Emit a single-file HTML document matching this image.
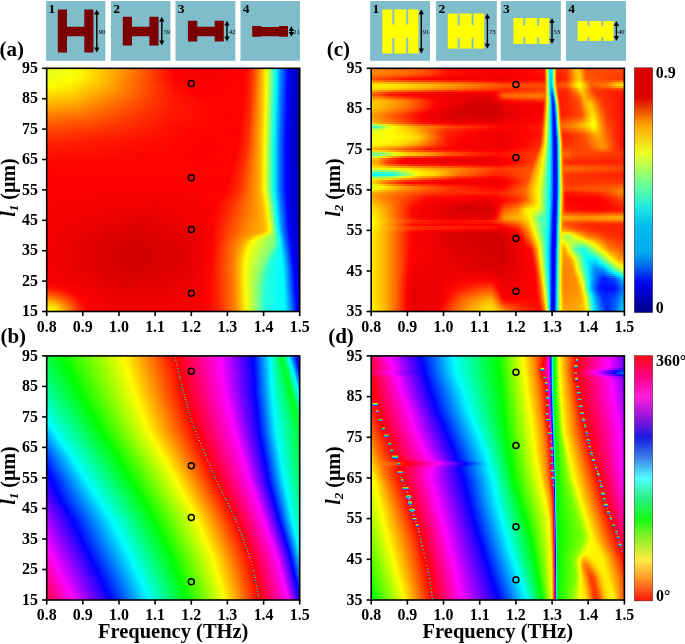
<!DOCTYPE html>
<html lang="en"><head><meta charset="utf-8"><title>Figure</title>
<style>
html,body{margin:0;padding:0;background:#fff}
body{width:685px;height:644px;position:relative;overflow:hidden;font-family:"Liberation Serif",serif}
.hm{position:absolute;overflow:hidden}
.hm i{display:block;width:100%;margin-bottom:-0.3px}
svg{position:absolute;left:0;top:0}
svg text{font-family:"Liberation Serif",serif;font-weight:bold;fill:#000}
.tk{font-size:15.9px}
.yl{font-size:20px}
.xl{font-size:20.5px}
.pl{font-size:21px}
.tn{font-size:13.5px}
.ts{font-size:6.6px;font-weight:normal}
.cb{font-size:15.9px}
</style></head><body>
<div class="hm" style="left:46.7px;top:68.3px;width:253.0px;height:243.2px">
<i style="height:2.30px;background:linear-gradient(90deg,#e5ff1a 0.2%,#f5ff0a 9.3%,#fff900 13.2%,#ffa000 28.3%,#ff0100 50.4%,#f70000 62.3%,#ff0300 78.5%,#ff2f00 81.2%,#ffab00 84.8%,#fff200 86.4%,#f7ff08 86.8%,#0ffff0 90.3%,#00f4ff 90.7%,#0078ff 92.7%,#000aff 95.1%,#0000fc 95.5%,#0000ac 99.4%,#0000a9 99.8%)"></i>
<i style="height:2.30px;background:linear-gradient(90deg,#e5ff1a 0.2%,#f5ff0a 9.3%,#fff900 13.2%,#ffa000 28.3%,#ff0100 50.4%,#f70000 61.9%,#ff0300 78.5%,#ff2f00 81.2%,#ffbc00 85.2%,#fff200 86.4%,#f7ff08 86.8%,#0ffff0 90.3%,#00f4ff 90.7%,#07f 92.7%,#0009ff 95.1%,#0000fb 95.5%,#0000ac 99.4%,#0000a9 99.8%)"></i>
<i style="height:2.30px;background:linear-gradient(90deg,#e6ff19 0.2%,#f6ff09 9.3%,#fff800 13.2%,#ffa000 28.3%,#f00 50.4%,#f60000 61.5%,#ff0400 78.5%,#ff3000 81.2%,#ffbc00 85.2%,#fff300 86.4%,#f6ff09 86.8%,#0dfff2 90.3%,#00f2ff 90.7%,#0076ff 92.7%,#0008ff 95.1%,#0000fb 95.5%,#0000ac 99.4%,#0000a9 99.8%)"></i>
<i style="height:2.30px;background:linear-gradient(90deg,#e8ff17 0.2%,#f8ff07 9.3%,#fff600 13.2%,#ff9e00 28.3%,#f00 50.4%,#f60000 61.9%,#f00 78.1%,#ff3100 81.2%,#ffbd00 85.2%,#fff300 86.4%,#f6ff09 86.8%,#0cfff3 90.3%,#00f1ff 90.7%,#0075ff 92.7%,#0007ff 95.1%,#0000f1 95.8%,#0000ac 99.4%,#0000a9 99.8%)"></i>
<i style="height:2.30px;background:linear-gradient(90deg,#ebff14 0.2%,#fbff04 9.3%,#ffea00 15.2%,#ff7f00 32.6%,#ff0100 50.4%,#f70000 62.3%,#ff0100 78.1%,#ff3200 81.2%,#ffbd00 85.2%,#fff400 86.4%,#f5ff0a 86.8%,#0afff5 90.3%,#00efff 90.7%,#0074ff 92.7%,#0006ff 95.1%,#0000f0 95.8%,#0000ac 99.4%,#0000a9 99.8%)"></i>
<i style="height:2.30px;background:linear-gradient(90deg,#efff10 0.2%,#fffc00 10.5%,#fb0 23.1%,#ff2800 44.5%,#fe0000 51.2%,#f80000 63.4%,#ff0100 78.1%,#ff2a00 80.8%,#ff6a00 82.8%,#ffcf00 85.6%,#fff400 86.4%,#f4ff0b 86.8%,#09fff6 90.3%,#0ef 90.7%,#0073ff 92.7%,#0006ff 95.1%,#0000e8 96.2%,#0000ac 99.4%,#0000a9 99.8%)"></i>
<i style="height:2.30px;background:linear-gradient(90deg,#f3ff0c 0.2%,#fffa00 9.7%,#ffbf00 21.9%,#ff2900 44.5%,#fe0000 51.6%,#f90000 64.2%,#ff0200 78.1%,#ff2b00 80.8%,#ff7900 83.2%,#ffcf00 85.6%,#fff400 86.4%,#f4ff0b 86.8%,#08fff7 90.3%,#00d2ff 91.1%,#0071ff 92.7%,#0005ff 95.1%,#0000d0 97.4%,#0000ac 99.4%,#0000a9 99.8%)"></i>
<i style="height:2.30px;background:linear-gradient(90deg,#f8ff07 0.2%,#fff900 8.5%,#ffc500 20.4%,#ff2c00 44.1%,#f00 52.0%,#fa0000 65.8%,#ff0200 78.1%,#ff2c00 80.8%,#ffaf00 84.8%,#fff500 86.4%,#f3ff0c 86.8%,#06fff9 90.3%,#00d1ff 91.1%,#0070ff 92.7%,#0004ff 95.1%,#0000ac 99.4%,#0000a9 99.8%)"></i>
<i style="height:2.30px;background:linear-gradient(90deg,#fdff02 0.2%,#fff400 8.5%,#ffc000 20.4%,#ff0500 51.2%,#fa0000 60.7%,#ff0300 78.1%,#ff2d00 80.8%,#ffbf00 85.2%,#fff500 86.4%,#f3ff0c 86.8%,#05fffa 90.3%,#006fff 92.7%,#0003ff 95.1%,#0000ac 99.4%,#0000a9 99.8%)"></i>
<i style="height:2.30px;background:linear-gradient(90deg,#fffa00 0.2%,#ffe900 10.1%,#ffad00 23.1%,#ff0900 50.8%,#fd0000 55.1%,#ff0300 78.1%,#ff2d00 80.8%,#ffbf00 85.2%,#fff600 86.4%,#f2ff0d 86.8%,#03fffc 90.3%,#006eff 92.7%,#0003ff 95.1%,#0000ac 99.4%,#0000a9 99.8%)"></i>
<i style="height:2.30px;background:linear-gradient(90deg,#fff400 0.2%,#ffe300 10.1%,#ffa600 23.5%,#ff0c00 50.8%,#fe0000 55.9%,#ff0400 78.1%,#ff2e00 80.8%,#ffc000 85.2%,#fff600 86.4%,#f1ff0e 86.8%,#02fffd 90.3%,#0082ff 92.3%,#01f 94.7%,#0002ff 95.1%,#0000ac 99.4%,#0000a9 99.8%)"></i>
<i style="height:2.30px;background:linear-gradient(90deg,#ffec00 0.2%,#ffdc00 10.1%,#ff9f00 23.9%,#ff0f00 50.4%,#fe0000 57.1%,#ff0100 77.7%,#ff2f00 80.8%,#ffc000 85.2%,#fff700 86.4%,#f1ff0e 86.8%,#0ff 90.3%,#0080ff 92.3%,#0010ff 94.7%,#0001ff 95.1%,#0000ac 99.4%,#0000a9 99.8%)"></i>
<i style="height:2.30px;background:linear-gradient(90deg,#ffe400 0.2%,#ffd400 10.5%,#ff9500 24.7%,#ff1300 50.0%,#fe0000 58.3%,#ff0100 77.7%,#ff3000 80.8%,#ffc100 85.2%,#fff700 86.4%,#f0ff0f 86.8%,#00feff 90.3%,#007fff 92.3%,#000fff 94.7%,#0001ff 95.1%,#0000ac 99.4%,#0000a9 99.8%)"></i>
<i style="height:2.30px;background:linear-gradient(90deg,#ffdc00 0.2%,#fc0 10.5%,#ff8c00 25.5%,#ff1500 50.0%,#f00 59.9%,#ff0200 77.7%,#ff3100 80.8%,#f90 84.0%,#ffd200 85.6%,#fff800 86.4%,#f0ff0f 86.8%,#00fcff 90.3%,#007eff 92.3%,#000eff 94.7%,#00f 95.1%,#0000ac 99.4%,#0000a9 99.8%)"></i>
<i style="height:2.30px;background:linear-gradient(90deg,#ffd400 0.2%,#ffc300 10.9%,#ff8100 26.7%,#ff1700 49.6%,#ff0100 60.7%,#ff0200 77.7%,#ff3200 80.8%,#ff9a00 84.0%,#ffd200 85.6%,#fff800 86.4%,#efff10 86.8%,#00fbff 90.3%,#007dff 92.3%,#000dff 94.7%,#00f 95.1%,#0000ac 99.4%,#0000a9 99.8%)"></i>
<i style="height:2.30px;background:linear-gradient(90deg,#ffcb00 0.2%,#ffba00 11.3%,#ff7200 28.7%,#ff1700 50.0%,#ff0200 61.9%,#ff0300 77.7%,#ff2a00 80.4%,#ff5c00 82.0%,#ffc200 85.2%,#fff900 86.4%,#ef1 86.8%,#16ffe9 89.9%,#00f9ff 90.3%,#007cff 92.3%,#000cff 94.7%,#0000fe 95.1%,#0000ac 99.4%,#0000a9 99.8%)"></i>
<i style="height:2.30px;background:linear-gradient(90deg,#ffc200 0.2%,#ffb200 11.3%,#ff6900 29.4%,#ff1700 50.0%,#ff0300 62.6%,#ff0300 77.7%,#ff2b00 80.4%,#ff5e00 82.0%,#ffc200 85.2%,#fff900 86.4%,#ef1 86.8%,#14ffeb 89.9%,#00f8ff 90.3%,#007aff 92.3%,#000bff 94.7%,#0000fd 95.1%,#0000ac 99.4%,#0000a9 99.8%)"></i>
<i style="height:2.30px;background:linear-gradient(90deg,#ffb900 0.2%,#ffa800 11.7%,#ff5900 32.2%,#ff1600 50.8%,#ff0200 65.0%,#ff0400 77.7%,#ff2b00 80.4%,#ff9200 83.6%,#ffc200 85.2%,#fffa00 86.4%,#d4ff2b 87.2%,#13ffec 89.9%,#00f6ff 90.3%,#0079ff 92.3%,#000bff 94.7%,#0000fd 95.1%,#0000ac 99.4%,#0000a9 99.8%)"></i>
<i style="height:2.30px;background:linear-gradient(90deg,#ffb000 0.2%,#ff9f00 12.1%,#ff1a00 49.2%,#ff0300 63.8%,#ff0100 77.3%,#ff2d00 80.4%,#ff9200 83.6%,#ffc300 85.2%,#fffb00 86.4%,#d3ff2c 87.2%,#1fe 89.9%,#00f5ff 90.3%,#0078ff 92.3%,#000aff 94.7%,#0000fc 95.1%,#0000ac 99.4%,#0000a9 99.8%)"></i>
<i style="height:2.30px;background:linear-gradient(90deg,#ffa700 0.2%,#ff9500 12.5%,#ff1a00 48.8%,#ff0300 64.6%,#ff0100 77.3%,#ff2e00 80.4%,#ff9300 83.6%,#ffc400 85.2%,#fffc00 86.4%,#b7ff48 87.5%,#10ffef 89.9%,#00f4ff 90.3%,#07f 92.3%,#0009ff 94.7%,#0000fc 95.1%,#0000ab 99.4%,#0000a9 99.8%)"></i>
<i style="height:2.30px;background:linear-gradient(90deg,#ff9d00 0.2%,#ff8c00 12.8%,#ff1a00 48.4%,#ff0300 65.4%,#ff0200 77.3%,#ff2f00 80.4%,#ff9400 83.6%,#ffc500 85.2%,#fffd00 86.4%,#9aff65 87.9%,#0efff1 89.9%,#00f2ff 90.3%,#0076ff 92.3%,#0008ff 94.7%,#0000fb 95.1%,#0000ab 99.4%,#0000a9 99.8%)"></i>
<i style="height:2.30px;background:linear-gradient(90deg,#ff9400 0.2%,#ff8300 13.2%,#ff1900 48.4%,#ff0200 66.6%,#ff0300 77.3%,#ff3100 80.4%,#ff8b00 83.2%,#ffb700 84.8%,#ff0 86.4%,#61ff9e 88.7%,#0dfff2 89.9%,#00f1ff 90.3%,#0075ff 92.3%,#0008ff 94.7%,#0000f2 95.5%,#0000ab 99.4%,#0000a9 99.8%)"></i>
<i style="height:2.30px;background:linear-gradient(90deg,#ff8b00 0.2%,#ff7a00 13.6%,#ff1800 48.4%,#ff0100 68.2%,#ff0400 77.3%,#f30 80.4%,#ff8c00 83.2%,#ffb800 84.8%,#feff01 86.4%,#4fb 89.1%,#0cfff3 89.9%,#00f0ff 90.3%,#0074ff 92.3%,#0007ff 94.7%,#0000f2 95.5%,#0000ab 99.4%,#0000a9 99.8%)"></i>
<i style="height:2.30px;background:linear-gradient(90deg,#ff8200 0.2%,#ff7100 14.0%,#ff1600 48.4%,#ff0100 69.4%,#ff0100 76.9%,#ff2b00 80.0%,#ff9600 83.6%,#ffc800 85.2%,#fdff02 86.4%,#42ffbd 89.1%,#0afff5 89.9%,#0ef 90.3%,#0073ff 92.3%,#0006ff 94.7%,#0000f1 95.5%,#0000ab 99.4%,#0000a9 99.8%)"></i>
<i style="height:2.30px;background:linear-gradient(90deg,#ff7a00 0.2%,#ff6800 14.8%,#ff1500 48.4%,#f00 70.6%,#ff0200 76.9%,#ff2c00 80.0%,#ff9700 83.6%,#ffc900 85.2%,#fcff03 86.4%,#41ffbe 89.1%,#09fff6 89.9%,#00edff 90.3%,#0072ff 92.3%,#0005ff 94.7%,#0000ea 95.8%,#0000ab 99.4%,#0000a9 99.8%)"></i>
<i style="height:2.30px;background:linear-gradient(90deg,#ff7100 0.2%,#ff6000 15.2%,#ff1300 48.8%,#f00 71.7%,#ff0200 76.9%,#ff2d00 80.0%,#ff8e00 83.2%,#ffba00 84.8%,#faff05 86.4%,#3fffc0 89.1%,#08fff7 89.9%,#00d1ff 90.7%,#0071ff 92.3%,#0005ff 94.7%,#0000d4 97.0%,#0000ab 99.4%,#0000a9 99.8%)"></i>
<i style="height:2.30px;background:linear-gradient(90deg,#ff6900 0.2%,#ff5700 16.0%,#f10 49.2%,#f00 72.5%,#ff0300 76.9%,#ff2f00 80.0%,#ff8f00 83.2%,#fb0 84.8%,#fff000 86.0%,#f9ff06 86.4%,#3effc1 89.1%,#06fff9 89.9%,#00d0ff 90.7%,#0070ff 92.3%,#0004ff 94.7%,#0000ab 99.4%,#0000a9 99.8%)"></i>
<i style="height:2.30px;background:linear-gradient(90deg,#ff6100 0.2%,#ff4f00 16.8%,#ff0f00 49.6%,#fe0000 73.3%,#ff0400 76.9%,#ff3000 80.0%,#ff9000 83.2%,#ffbc00 84.8%,#fff100 86.0%,#f8ff07 86.4%,#3cffc3 89.1%,#05fffa 89.9%,#0084ff 91.9%,#0012ff 94.3%,#0004ff 94.7%,#0000ab 99.4%,#0000a9 99.8%)"></i>
<i style="height:2.30px;background:linear-gradient(90deg,#ff5900 0.2%,#ff4800 17.6%,#ff0c00 50.4%,#fe0000 74.9%,#ff0500 76.9%,#ff3200 80.0%,#ff9100 83.2%,#ffbd00 84.8%,#fff200 86.0%,#f6ff09 86.4%,#3bffc4 89.1%,#03fffc 89.9%,#006eff 92.3%,#0003ff 94.7%,#0000ab 99.4%,#0000a9 99.8%)"></i>
<i style="height:2.30px;background:linear-gradient(90deg,#ff5200 0.2%,#ff4000 18.4%,#ff0a00 51.2%,#f00 76.1%,#ff2b00 79.6%,#ff9100 83.2%,#ffbe00 84.8%,#fff300 86.0%,#f5ff0a 86.4%,#3affc5 89.1%,#02fffd 89.9%,#0082ff 91.9%,#01f 94.3%,#0002ff 94.7%,#0000ab 99.4%,#0000a9 99.8%)"></i>
<i style="height:2.30px;background:linear-gradient(90deg,#ff4b00 0.2%,#ff3900 19.2%,#ff0800 52.0%,#f00 76.1%,#ff2c00 79.6%,#ff9200 83.2%,#ffbf00 84.8%,#fff500 86.0%,#f3ff0c 86.4%,#38ffc7 89.1%,#01fffe 89.9%,#0080ff 91.9%,#0010ff 94.3%,#0002ff 94.7%,#0000ab 99.4%,#0000a9 99.8%)"></i>
<i style="height:2.30px;background:linear-gradient(90deg,#f40 0.2%,#f30 20.4%,#ff0600 53.2%,#f00 76.1%,#ff2d00 79.6%,#ff9300 83.2%,#ffc000 84.8%,#fff600 86.0%,#f2ff0d 86.4%,#37ffc8 89.1%,#00feff 89.9%,#007fff 91.9%,#000fff 94.3%,#0001ff 94.7%,#0000ab 99.4%,#0000a9 99.8%)"></i>
<i style="height:2.30px;background:linear-gradient(90deg,#ff3e00 0.2%,#ff2c00 21.9%,#ff0400 54.7%,#f00 76.1%,#ff2e00 79.6%,#ff9400 83.2%,#ffc100 84.8%,#fff700 86.0%,#f1ff0e 86.4%,#35ffca 89.1%,#00fdff 89.9%,#007eff 91.9%,#000eff 94.3%,#0001ff 94.7%,#0000ab 99.4%,#0000a9 99.8%)"></i>
<i style="height:2.30px;background:linear-gradient(90deg,#ff3800 0.2%,#ff2600 23.1%,#ff0300 56.3%,#ff0100 76.1%,#ff3000 79.6%,#ff9400 83.2%,#ffc200 84.8%,#fff800 86.0%,#efff10 86.4%,#34ffcb 89.1%,#00fcff 89.9%,#007dff 91.9%,#000eff 94.3%,#00f 94.7%,#0000ab 99.4%,#0000a9 99.8%)"></i>
<i style="height:2.30px;background:linear-gradient(90deg,#f30 0.2%,#ff1f00 25.1%,#ff0100 58.7%,#ff0200 76.1%,#ff3100 79.6%,#ff8c00 82.8%,#ffb400 84.4%,#fffa00 86.0%,#d5ff2a 86.8%,#17ffe8 89.5%,#00faff 89.9%,#007cff 91.9%,#000dff 94.3%,#00f 94.7%,#0000ab 99.4%,#0000a9 99.8%)"></i>
<i style="height:2.30px;background:linear-gradient(90deg,#ff2e00 0.2%,#ff1a00 27.1%,#f00 60.7%,#ff0300 76.1%,#ff2a00 79.2%,#ff9600 83.2%,#ffc300 84.8%,#fffb00 86.0%,#d4ff2b 86.8%,#15ffea 89.5%,#00f9ff 89.9%,#007bff 91.9%,#000cff 94.3%,#0000fe 94.7%,#0000ab 99.4%,#0000a9 99.8%)"></i>
<i style="height:2.30px;background:linear-gradient(90deg,#ff2900 0.2%,#ff1400 30.2%,#f00 62.6%,#ff0400 76.1%,#ff2c00 79.2%,#ff9700 83.2%,#ffb500 84.4%,#fffc00 86.0%,#b9ff46 87.2%,#14ffeb 89.5%,#00f8ff 89.9%,#007aff 91.9%,#000cff 94.3%,#0000fe 94.7%,#0000ab 99.4%,#0000a9 99.8%)"></i>
<i style="height:2.30px;background:linear-gradient(90deg,#ff2400 0.2%,#ff0d00 34.6%,#fe0000 65.8%,#ff0100 75.7%,#ff2d00 79.2%,#ff9700 83.2%,#ffb600 84.4%,#fffd00 86.0%,#9dff62 87.5%,#13ffec 89.5%,#00f7ff 89.9%,#0079ff 91.9%,#000bff 94.3%,#0000fd 94.7%,#0000ab 99.4%,#0000a9 99.8%)"></i>
<i style="height:2.30px;background:linear-gradient(90deg,#ff2000 0.2%,#fe0000 61.1%,#ff0300 75.7%,#ff3000 79.2%,#ff8f00 82.8%,#ffb600 84.4%,#fffd00 86.0%,#82ff7d 87.9%,#13ffec 89.5%,#00f6ff 89.9%,#0079ff 91.9%,#000bff 94.3%,#0000fd 94.7%,#0000ab 99.4%,#0000a9 99.8%)"></i>
<i style="height:2.30px;background:linear-gradient(90deg,#ff1c00 0.2%,#fe0000 61.1%,#ff0100 75.3%,#ff2b00 78.9%,#ff9800 83.2%,#ffb700 84.4%,#fffe00 86.0%,#82ff7d 87.9%,#13ffec 89.5%,#00f6ff 89.9%,#0079ff 91.9%,#000bff 94.3%,#0000fd 94.7%,#0000ac 99.4%,#0000a9 99.8%)"></i>
<i style="height:2.30px;background:linear-gradient(90deg,#ff1900 0.2%,#fe0000 60.7%,#ff0300 75.3%,#ff2d00 78.9%,#f90 83.2%,#ffb700 84.4%,#fffe00 86.0%,#82ff7d 87.9%,#13ffec 89.5%,#00f6ff 89.9%,#0079ff 91.9%,#000bff 94.3%,#0000fe 94.7%,#0000ac 99.4%,#0000a9 99.8%)"></i>
<i style="height:2.30px;background:linear-gradient(90deg,#ff1600 0.2%,#fe0000 60.3%,#ff0200 74.9%,#ff3000 78.9%,#ff9a00 83.2%,#ffb700 84.4%,#fffe00 86.0%,#82ff7d 87.9%,#13ffec 89.5%,#00f6ff 89.9%,#0079ff 91.9%,#000bff 94.3%,#0000fe 94.7%,#0000ac 99.4%,#0000a9 99.8%)"></i>
<i style="height:2.30px;background:linear-gradient(90deg,#ff1300 0.2%,#fe0000 59.5%,#ff0400 74.9%,#f30 78.9%,#ff9a00 83.2%,#ffb800 84.4%,#fffe00 86.0%,#82ff7d 87.9%,#13ffec 89.5%,#00f6ff 89.9%,#0079ff 91.9%,#000bff 94.3%,#0000fe 94.7%,#0000ac 99.4%,#0000a9 99.8%)"></i>
<i style="height:2.30px;background:linear-gradient(90deg,#ff1000 0.2%,#fe0000 59.1%,#ff0200 74.5%,#ff2e00 78.5%,#ffb800 84.4%,#fffe00 86.0%,#67ff98 88.3%,#13ffec 89.5%,#00f6ff 89.9%,#0079ff 91.9%,#000bff 94.3%,#0000fe 94.7%,#0000ac 99.4%,#0000a9 99.8%)"></i>
<i style="height:2.30px;background:linear-gradient(90deg,#ff0e00 0.2%,#fe0000 58.3%,#ff0400 74.5%,#ff3000 78.5%,#ffb800 84.4%,#ff0 86.0%,#67ff98 88.3%,#13ffec 89.5%,#00f6ff 89.9%,#0079ff 91.9%,#000cff 94.3%,#0000fe 94.7%,#0000ac 99.4%,#0000a9 99.8%)"></i>
<i style="height:2.30px;background:linear-gradient(90deg,#ff0b00 0.2%,#fe0000 58.7%,#ff0200 74.1%,#f30 78.5%,#ffb800 84.4%,#ff0 86.0%,#67ff98 88.3%,#13ffec 89.5%,#00f6ff 89.9%,#0079ff 91.9%,#000cff 94.3%,#0000fe 94.7%,#0000ad 99.4%,#0000a9 99.8%)"></i>
<i style="height:2.30px;background:linear-gradient(90deg,#ff0900 0.2%,#fd0000 60.3%,#ff0100 73.7%,#ff2e00 78.1%,#ffb900 84.4%,#ff0 86.0%,#67ff98 88.3%,#13ffec 89.5%,#00f6ff 89.9%,#0079ff 91.9%,#000cff 94.3%,#0000fe 94.7%,#0000ad 99.4%,#0000a9 99.8%)"></i>
<i style="height:2.30px;background:linear-gradient(90deg,#ff0700 0.2%,#fd0000 65.4%,#ff0300 73.7%,#ff3100 78.1%,#ffb900 84.4%,#ff0 86.0%,#67ff98 88.3%,#13ffec 89.5%,#00f6ff 89.9%,#0079ff 91.9%,#000cff 94.3%,#0000fe 94.7%,#0000ad 99.4%,#00a 99.8%)"></i>
<i style="height:2.30px;background:linear-gradient(90deg,#ff0600 0.2%,#fe0000 72.9%,#ff2c00 77.7%,#ffb900 84.4%,#ff0 86.0%,#67ff98 88.3%,#13ffec 89.5%,#00f6ff 89.9%,#0079ff 91.9%,#000cff 94.3%,#0000fe 94.7%,#0000ad 99.4%,#00a 99.8%)"></i>
<i style="height:2.30px;background:linear-gradient(90deg,#ff0400 0.2%,#ff0300 73.3%,#ff2e00 77.7%,#ffae00 84.0%,#ffd900 85.2%,#ff0 86.0%,#67ff98 88.3%,#13ffec 89.5%,#00f6ff 89.9%,#0079ff 91.9%,#000cff 94.3%,#0000fe 94.7%,#0000ad 99.4%,#00a 99.8%)"></i>
<i style="height:2.30px;background:linear-gradient(90deg,#ff0300 0.2%,#ff0200 72.9%,#ff3100 77.7%,#ffae00 84.0%,#ffd900 85.2%,#feff01 86.0%,#67ff98 88.3%,#13ffec 89.5%,#00f6ff 89.9%,#0079ff 91.9%,#000cff 94.3%,#0000fe 94.7%,#0000ad 99.4%,#00a 99.8%)"></i>
<i style="height:2.30px;background:linear-gradient(90deg,#ff0200 0.2%,#ff0300 72.9%,#f30 77.7%,#ffae00 84.0%,#ffd900 85.2%,#feff01 86.0%,#67ff98 88.3%,#13ffec 89.5%,#00f6ff 89.9%,#0079ff 91.9%,#000cff 94.3%,#00f 94.7%,#00a 99.8%)"></i>
<i style="height:2.30px;background:linear-gradient(90deg,#f00 0.2%,#ff0200 72.5%,#ff2f00 77.3%,#ffae00 84.0%,#ffda00 85.2%,#feff01 86.0%,#67ff98 88.3%,#13ffec 89.5%,#00f6ff 89.9%,#0079ff 91.9%,#000cff 94.3%,#00f 94.7%,#00a 99.8%)"></i>
<i style="height:2.30px;background:linear-gradient(90deg,#f00 0.2%,#ff0300 72.5%,#ff3100 77.3%,#ffaf00 84.0%,#ffda00 85.2%,#feff01 86.0%,#67ff98 88.3%,#13ffec 89.5%,#00f6ff 89.9%,#0079ff 91.9%,#000dff 94.3%,#00f 94.7%,#00a 99.8%)"></i>
<i style="height:2.30px;background:linear-gradient(90deg,#fe0000 0.2%,#ff0200 72.1%,#f30 77.3%,#ffaf00 84.0%,#ffda00 85.2%,#feff01 86.0%,#67ff98 88.3%,#13ffec 89.5%,#00f6ff 89.9%,#0079ff 91.9%,#000dff 94.3%,#00f 94.7%,#00a 99.8%)"></i>
<i style="height:2.30px;background:linear-gradient(90deg,#fe0000 0.2%,#fe0000 71.3%,#ff2f00 76.9%,#ffaf00 84.0%,#ffda00 85.2%,#feff01 86.0%,#67ff98 88.3%,#13ffec 89.5%,#00f6ff 89.9%,#0079ff 91.9%,#000dff 94.3%,#00f 94.7%,#00a 99.8%)"></i>
<i style="height:2.30px;background:linear-gradient(90deg,#fe0000 0.2%,#fd0000 70.9%,#ff2300 75.7%,#ff4600 78.1%,#ffaf00 84.0%,#ffda00 85.2%,#fdff02 86.0%,#67ff98 88.3%,#13ffec 89.5%,#00f6ff 89.9%,#0079ff 91.9%,#000dff 94.3%,#00f 94.7%,#00a 99.8%)"></i>
<i style="height:2.30px;background:linear-gradient(90deg,#fd0000 0.2%,#fd0000 70.6%,#ff0a00 72.5%,#f30 76.9%,#ffb000 84.0%,#ffdb00 85.2%,#fdff02 86.0%,#67ff98 88.3%,#13ffec 89.5%,#00f6ff 89.9%,#0079ff 91.9%,#000dff 94.3%,#00f 94.7%,#00a 99.8%)"></i>
<i style="height:2.30px;background:linear-gradient(90deg,#fd0000 0.2%,#fc0000 69.0%,#ff0500 71.7%,#ff2e00 76.5%,#ffb000 84.0%,#ffdb00 85.2%,#fdff02 86.0%,#67ff98 88.3%,#13ffec 89.5%,#00f6ff 89.9%,#0079ff 91.9%,#000dff 94.3%,#00f 94.7%,#0000ab 99.8%)"></i>
<i style="height:2.30px;background:linear-gradient(90deg,#fd0000 0.2%,#fb0000 63.0%,#ff0300 71.3%,#ff3000 76.5%,#ffb000 84.0%,#ffdb00 85.2%,#fdff02 86.0%,#67ff98 88.3%,#13ffec 89.5%,#00f6ff 89.9%,#0079ff 91.9%,#000dff 94.3%,#00f 94.7%,#0000ab 99.8%)"></i>
<i style="height:2.30px;background:linear-gradient(90deg,#fc0000 0.2%,#fa0000 58.7%,#ff0100 70.9%,#ff2d00 76.1%,#ffb000 84.0%,#ffdb00 85.2%,#fdff02 86.0%,#67ff98 88.3%,#13ffec 89.5%,#00f7ff 89.9%,#007aff 91.9%,#000eff 94.3%,#0001ff 94.7%,#0000ab 99.8%)"></i>
<i style="height:2.30px;background:linear-gradient(90deg,#fc0000 0.2%,#f90000 55.5%,#ff0100 70.6%,#ff3100 76.1%,#ffaf00 84.0%,#ffd800 85.2%,#fffd00 86.0%,#a0ff5f 87.5%,#16ffe9 89.5%,#00faff 89.9%,#007cff 91.9%,#000fff 94.3%,#0001ff 94.7%,#0000ab 99.8%)"></i>
<i style="height:2.30px;background:linear-gradient(90deg,#fc0000 0.2%,#f80000 52.8%,#ff0200 70.2%,#ff3000 75.7%,#ffad00 84.0%,#ffd300 85.2%,#fff700 86.0%,#f1ff0e 86.4%,#5fa 88.7%,#00feff 89.9%,#0080ff 91.9%,#01f 94.3%,#0003ff 94.7%,#0000ab 99.8%)"></i>
<i style="height:2.30px;background:linear-gradient(90deg,#fb0000 0.2%,#f60000 50.8%,#ff0300 69.8%,#ff3000 75.3%,#ffb400 84.4%,#fff100 86.0%,#f8ff07 86.4%,#78ff87 88.3%,#05fffa 89.9%,#009bff 91.5%,#0049ff 93.1%,#0004ff 94.7%,#0000ab 99.8%)"></i>
<i style="height:2.30px;background:linear-gradient(90deg,#fb0000 0.2%,#f50000 48.8%,#ff0400 69.4%,#ff3000 74.9%,#ffb100 84.4%,#ffda00 85.6%,#fefe01 86.4%,#9aff65 87.9%,#0bfff4 89.9%,#0ef 90.3%,#0072ff 92.3%,#0006ff 94.7%,#0000f2 95.5%,#0000ab 99.8%)"></i>
<i style="height:2.30px;background:linear-gradient(90deg,#fb0000 0.2%,#f40000 47.2%,#ff0100 68.6%,#ff3000 74.5%,#ffaf00 84.4%,#ffd500 85.6%,#fff900 86.4%,#f0ff0f 86.8%,#69ff96 88.7%,#10ffef 89.9%,#00f4ff 90.3%,#0076ff 92.3%,#0008ff 94.7%,#0000fb 95.1%,#0000ab 99.8%)"></i>
<i style="height:2.30px;background:linear-gradient(90deg,#fa0000 0.2%,#f20000 45.7%,#fe0000 67.4%,#ff2b00 73.7%,#ffad00 84.4%,#ffd000 85.6%,#fff200 86.4%,#f7ff08 86.8%,#70ff8f 88.7%,#16ffe9 89.9%,#00f9ff 90.3%,#007aff 92.3%,#000aff 94.7%,#0000fd 95.1%,#0000ab 99.8%)"></i>
<i style="height:2.30px;background:linear-gradient(90deg,#fa0000 0.2%,#f10000 44.5%,#fe0000 67.0%,#ff2b00 73.3%,#ffb300 84.8%,#ffed00 86.4%,#feff01 86.8%,#95ff6a 88.3%,#00feff 90.3%,#007eff 92.3%,#000cff 94.7%,#0000fe 95.1%,#0000ab 99.8%)"></i>
<i style="height:2.30px;background:linear-gradient(90deg,#fa0000 0.2%,#ef0000 43.3%,#fd0000 66.2%,#ff1000 69.4%,#f30 73.7%,#ffb100 84.8%,#ffd700 86.0%,#fffa00 86.8%,#ef1 87.2%,#60ff9f 89.1%,#05fffa 90.3%,#0083ff 92.3%,#000fff 94.7%,#0001ff 95.1%,#0000ab 99.8%)"></i>
<i style="height:2.30px;background:linear-gradient(90deg,#f90000 0.2%,#e00 42.1%,#fc0000 65.4%,#ff0700 67.8%,#f30 73.3%,#ffaf00 84.8%,#ffd200 86.0%,#fff300 86.8%,#f6ff09 87.2%,#87ff78 88.7%,#0bfff4 90.3%,#0ef 90.7%,#0071ff 92.7%,#01f 94.7%,#0002ff 95.1%,#0000ab 99.8%)"></i>
<i style="height:2.30px;background:linear-gradient(90deg,#f90000 0.2%,#ec0000 41.3%,#fb0000 65.0%,#ff0700 67.4%,#ff3200 72.9%,#ffb500 85.2%,#fe0 86.8%,#fdff02 87.2%,#8eff71 88.7%,#1fe 90.3%,#00f3ff 90.7%,#0075ff 92.7%,#0013ff 94.7%,#0004ff 95.1%,#0000ac 99.8%)"></i>
<i style="height:2.30px;background:linear-gradient(90deg,#f90000 0.2%,#eb0000 40.5%,#fa0000 64.2%,#ff0600 67.0%,#ff3100 72.5%,#ffb300 85.2%,#ffe900 86.8%,#fffc00 87.2%,#d1ff2e 87.9%,#17ffe8 90.3%,#00f8ff 90.7%,#0079ff 92.7%,#0006ff 95.1%,#0000e9 96.2%,#0000ac 99.8%)"></i>
<i style="height:2.30px;background:linear-gradient(90deg,#f80000 0.2%,#e90000 39.7%,#f90000 63.8%,#ff0400 66.6%,#ff3000 72.1%,#ff9d00 83.2%,#ffb200 85.2%,#ffe600 86.8%,#fff700 87.2%,#f1ff0e 87.5%,#7dff82 89.1%,#00feff 90.7%,#007cff 92.7%,#0008ff 95.1%,#0000f2 95.8%,#0000ac 99.8%)"></i>
<i style="height:2.30px;background:linear-gradient(90deg,#f80000 0.2%,#e70000 38.9%,#f80000 63.4%,#ff0500 66.6%,#ff3200 72.1%,#ff9400 82.0%,#ffb100 85.2%,#ffd300 86.4%,#fff300 87.2%,#f7ff08 87.5%,#83ff7c 89.1%,#04fffb 90.7%,#007fff 92.7%,#000aff 95.1%,#0000fc 95.5%,#0000ac 99.8%)"></i>
<i style="height:2.30px;background:linear-gradient(90deg,#f70000 0.2%,#e60000 38.1%,#f70000 63.0%,#ff0300 66.2%,#ff3100 71.7%,#ff8b00 80.8%,#ffb000 85.2%,#ffd100 86.4%,#fcff03 87.5%,#a9ff56 88.7%,#0afff5 90.7%,#00ecff 91.1%,#0082ff 92.7%,#000cff 95.1%,#0000fe 95.5%,#0000ad 99.8%)"></i>
<i style="height:2.30px;background:linear-gradient(90deg,#f70000 0.2%,#e40000 37.7%,#f70000 63.0%,#ff0400 66.2%,#ff2f00 71.3%,#ff8600 80.0%,#ffaf00 85.2%,#ffce00 86.4%,#fffe00 87.5%,#ceff31 88.3%,#10ffef 90.7%,#00f2ff 91.1%,#0086ff 92.7%,#000eff 95.1%,#00f 95.5%,#0000ad 99.8%)"></i>
<i style="height:2.30px;background:linear-gradient(90deg,#f60000 0.2%,#e20000 37.0%,#f50000 62.3%,#ff0500 66.2%,#ff3200 71.3%,#ff8500 79.6%,#ffaf00 85.2%,#fc0 86.4%,#fff900 87.5%,#efff10 87.9%,#7f8 89.5%,#16ffe9 90.7%,#00f7ff 91.1%,#008aff 92.7%,#01f 95.1%,#0002ff 95.5%,#0000ad 99.8%)"></i>
<i style="height:2.30px;background:linear-gradient(90deg,#f60000 0.2%,#e00000 36.6%,#f40000 61.9%,#ff0300 65.8%,#ff3100 70.9%,#ff8100 78.9%,#ffb400 85.6%,#ffe500 87.2%,#fff500 87.5%,#f5ff0a 87.9%,#7eff81 89.5%,#00fdff 91.1%,#008dff 92.7%,#0025ff 94.7%,#0003ff 95.5%,#0000ae 99.8%)"></i>
<i style="height:2.30px;background:linear-gradient(90deg,#f60000 0.2%,#df0000 36.2%,#f20000 61.5%,#ff0300 65.8%,#f30 70.9%,#ff7f00 78.5%,#ffb300 85.6%,#ffe200 87.2%,#faff05 87.9%,#a5ff5a 89.1%,#04fffb 91.1%,#0079ff 93.1%,#0015ff 95.1%,#0005ff 95.5%,#0000e0 97.0%,#0000ae 99.8%)"></i>
<i style="height:2.30px;background:linear-gradient(90deg,#f50000 0.2%,#d00 35.8%,#f00000 60.7%,#ff0400 65.8%,#ff3a00 71.3%,#ff7e00 78.1%,#ffb200 85.6%,#ffe000 87.2%,#feff01 87.9%,#cbff34 88.7%,#0afff5 91.1%,#00ebff 91.5%,#007cff 93.1%,#0007ff 95.5%,#0000f1 96.2%,#0000ae 99.8%)"></i>
<i style="height:2.30px;background:linear-gradient(90deg,#f50000 0.2%,#dc0000 35.4%,#ef0000 60.3%,#ff0200 65.4%,#ff3900 70.9%,#ff7d00 77.7%,#ffb200 85.6%,#ffeb00 87.5%,#fffb00 87.9%,#edff12 88.3%,#71ff8e 89.9%,#10ffef 91.1%,#00f1ff 91.5%,#0080ff 93.1%,#000aff 95.5%,#0000fc 95.8%,#0000af 99.8%)"></i>
<i style="height:2.30px;background:linear-gradient(90deg,#f40000 0.2%,#da0000 35.0%,#ed0000 59.9%,#ff0200 65.4%,#ff3b00 70.9%,#ff7c00 77.3%,#ffb000 85.2%,#ffd400 86.8%,#fff900 87.9%,#f1ff0e 88.3%,#9f6 89.5%,#1affe5 91.1%,#00fbff 91.5%,#0086ff 93.1%,#001fff 95.1%,#0000fe 95.8%,#0000af 99.8%)"></i>
<i style="height:2.30px;background:linear-gradient(90deg,#f40000 0.2%,#d90000 34.6%,#ec0000 59.5%,#ff0200 65.4%,#ff3800 70.6%,#ff7c00 76.9%,#ffb100 84.0%,#ffd500 86.0%,#fff500 87.2%,#efff10 87.9%,#b2ff4d 89.1%,#25ffda 91.1%,#08fff7 91.5%,#00eaff 91.9%,#0076ff 93.5%,#0013ff 95.5%,#0004ff 95.8%,#0000b0 99.8%)"></i>
<i style="height:2.30px;background:linear-gradient(90deg,#f40000 0.2%,#d70000 34.6%,#ea0000 59.1%,#ff0200 65.4%,#ff3600 70.2%,#ff8400 77.3%,#ffaf00 82.0%,#ffe700 84.8%,#efff10 86.4%,#9dff62 89.1%,#7dff82 89.9%,#14ffeb 91.5%,#00f7ff 91.9%,#007eff 93.5%,#0019ff 95.5%,#0000fb 96.2%,#0000b1 99.8%)"></i>
<i style="height:2.30px;background:linear-gradient(90deg,#f30000 0.2%,#d60000 34.2%,#e80000 58.3%,#ff0200 65.4%,#f30 69.8%,#ff9a00 78.9%,#ffbd00 81.2%,#fef601 83.6%,#ecff13 84.8%,#8aff75 89.5%,#6bff94 90.3%,#03fffc 91.9%,#0086ff 93.5%,#0032ff 95.1%,#0000fe 96.2%,#0000b2 99.8%)"></i>
<i style="height:2.30px;background:linear-gradient(90deg,#f30000 0.2%,#d50000 34.2%,#e70000 57.9%,#ff0200 65.4%,#ff3900 70.2%,#ffae00 79.2%,#fcfb03 82.4%,#8f7 89.5%,#6bff94 90.3%,#09fff6 91.9%,#00edff 92.3%,#0076ff 93.9%,#0013ff 95.8%,#0003ff 96.2%,#0000b2 99.8%)"></i>
<i style="height:2.30px;background:linear-gradient(90deg,#f30000 0.2%,#d40000 33.8%,#e50000 56.3%,#ff0200 65.4%,#ff3b00 70.2%,#ffa600 78.1%,#ffd900 80.0%,#fffa00 81.2%,#e3ff1c 83.2%,#85ff7a 89.5%,#68ff97 90.3%,#0bfff4 91.9%,#00f3ff 92.3%,#007fff 93.9%,#0018ff 95.8%,#0007ff 96.2%,#0000ef 97.0%,#0000b3 99.8%)"></i>
<i style="height:2.30px;background:linear-gradient(90deg,#f20000 0.2%,#d30000 33.8%,#e30000 55.5%,#f60000 62.6%,#ff0300 65.4%,#ff4d00 71.3%,#ff9b00 76.9%,#ffbc00 78.5%,#fff600 80.4%,#f8ff07 81.2%,#82ff7d 89.5%,#63ff9c 90.3%,#0dfff2 91.9%,#00f7ff 92.3%,#0070ff 94.3%,#000cff 96.2%,#0000fc 96.6%,#0000b4 99.8%)"></i>
<i style="height:2.30px;background:linear-gradient(90deg,#f20000 0.2%,#d20000 33.4%,#e10000 54.3%,#f00000 61.1%,#ff0300 65.4%,#ff7a00 74.5%,#ffb400 77.7%,#fff900 80.0%,#f0ff0f 81.2%,#84ff7b 89.1%,#6cff93 89.9%,#0efff1 91.9%,#00faff 92.3%,#0062ff 94.7%,#0001ff 96.6%,#0000b5 99.8%)"></i>
<i style="height:2.30px;background:linear-gradient(90deg,#f20000 0.2%,#d10000 33.4%,#e00000 54.0%,#f00000 61.1%,#ff0300 65.4%,#ff8500 74.9%,#ffb200 77.3%,#fff900 79.6%,#f6ff09 80.4%,#86ff79 88.7%,#70ff8f 89.5%,#26ffd9 91.1%,#00fcff 92.3%,#00b5ff 93.5%,#0054ff 95.1%,#0004ff 96.6%,#0000b6 99.8%)"></i>
<i style="height:2.30px;background:linear-gradient(90deg,#f20000 0.2%,#d00000 33.4%,#e00000 54.0%,#ef0000 60.7%,#ff0400 65.4%,#ff8200 74.5%,#ffba00 77.3%,#fefe01 79.6%,#7fff80 88.7%,#60ff9f 89.5%,#28ffd7 90.7%,#00fdff 92.3%,#00d6ff 93.1%,#005bff 95.1%,#0009ff 96.6%,#0000f9 97.0%,#0000b7 99.8%)"></i>
<i style="height:2.30px;background:linear-gradient(90deg,#f20000 0.2%,#d00000 33.4%,#df0000 54.0%,#ef0000 60.7%,#ff0400 65.4%,#ff8400 74.5%,#ffb400 76.9%,#fffc00 79.2%,#87ff78 87.9%,#71ff8e 88.7%,#29ffd6 90.3%,#0ff 92.3%,#00dbff 93.1%,#0036ff 95.8%,#000dff 96.6%,#0000fc 97.0%,#0000b8 99.8%)"></i>
<i style="height:2.30px;background:linear-gradient(90deg,#f20000 0.2%,#d00000 33.4%,#df0000 53.6%,#ef0000 60.7%,#ff0500 65.4%,#ff7e00 74.1%,#ffb900 76.9%,#fff800 78.9%,#f7ff08 79.6%,#86ff79 87.5%,#5dffa2 88.7%,#2affd5 89.9%,#01fffe 92.3%,#00e0ff 93.1%,#0025ff 96.2%,#0000fe 97.0%,#0000b9 99.8%)"></i>
<i style="height:2.30px;background:linear-gradient(90deg,#f20000 0.2%,#d00000 33.4%,#de0000 53.6%,#e00 60.3%,#ff0100 65.0%,#ff8000 74.1%,#ffb200 76.5%,#fffc00 78.9%,#84ff7b 87.2%,#5bffa4 88.3%,#2affd5 89.5%,#02fffd 92.3%,#00f6ff 92.7%,#00b7ff 93.9%,#0015ff 96.6%,#0003ff 97.0%,#0000ba 99.8%)"></i>
<i style="height:2.30px;background:linear-gradient(90deg,#f20000 0.2%,#d00000 33.4%,#de0000 53.6%,#e00 60.3%,#ff0200 65.0%,#ff7900 73.7%,#ffb700 76.5%,#fff800 78.5%,#f6ff09 79.2%,#83ff7c 86.8%,#59ffa6 87.9%,#2affd5 89.1%,#10ffef 91.1%,#03fffc 92.3%,#00f9ff 92.7%,#00d4ff 93.5%,#001aff 96.6%,#0006ff 97.0%,#0000eb 97.8%,#00b 99.8%)"></i>
<i style="height:2.30px;background:linear-gradient(90deg,#f20000 0.2%,#d00000 33.4%,#df0000 53.6%,#e00 60.3%,#ff0300 65.0%,#ff7a00 73.7%,#ffaf00 76.1%,#fffc00 78.5%,#83ff7c 86.4%,#58ffa7 87.5%,#2affd5 88.7%,#12ffed 90.7%,#00fbff 92.7%,#00d9ff 93.5%,#000aff 97.0%,#0000f9 97.4%,#0000bd 99.8%)"></i>
<i style="height:2.30px;background:linear-gradient(90deg,#f20000 0.2%,#d00000 33.4%,#df0000 54.0%,#f00000 60.7%,#ff0300 65.0%,#ff7b00 73.7%,#ffb200 76.1%,#ff0 78.5%,#83ff7c 86.0%,#5bffa4 87.2%,#2cffd3 88.3%,#18ffe7 89.9%,#00fcff 92.7%,#00deff 93.5%,#000eff 97.0%,#0000fc 97.4%,#0000be 99.8%)"></i>
<i style="height:2.30px;background:linear-gradient(90deg,#f20000 0.2%,#d10000 33.4%,#e00000 54.0%,#f00000 60.7%,#ff0400 65.0%,#ff7c00 73.7%,#ffb400 76.1%,#fff600 78.1%,#feff01 78.5%,#85ff7a 85.6%,#5effa1 86.8%,#2fffd0 87.9%,#1cffe3 89.1%,#00feff 92.7%,#00e3ff 93.5%,#0013ff 97.0%,#00f 97.4%,#0000c7 99.4%,#0000bf 99.8%)"></i>
<i style="height:2.30px;background:linear-gradient(90deg,#f20000 0.2%,#d10000 33.4%,#e10000 54.3%,#f20000 61.1%,#ff0200 64.6%,#ff7d00 73.7%,#ffb600 76.1%,#fff800 78.1%,#f4ff0b 78.9%,#7dff82 85.6%,#28ffd7 87.9%,#01fffe 92.7%,#00e7ff 93.5%,#0060ff 95.8%,#0003ff 97.4%,#0000c1 99.8%)"></i>
<i style="height:2.30px;background:linear-gradient(90deg,#f30000 0.2%,#d20000 33.4%,#e20000 54.7%,#f40000 61.5%,#ff0300 64.6%,#ff7600 73.3%,#ffb800 76.1%,#fffa00 78.1%,#dcff23 80.0%,#7eff81 85.2%,#2bffd4 87.5%,#17ffe8 89.5%,#01fffe 92.7%,#00ebff 93.5%,#0067ff 95.8%,#0007ff 97.4%,#0000ea 98.2%,#0000c2 99.8%)"></i>
<i style="height:2.30px;background:linear-gradient(90deg,#f30000 0.2%,#d30000 33.4%,#e30000 55.1%,#f80000 62.3%,#ff0400 64.6%,#f70 73.3%,#ffb900 76.1%,#fffb00 78.1%,#81ff7e 84.8%,#2effd1 87.2%,#1effe1 88.3%,#02fffd 92.7%,#0ef 93.5%,#0084ff 95.5%,#000bff 97.4%,#0000f9 97.8%,#0000c4 99.8%)"></i>
<i style="height:2.30px;background:linear-gradient(90deg,#f30000 0.2%,#d40000 33.8%,#e50000 56.3%,#ff0400 64.6%,#f70 73.3%,#ffb900 76.1%,#fffc00 78.1%,#7bff84 84.8%,#2affd5 87.2%,#14ffeb 89.9%,#00fbff 93.1%,#00deff 93.9%,#0057ff 96.2%,#000eff 97.4%,#0000fb 97.8%,#00c 99.4%,#0000c5 99.8%)"></i>
<i style="height:2.30px;background:linear-gradient(90deg,#f40000 0.2%,#d50000 33.4%,#e50000 55.9%,#ff0400 64.6%,#ff7600 73.3%,#ffb900 76.1%,#fffb00 78.1%,#80ff7f 84.4%,#2fffd0 86.8%,#1effe1 87.9%,#00fcff 93.1%,#00e0ff 93.9%,#005aff 96.2%,#01f 97.4%,#0000fd 97.8%,#0000ce 99.4%,#0000c6 99.8%)"></i>
<i style="height:2.30px;background:linear-gradient(90deg,#f50000 0.2%,#d60000 33.4%,#e70000 56.7%,#ff0400 64.6%,#ff6f00 72.9%,#ffad00 75.7%,#fffb00 78.1%,#7bff84 84.4%,#2bffd4 86.8%,#19ffe6 88.7%,#00fdff 93.1%,#00e2ff 93.9%,#005dff 96.2%,#0001ff 97.8%,#0000cf 99.4%,#0000c8 99.8%)"></i>
<i style="height:2.30px;background:linear-gradient(90deg,#f60000 0.2%,#d80000 33.0%,#e70000 56.3%,#ff0100 64.2%,#ff3000 68.2%,#ff7d00 73.7%,#ffb800 76.1%,#fffb00 78.1%,#81ff7e 84.0%,#28ffd7 86.8%,#00feff 93.1%,#00e4ff 93.9%,#0060ff 96.2%,#0003ff 97.8%,#0000c9 99.8%)"></i>
<i style="height:2.30px;background:linear-gradient(90deg,#f80000 0.2%,#d90000 32.6%,#e80000 56.3%,#ff0100 64.2%,#ff2a00 67.8%,#ff7d00 73.7%,#ffb800 76.1%,#fffa00 78.1%,#c4ff3b 80.8%,#7dff82 84.0%,#2dffd2 86.4%,#1cffe3 87.9%,#00feff 93.1%,#00e6ff 93.9%,#004aff 96.6%,#0006ff 97.8%,#0000e8 98.6%,#0000cb 99.8%)"></i>
<i style="height:2.30px;background:linear-gradient(90deg,#fa0000 0.2%,#db0000 31.4%,#e70000 54.3%,#f50000 61.1%,#ff0200 64.2%,#ff2a00 67.8%,#ff7d00 73.7%,#ffb800 76.1%,#fffa00 78.1%,#d4ff2b 80.0%,#7aff85 84.0%,#2bffd4 86.4%,#1affe5 88.3%,#0ff 93.1%,#00e8ff 93.9%,#004dff 96.6%,#0009ff 97.8%,#0000f7 98.2%,#00c 99.8%)"></i>
<i style="height:2.30px;background:linear-gradient(90deg,#fd0000 0.2%,#d00 29.8%,#e60000 52.4%,#f40000 60.7%,#ff0200 64.2%,#ff2900 67.8%,#ff7d00 73.7%,#ffb700 76.1%,#fffa00 78.1%,#df2 79.6%,#7f8 84.0%,#29ffd6 86.4%,#10ffef 90.3%,#0ff 93.1%,#00e9ff 93.9%,#0050ff 96.6%,#000cff 97.8%,#0000fa 98.2%,#0000cd 99.8%)"></i>
<i style="height:2.30px;background:linear-gradient(90deg,#ff0400 0.2%,#df0000 28.7%,#e60000 51.2%,#f40000 60.7%,#ff0300 64.2%,#ff2900 67.8%,#ff7c00 73.7%,#ffb700 76.1%,#fff900 78.1%,#e6ff19 79.2%,#74ff8b 84.0%,#30ffcf 86.0%,#1fffe0 87.2%,#01fffe 93.1%,#00ebff 93.9%,#0053ff 96.6%,#000fff 97.8%,#0000fc 98.2%,#0000cf 99.8%)"></i>
<i style="height:2.30px;background:linear-gradient(90deg,#f10 0.2%,#fb0000 7.3%,#e20000 25.5%,#e50000 47.6%,#f30000 60.3%,#ff0400 64.2%,#ff2800 67.8%,#ff7c00 73.7%,#ffb700 76.1%,#fff900 78.1%,#f0ff0f 78.9%,#7eff81 83.6%,#2effd1 86.0%,#1dffe2 87.5%,#01fffe 93.1%,#00ecff 93.9%,#006dff 96.2%,#0000fe 98.2%,#0000d0 99.8%)"></i>
<i style="height:2.30px;background:linear-gradient(90deg,#ff1f00 0.2%,#fc0000 8.5%,#e50000 23.9%,#e50000 46.8%,#f50000 60.7%,#ff0400 64.2%,#ff2800 67.8%,#ff7c00 73.7%,#ffb600 76.1%,#fff800 78.1%,#f0ff0f 78.9%,#7dff82 83.6%,#2cffd3 86.0%,#1dffe2 87.5%,#01fffe 93.1%,#0ef 93.9%,#0070ff 96.2%,#0002ff 98.2%,#0000d2 99.8%)"></i>
<i style="height:2.30px;background:linear-gradient(90deg,#ff3100 0.2%,#ff1700 5.7%,#fe0000 9.3%,#e70000 22.7%,#e60000 46.0%,#f50000 60.7%,#ff0500 64.2%,#ff2800 67.8%,#ff7b00 73.7%,#ffb500 76.1%,#fff700 78.1%,#f0ff0f 78.9%,#7bff84 83.6%,#2bffd4 86.0%,#1bffe4 87.9%,#00fbff 93.5%,#00dfff 94.3%,#002eff 97.4%,#0004ff 98.2%,#0000d3 99.8%)"></i>
<i style="height:2.30px;background:linear-gradient(90deg,#ff4600 0.2%,#ff2e00 4.9%,#fe0000 10.5%,#e90000 22.7%,#e80000 46.4%,#f60000 60.7%,#ff0200 63.8%,#ff2700 67.8%,#ff8300 74.1%,#ffc100 76.5%,#fcff03 78.5%,#7aff85 83.6%,#2affd5 86.0%,#19ffe6 88.3%,#00fcff 93.5%,#00e1ff 94.3%,#0049ff 97.0%,#0006ff 98.2%,#0000e8 99.0%,#0000d5 99.8%)"></i>
<i style="height:2.30px;background:linear-gradient(90deg,#ff5e00 0.2%,#ff4900 4.2%,#fe0000 11.7%,#ea0000 22.7%,#ea0000 47.2%,#f70000 61.1%,#ff0300 63.8%,#ff2600 67.8%,#ff8300 74.1%,#ffbf00 76.5%,#fdff02 78.5%,#79ff86 83.6%,#2affd5 86.0%,#17ffe8 88.7%,#00fcff 93.5%,#00e3ff 94.3%,#0065ff 96.6%,#0009ff 98.2%,#0000f7 98.6%,#0000d6 99.8%)"></i>
<i style="height:2.30px;background:linear-gradient(90deg,#f70 0.2%,#ff6300 3.8%,#ff0100 12.5%,#eb0000 23.1%,#ec0000 48.8%,#f80000 61.1%,#ff0300 63.8%,#ff2600 67.8%,#ff8200 74.1%,#ffbe00 76.5%,#feff01 78.5%,#78ff87 83.6%,#29ffd6 86.0%,#15ffea 89.1%,#00fdff 93.5%,#00e5ff 94.3%,#0069ff 96.6%,#000cff 98.2%,#0000f9 98.6%,#0000d7 99.8%)"></i>
<i style="height:2.30px;background:linear-gradient(90deg,#ff9200 0.2%,#ff7f00 3.4%,#ff0500 12.8%,#f10000 18.8%,#ea0000 40.9%,#f80000 61.1%,#ff0400 63.8%,#ff2b00 68.2%,#ff8200 74.1%,#ffbd00 76.5%,#ff0 78.5%,#7f8 83.6%,#29ffd6 86.0%,#10ffef 90.3%,#00feff 93.5%,#00e7ff 94.3%,#006dff 96.6%,#000fff 98.2%,#0000fb 98.6%,#0000d9 99.8%)"></i>
<i style="height:2.30px;background:linear-gradient(90deg,#ffad00 0.2%,#ff9800 3.4%,#ff0d00 12.8%,#fe0000 14.4%,#ed0000 24.7%,#f10000 53.6%,#fb0000 61.9%,#ff0700 64.2%,#ff2a00 68.2%,#ff8100 74.1%,#ffbc00 76.5%,#fffe00 78.5%,#76ff89 83.6%,#31ffce 85.6%,#20ffdf 86.8%,#0ff 93.5%,#00e9ff 94.3%,#0071ff 96.6%,#01f 98.2%,#0000fd 98.6%,#0000da 99.8%)"></i>
<i style="height:2.30px;background:linear-gradient(90deg,#ffc700 0.2%,#ffb500 3.0%,#ff6f00 7.3%,#ff1a00 12.5%,#f00 14.8%,#e00 25.1%,#f30000 56.3%,#ff0200 63.4%,#ff2900 68.2%,#ff8100 74.1%,#fb0 76.5%,#fffd00 78.5%,#75ff8a 83.6%,#31ffce 85.6%,#20ffdf 86.8%,#0ff 93.5%,#00ebff 94.3%,#0074ff 96.6%,#00f 98.6%,#0000dc 99.8%)"></i>
<i style="height:2.30px;background:linear-gradient(90deg,#ffde00 0.2%,#ffca00 3.0%,#ff8700 6.9%,#ff2800 12.1%,#ff0100 15.2%,#ef0000 25.5%,#f50000 59.5%,#ff0500 63.8%,#ff2900 68.2%,#ff8000 74.1%,#ffba00 76.5%,#fffc00 78.5%,#74ff8b 83.6%,#30ffcf 85.6%,#20ffdf 86.8%,#0ff 93.5%,#00ecff 94.3%,#0078ff 96.6%,#0002ff 98.6%,#00d 99.8%)"></i>
<i style="height:2.30px;background:linear-gradient(90deg,#fff100 0.2%,#ffdc00 3.0%,#ff9c00 6.5%,#ff2f00 12.1%,#ff0200 15.6%,#f00000 26.3%,#f70000 60.3%,#ff0200 63.4%,#ff2800 68.2%,#ff8000 74.1%,#ffb800 76.5%,#fffb00 78.5%,#73ff8c 83.6%,#2fffd0 85.6%,#20ffdf 86.8%,#01fffe 93.5%,#0ef 94.3%,#007cff 96.6%,#0005ff 98.6%,#0000de 99.8%)"></i>
<i style="height:2.30px;background:linear-gradient(90deg,#fefe01 0.2%,#fe0 2.6%,#ffb800 5.7%,#ff3b00 11.7%,#ff0500 15.6%,#f80000 18.8%,#f00000 39.3%,#fc0000 61.9%,#ff0500 63.8%,#ff2c00 68.6%,#f80 74.5%,#ffc400 76.9%,#fffa00 78.5%,#c1ff3e 80.8%,#64ff9b 84.0%,#2effd1 85.6%,#20ffdf 86.8%,#01fffe 93.5%,#00efff 94.3%,#0080ff 96.6%,#0008ff 98.6%,#0000e9 99.4%,#0000e0 99.8%)"></i>
<i style="height:1.50px;background:linear-gradient(90deg,#f8ff07 0.2%,#fffa00 2.2%,#ffce00 4.9%,#ff3e00 11.7%,#ff0c00 15.2%,#fd0000 17.2%,#f20000 30.6%,#fc0000 61.9%,#ff0600 63.8%,#ff2c00 68.6%,#ff8700 74.5%,#ffc300 76.9%,#fff900 78.5%,#e1ff1e 79.6%,#70ff8f 83.6%,#2effd1 85.6%,#1effe1 87.2%,#01fffe 93.5%,#00f0ff 94.3%,#0083ff 96.6%,#000aff 98.6%,#0000f7 99.0%,#0000e1 99.8%)"></i>
</div>
<div class="hm" style="left:371.2px;top:68.3px;width:253.2px;height:243.2px">
<i style="height:2.30px;background:linear-gradient(90deg,#ff8900 0.2%,#ff6800 14.0%,#ff4600 22.7%,#ff0f00 30.2%,#fd0000 43.3%,#fd0000 55.5%,#ff1200 66.6%,#ff1b00 68.2%,#ff2f00 68.6%,#ff6900 69.0%,#ffca00 69.4%,#c3ff3c 69.8%,#57ffa8 70.2%,#03fffc 70.6%,#00d9ff 70.9%,#00e2ff 71.3%,#21ffde 71.7%,#89ff76 72.1%,#ff0 72.5%,#ff9500 72.9%,#ff4c00 73.3%,#ff2f00 73.7%,#ff2c00 74.9%,#ff3400 76.9%,#f50 78.1%,#ffb800 80.8%,#ffc100 82.0%,#ffb100 82.8%,#ff5300 84.8%,#ff4800 85.6%,#ff4700 99.8%)"></i>
<i style="height:2.30px;background:linear-gradient(90deg,#ff8900 0.2%,#ff6800 14.0%,#ff4600 22.7%,#ff0f00 30.2%,#fd0000 43.3%,#fb0000 55.1%,#ff0900 63.8%,#ff1800 68.2%,#ff2c00 68.6%,#f60 69.0%,#ffc800 69.4%,#c5ff3a 69.8%,#58ffa7 70.2%,#03fffc 70.6%,#00d7ff 70.9%,#00deff 71.3%,#1effe1 71.7%,#87ff78 72.1%,#feff01 72.5%,#ff9600 72.9%,#ff4b00 73.3%,#ff2c00 73.7%,#ff2900 74.9%,#ff3100 76.9%,#ff5200 78.1%,#ffb600 80.8%,#ffc200 82.0%,#ffb300 82.8%,#f50 84.8%,#ff4a00 85.6%,#ff4500 99.8%)"></i>
<i style="height:2.30px;background:linear-gradient(90deg,#ff8900 0.2%,#ff6800 14.0%,#ff4600 22.7%,#ff0f00 30.2%,#fd0000 43.3%,#f90000 55.1%,#ff0600 64.6%,#ff1400 68.2%,#ff2800 68.6%,#ff6200 69.0%,#ffc500 69.4%,#c8ff37 69.8%,#5bffa4 70.2%,#03fffc 70.6%,#00d3ff 70.9%,#00d9ff 71.3%,#1affe5 71.7%,#84ff7b 72.1%,#fbff04 72.5%,#ff9600 72.9%,#ff4900 73.3%,#ff2800 73.7%,#ff2400 74.5%,#ff2d00 76.9%,#ff4f00 78.1%,#ffb200 80.8%,#ffc300 82.0%,#ffc100 82.4%,#ffa600 83.2%,#ff5900 84.8%,#ff4e00 85.6%,#ff4000 99.8%)"></i>
<i style="height:2.30px;background:linear-gradient(90deg,#ff8200 0.2%,#ff5200 16.8%,#ff3900 23.1%,#ff0a00 30.2%,#fa0000 44.9%,#f70000 55.1%,#ff0500 65.8%,#ff1000 68.2%,#ff2400 68.6%,#ff5f00 69.0%,#ffc100 69.4%,#cbff34 69.8%,#5dffa2 70.2%,#03fffc 70.6%,#00cfff 70.9%,#00d4ff 71.3%,#16ffe9 71.7%,#81ff7e 72.1%,#f8ff07 72.5%,#ff9700 72.9%,#ff4700 73.3%,#ff2500 73.7%,#ff2000 74.5%,#ff2900 76.9%,#ff4b00 78.1%,#ffaf00 80.8%,#ffc400 82.0%,#ffc400 82.4%,#fa0 83.2%,#ff5d00 84.8%,#ff5200 85.6%,#ff3d00 99.4%,#ff3c00 99.8%)"></i>
<i style="height:2.30px;background:linear-gradient(90deg,#ff6a00 0.2%,#ff2a00 16.8%,#ff1000 25.1%,#fd0000 30.6%,#f40000 54.0%,#ff0400 67.0%,#ff0b00 68.2%,#ff2000 68.6%,#ff5b00 69.0%,#ffbe00 69.4%,#ceff31 69.8%,#5fffa0 70.2%,#02fffd 70.6%,#00cbff 70.9%,#00d0ff 71.3%,#12ffed 71.7%,#7dff82 72.1%,#f6ff09 72.5%,#ff9800 72.9%,#ff4500 73.3%,#ff2100 73.7%,#ff1b00 74.5%,#ff2500 76.9%,#ff4700 78.1%,#ffac00 80.8%,#ffc500 82.0%,#ffc700 82.4%,#ffbf00 82.8%,#ff6100 84.8%,#f50 85.6%,#ff3b00 97.0%,#ff3800 99.8%)"></i>
<i style="height:2.30px;background:linear-gradient(90deg,#ff5700 0.2%,#ff0d00 14.8%,#fc0000 27.5%,#f20000 53.2%,#ff0400 67.4%,#ff0900 68.2%,#ff1d00 68.6%,#ff5700 69.0%,#ffba00 69.4%,#d1ff2e 69.8%,#61ff9e 70.2%,#02fffd 70.6%,#00c8ff 70.9%,#00cbff 71.3%,#0efff1 71.7%,#7aff85 72.1%,#f3ff0c 72.5%,#ff9a00 72.9%,#f40 73.3%,#ff1f00 73.7%,#ff1900 74.5%,#ff2300 76.9%,#f40 78.1%,#fa0 80.8%,#ffc800 82.0%,#ffcb00 82.4%,#ffc400 82.8%,#ff6700 84.8%,#ff5a00 85.6%,#ff3e00 95.1%,#ff3a00 99.8%)"></i>
<i style="height:2.30px;background:linear-gradient(90deg,#ff7f00 0.2%,#ff4100 16.4%,#fd0b00 47.2%,#fd0600 55.5%,#ff1700 67.8%,#ff1a00 68.2%,#ff2900 68.6%,#ff5a00 69.0%,#ffb800 69.4%,#d4ff2b 69.8%,#64ff9b 70.2%,#02fffd 70.6%,#00c4ff 70.9%,#00c6ff 71.3%,#0bfff4 71.7%,#7f8 72.1%,#efff10 72.5%,#ffa100 72.9%,#ff5000 73.3%,#ff2e00 73.7%,#ff2900 74.5%,#ff3100 76.9%,#ff5200 78.1%,#ffd100 81.6%,#fd0 82.4%,#ffc600 83.2%,#ff7e00 84.8%,#ff6100 86.4%,#f50 87.9%,#ff5400 93.9%,#ff6d00 99.4%,#ff6e00 99.8%)"></i>
<i style="height:2.30px;background:linear-gradient(90deg,#ffbd00 0.2%,#ffb600 6.9%,#ff3a00 48.8%,#ff2b00 53.6%,#ff3200 67.8%,#ff3c00 68.6%,#ff6300 69.0%,#ffb900 69.4%,#d6ff29 69.8%,#67ff98 70.2%,#06fff9 70.6%,#00c7ff 70.9%,#00c5ff 71.3%,#07fff8 71.7%,#73ff8c 72.1%,#eaff15 72.5%,#fa0 72.9%,#ff6100 73.3%,#f40 73.7%,#ff4000 74.9%,#ff4600 76.9%,#ff6500 78.1%,#fff300 82.0%,#fff500 82.4%,#fd0 83.2%,#ff8e00 85.2%,#ff5d00 87.2%,#f60 92.3%,#ff7100 93.9%,#ff9f00 97.0%,#ffb500 99.8%)"></i>
<i style="height:2.30px;background:linear-gradient(90deg,#ffe600 0.2%,#ffea00 6.1%,#ffc600 18.4%,#ff6e00 44.1%,#ff5000 53.6%,#ff4800 67.8%,#ff5000 68.6%,#ff7100 69.0%,#ffbd00 69.4%,#d9ff26 69.8%,#6cff93 70.2%,#0bfff4 70.6%,#00c9ff 70.9%,#00bfff 71.3%,#00f9ff 71.7%,#63ff9c 72.1%,#d9ff26 72.5%,#ffba00 72.9%,#ff7300 73.3%,#ff5600 73.7%,#ff5100 74.9%,#ff5600 76.9%,#ff7300 78.1%,#ffc500 80.4%,#fff900 81.6%,#f8ff07 82.4%,#fefd01 82.8%,#ff6b00 86.8%,#ff5d00 87.5%,#ff7f00 93.5%,#ffc900 97.0%,#ffeb00 99.8%)"></i>
<i style="height:2.30px;background:linear-gradient(90deg,#ffec00 0.2%,#ffeb00 6.5%,#ffb600 21.9%,#ff7400 39.7%,#ff5000 49.6%,#ff4600 55.5%,#ff4600 68.2%,#ff4d00 68.6%,#ff6f00 69.0%,#ffba00 69.4%,#dfff20 69.8%,#73ff8c 70.2%,#10ffef 70.6%,#00c6ff 70.9%,#00adff 71.3%,#00dcff 71.7%,#3fffc0 72.1%,#b7ff48 72.5%,#ffd300 72.9%,#ff7b00 73.3%,#ff5100 73.7%,#ff4700 74.1%,#ff4800 76.9%,#ff6200 78.1%,#ffbd00 80.8%,#fff000 82.0%,#fff700 82.4%,#ffec00 83.2%,#ff5c00 87.2%,#ff5200 88.3%,#ff6700 93.5%,#ff9b00 97.0%,#ffb200 99.8%)"></i>
<i style="height:2.30px;background:linear-gradient(90deg,#ffdf00 0.2%,#ffd500 6.1%,#ff6100 38.1%,#ff4100 48.4%,#ff2f00 52.4%,#ff3b00 67.4%,#ff3b00 68.2%,#ff4600 68.6%,#ff6d00 69.0%,#ffb900 69.4%,#e4ff1b 69.8%,#17ffe8 70.6%,#00c1ff 70.9%,#0091ff 71.3%,#00acff 71.7%,#10feef 72.1%,#8eff71 72.5%,#fff400 72.9%,#ff8f00 73.3%,#ff4f00 73.7%,#ff3600 74.1%,#ff2e00 76.5%,#ff3c00 77.7%,#ff9800 80.8%,#ffdc00 82.4%,#ffe400 82.8%,#ffe000 83.2%,#ff5300 87.2%,#ff3f00 88.3%,#f40 94.3%,#ff5600 99.8%)"></i>
<i style="height:2.30px;background:linear-gradient(90deg,#ffa700 0.2%,#ff9600 4.5%,#ff7f00 8.1%,#ff4100 25.9%,#ff1700 47.6%,#ff2900 52.0%,#ff4300 66.6%,#ff4000 68.2%,#ff4b00 68.6%,#ff7200 69.0%,#ffba00 69.4%,#e9ff16 69.8%,#1dffe2 70.6%,#00bcff 70.9%,#0076ff 71.3%,#007fff 71.7%,#00e1ff 72.1%,#67ff98 72.5%,#e9ff16 72.9%,#ffa300 73.3%,#ff5100 73.7%,#ff2c00 74.1%,#ff2300 74.9%,#ff2500 77.3%,#ff7b00 80.8%,#ffce00 82.8%,#ffd000 83.2%,#ffaf00 84.4%,#ff3e00 87.9%,#ff3000 90.3%,#ff1f00 99.8%)"></i>
<i style="height:2.30px;background:linear-gradient(90deg,#ff6d00 0.2%,#ff5800 3.8%,#ff3200 6.9%,#fd0e00 17.6%,#f80000 31.0%,#f70000 48.0%,#fe0300 49.2%,#f40 52.4%,#ff4f00 55.5%,#ff5d00 67.4%,#ff5700 68.2%,#ff5b00 68.6%,#ff7b00 69.0%,#fb0 69.4%,#edff12 69.8%,#24ffdb 70.6%,#0bf 70.9%,#06f 71.3%,#0064ff 71.7%,#00bdff 72.1%,#3dffc2 72.5%,#c2ff3d 72.9%,#ffc200 73.3%,#ff6400 73.7%,#ff3200 74.1%,#ff2300 74.5%,#ff2000 76.9%,#ff4100 78.9%,#ff7400 81.2%,#ffb200 82.8%,#ffbd00 83.6%,#ffb200 84.4%,#ff4a00 87.9%,#ff3100 89.9%,#ff1500 99.8%)"></i>
<i style="height:2.30px;background:linear-gradient(90deg,#ff5f00 0.2%,#ff4900 3.8%,#ff1f00 6.9%,#fc0100 15.2%,#ec0000 27.5%,#ea0000 47.6%,#ff0200 49.6%,#ff5400 52.0%,#ff6700 53.2%,#ff7800 67.4%,#ff6b00 68.6%,#ff8400 69.0%,#ffbc00 69.4%,#f2ff0d 69.8%,#2dffd2 70.6%,#00c2ff 70.9%,#0063ff 71.3%,#0043ff 71.7%,#0082ff 72.1%,#0af9f5 72.5%,#95ff6a 72.9%,#ffe700 73.3%,#ff8000 73.7%,#ff3d00 74.1%,#ff2300 74.5%,#ff1f00 76.5%,#ff2d00 78.1%,#ff6a00 81.6%,#ffb100 83.6%,#ffb700 84.0%,#ffac00 84.8%,#f40 88.7%,#ff3200 89.9%,#ff0f00 99.8%)"></i>
<i style="height:2.30px;background:linear-gradient(90deg,#ff8100 0.2%,#ff7100 3.8%,#ff4c00 7.3%,#ff1300 17.2%,#fb0000 21.5%,#e30000 41.3%,#e50000 47.6%,#fc0000 49.6%,#ff0700 50.0%,#ff4d00 52.0%,#ff6000 53.2%,#ff7300 67.4%,#ff6900 68.2%,#ff6a00 68.6%,#ff8500 69.0%,#ffbd00 69.4%,#f6ff09 69.8%,#37ffc8 70.6%,#00d0ff 70.9%,#006cff 71.3%,#002eff 71.7%,#004fff 72.1%,#00cfff 72.5%,#6aff95 72.9%,#f5ff0a 73.3%,#ff9700 73.7%,#ff4600 74.1%,#ff2300 74.5%,#ff1c00 75.3%,#ff2500 77.7%,#ff5a00 81.6%,#ff8300 82.8%,#ffb100 84.0%,#ffb000 84.8%,#ff7100 87.5%,#ff3e00 89.5%,#ff2300 93.9%,#ff0c00 99.8%)"></i>
<i style="height:2.30px;background:linear-gradient(90deg,#ffa500 0.2%,#ff9c00 3.8%,#ff7400 8.9%,#ff4800 15.6%,#fe0400 23.5%,#e00000 39.7%,#e30000 48.0%,#fc0000 50.4%,#f30 52.8%,#ff4c00 67.8%,#ff4a00 68.2%,#ff5600 68.6%,#ff7f00 69.0%,#f9ff06 69.8%,#40ffbf 70.6%,#0df 70.9%,#0079ff 71.3%,#0030ff 71.7%,#003eff 72.1%,#00a9ff 72.5%,#3dffc2 72.9%,#cdff32 73.3%,#ffb600 73.7%,#ff5b00 74.1%,#ff2b00 74.5%,#ff1c00 74.9%,#ff2500 77.7%,#ff5200 81.6%,#ff7600 82.8%,#ffa800 84.0%,#ffb300 84.8%,#ff9b00 86.8%,#ff4c00 89.5%,#ff2c00 92.3%,#ff0b00 99.8%)"></i>
<i style="height:2.30px;background:linear-gradient(90deg,#ffc200 0.2%,#fb0 4.2%,#ff6e00 15.2%,#ff0200 25.5%,#dc0000 38.9%,#d00 48.0%,#fd0400 52.0%,#ff1300 57.5%,#ff2700 67.8%,#ff2c00 68.2%,#ff4500 68.6%,#ff7a00 69.0%,#fcff03 69.8%,#a7ff58 70.2%,#49ffb6 70.6%,#00e8ff 70.9%,#0084ff 71.3%,#002fff 71.7%,#0023ff 72.1%,#0072ff 72.5%,#08f9f7 72.9%,#9dff62 73.3%,#ffdb00 73.7%,#ff7500 74.1%,#ff3500 74.5%,#ff1c00 74.9%,#ff1e00 76.9%,#ff5100 82.0%,#ff6a00 82.8%,#ffad00 84.4%,#ffb800 85.2%,#ffb100 86.8%,#ff5b00 89.5%,#ff3100 91.9%,#ff0c00 99.8%)"></i>
<i style="height:2.30px;background:linear-gradient(90deg,#ffc700 0.2%,#ffbf00 4.2%,#ff7100 15.2%,#ff0200 25.5%,#d90000 38.9%,#da0000 48.4%,#f30000 53.6%,#fd0500 67.4%,#fe0600 67.8%,#ff1500 68.2%,#ff3e00 68.6%,#ff0 69.8%,#adff52 70.2%,#50ffaf 70.6%,#00f2ff 70.9%,#0031ff 71.7%,#000eff 72.1%,#0045ff 72.5%,#00cdff 72.9%,#70ff8f 73.3%,#fcfa03 73.7%,#ff8d00 74.1%,#ff3f00 74.5%,#ff1d00 74.9%,#ff1800 75.7%,#f40 81.6%,#ff5000 82.4%,#ff8300 83.6%,#ffb700 84.8%,#ffc600 86.0%,#ffc500 86.8%,#ff9e00 87.9%,#ff6a00 89.5%,#ff3400 91.9%,#ff0c00 99.8%)"></i>
<i style="height:2.30px;background:linear-gradient(90deg,#ffc700 0.2%,#ffb900 4.5%,#ff6e00 15.2%,#fe0000 25.5%,#d50000 38.9%,#d70000 48.8%,#eb0000 54.0%,#fb0000 67.8%,#ff0d00 68.2%,#ff4000 68.6%,#fdff02 69.8%,#acff53 70.2%,#52ffad 70.6%,#00f7ff 70.9%,#0038ff 71.7%,#000cff 72.1%,#0036ff 72.5%,#00b3ff 72.9%,#53ffac 73.3%,#e7ff18 73.7%,#ffa000 74.1%,#ff4c00 74.5%,#ff2300 74.9%,#ff1800 75.3%,#ff3700 80.4%,#ff4a00 82.4%,#ff6700 83.2%,#ffb300 84.8%,#ffcb00 86.0%,#ffcf00 86.8%,#ffac00 87.9%,#ff7500 89.5%,#ff3900 91.9%,#ff0f00 99.0%,#ff0c00 99.8%)"></i>
<i style="height:2.30px;background:linear-gradient(90deg,#ffc600 0.2%,#ffb300 4.9%,#ff6b00 15.2%,#fe0000 25.1%,#d20000 38.5%,#d20000 48.4%,#ea0000 54.0%,#fc0000 67.8%,#ff1200 68.2%,#ff4800 68.6%,#ffc600 69.4%,#f6ff09 69.8%,#4effb1 70.6%,#00f6ff 70.9%,#003cff 71.7%,#000bff 72.1%,#002dff 72.5%,#00a0ff 72.9%,#3cffc3 73.3%,#d2ff2d 73.7%,#ffb100 74.1%,#ff5900 74.5%,#ff2800 74.9%,#ff1900 75.3%,#ff2e00 79.2%,#ff4800 82.4%,#ff6200 83.2%,#ffac00 84.8%,#ffc900 86.0%,#ffcf00 86.8%,#ffb600 87.9%,#ff6700 90.3%,#ff3f00 91.9%,#ff2600 94.7%,#ff0c00 99.8%)"></i>
<i style="height:2.30px;background:linear-gradient(90deg,#ffc000 0.2%,#ffa300 5.7%,#ff5e00 15.2%,#fe0100 23.9%,#d10000 38.5%,#d20000 48.8%,#e80000 54.0%,#f90000 67.4%,#fd0000 67.8%,#ff1b00 68.2%,#ffcd00 69.4%,#f0ff0f 69.8%,#4bffb4 70.6%,#00f6ff 70.9%,#003eff 71.7%,#000aff 72.1%,#0023ff 72.5%,#008cff 72.9%,#24ffdb 73.3%,#bcff43 73.7%,#ffc300 74.1%,#ff6500 74.5%,#ff2d00 74.9%,#ff1a00 75.3%,#ff2800 78.5%,#ff4700 82.4%,#ff6d00 83.6%,#ffb100 85.2%,#ffcd00 86.4%,#ffce00 87.2%,#ffc000 87.9%,#ff6300 90.7%,#ff3900 92.7%,#ff1f00 96.2%,#ff0c00 99.8%)"></i>
<i style="height:2.30px;background:linear-gradient(90deg,#ffb500 0.2%,#ff8600 7.7%,#ff4300 16.0%,#fd0000 22.7%,#d90000 34.2%,#cf0000 44.1%,#d30000 49.2%,#e70000 54.3%,#f90000 67.4%,#f00 67.8%,#ff2400 68.2%,#ffd400 69.4%,#e8ff17 69.8%,#48ffb7 70.6%,#00f6ff 70.9%,#0042ff 71.7%,#0009ff 72.1%,#001aff 72.5%,#0079ff 72.9%,#0cfff3 73.3%,#a6ff59 73.7%,#ffd500 74.1%,#ff7200 74.5%,#f30 74.9%,#ff1b00 75.3%,#ff2000 77.3%,#ff4500 82.4%,#f60 83.6%,#ffab00 85.2%,#ffcb00 86.4%,#ffd000 87.5%,#ffbe00 88.3%,#ff6a00 90.7%,#ff3d00 92.7%,#ff2900 94.7%,#ff0c00 99.8%)"></i>
<i style="height:2.30px;background:linear-gradient(90deg,#ffab00 0.2%,#ff4d00 12.8%,#fd0000 21.1%,#da0000 31.8%,#ce0000 47.2%,#e70000 55.5%,#fa0000 67.4%,#ff0400 67.8%,#ff2d00 68.2%,#ffdc00 69.4%,#e1ff1e 69.8%,#4fb 70.6%,#00f5ff 70.9%,#0045ff 71.7%,#000aff 72.1%,#0012ff 72.5%,#0068ff 72.9%,#00f6ff 73.3%,#92ff6d 73.7%,#ffe600 74.1%,#ff7d00 74.5%,#ff3800 74.9%,#ff1c00 75.3%,#ff1b00 76.5%,#ff4900 82.8%,#ff5f00 83.6%,#ffb300 85.6%,#ffd100 86.8%,#ffd700 87.5%,#ffca00 88.3%,#ff7100 90.7%,#ff3900 93.1%,#ff1e00 96.6%,#ff0c00 99.8%)"></i>
<i style="height:2.30px;background:linear-gradient(90deg,#ffa100 0.2%,#ff2a00 14.8%,#fe0000 19.6%,#d60000 31.0%,#d10000 48.8%,#e60000 55.5%,#fa0000 67.4%,#ff0800 67.8%,#ff3500 68.2%,#ffe300 69.4%,#dbff24 69.8%,#42ffbd 70.6%,#00f5ff 70.9%,#00a3ff 71.3%,#0048ff 71.7%,#000aff 72.1%,#000bff 72.5%,#0058ff 72.9%,#00e2ff 73.3%,#7eff81 73.7%,#fff700 74.1%,#ff8900 74.5%,#ff3e00 74.9%,#ff1e00 75.3%,#ff1a00 76.1%,#ff4700 82.8%,#ff5900 83.6%,#ffbd00 86.0%,#ffde00 87.5%,#ffde00 87.9%,#ffc500 88.7%,#ff7800 90.7%,#ff3400 93.5%,#ff0c00 99.8%)"></i>
<i style="height:2.30px;background:linear-gradient(90deg,#ffa200 0.2%,#ff2800 14.8%,#fe0000 19.6%,#da0000 31.0%,#d60000 48.8%,#e90000 55.5%,#fd0000 67.4%,#ff1000 67.8%,#ff3e00 68.2%,#ffe900 69.4%,#d4ff2b 69.8%,#3fffc0 70.6%,#00f4ff 70.9%,#00a5ff 71.3%,#004bff 71.7%,#000aff 72.1%,#0004ff 72.5%,#0048ff 72.9%,#00cfff 73.3%,#6cff93 73.7%,#f7ff08 74.1%,#ff9800 74.5%,#ff4b00 74.9%,#ff2a00 75.3%,#ff2600 76.1%,#f50 82.8%,#ff6500 83.6%,#ffc200 86.0%,#ffe600 87.5%,#ffe800 87.9%,#ffd100 88.7%,#ff8c00 90.3%,#ff3800 93.5%,#ff0c00 99.8%)"></i>
<i style="height:2.30px;background:linear-gradient(90deg,#ffa800 0.2%,#ff2e00 14.8%,#fe0000 20.4%,#e10000 31.4%,#d00 49.2%,#e00 55.5%,#ff0400 67.4%,#ff1a00 67.8%,#ff4800 68.2%,#fff000 69.4%,#ceff31 69.8%,#3cffc3 70.6%,#00f4ff 70.9%,#00a7ff 71.3%,#004eff 71.7%,#000bff 72.1%,#0000fc 72.5%,#0039ff 72.9%,#00bdff 73.3%,#59ffa6 73.7%,#e6ff19 74.1%,#ffa800 74.5%,#ff5c00 74.9%,#ff3a00 75.3%,#ff3600 76.1%,#ff6a00 82.8%,#ff8600 84.0%,#ffd400 86.4%,#fff100 87.9%,#ffeb00 88.3%,#ff8700 90.7%,#ff3c00 93.5%,#ff0c00 99.8%)"></i>
<i style="height:2.30px;background:linear-gradient(90deg,#ffaf00 0.2%,#ff3500 14.8%,#ff0300 21.1%,#e80000 32.6%,#e40000 49.2%,#f40000 55.5%,#ff0400 66.6%,#ff0e00 67.4%,#ff2400 67.8%,#ff5100 68.2%,#fff600 69.4%,#c8ff37 69.8%,#3affc5 70.6%,#00f4ff 70.9%,#00a9ff 71.3%,#0051ff 71.7%,#000cff 72.1%,#0000f9 72.5%,#002fff 72.9%,#00adff 73.3%,#45ffba 73.7%,#d2ff2d 74.1%,#ffb900 74.5%,#ff6c00 74.9%,#ff4b00 75.3%,#ff4700 76.1%,#ff7c00 82.4%,#ff8f00 83.6%,#ffed00 87.2%,#fffb00 87.9%,#fff700 88.3%,#ffc100 89.5%,#ff8e00 90.7%,#ff4000 93.5%,#ff0c00 99.8%)"></i>
<i style="height:2.30px;background:linear-gradient(90deg,#ffc300 0.2%,#ff1b00 20.0%,#fc0000 25.5%,#ef0000 35.0%,#eb0000 49.2%,#f90000 55.9%,#ff0500 65.4%,#ff1800 67.4%,#ff2e00 67.8%,#ff5b00 68.2%,#fffc00 69.4%,#c3ff3c 69.8%,#37ffc8 70.6%,#00f4ff 70.9%,#0af 71.3%,#0054ff 71.7%,#000dff 72.1%,#0000f9 72.5%,#0029ff 72.9%,#009fff 73.3%,#31ffce 73.7%,#bdff42 74.1%,#ffcb00 74.5%,#ff7d00 74.9%,#ff5b00 75.3%,#ff5700 76.1%,#ff8c00 82.0%,#ffac00 84.0%,#fffd00 87.5%,#fcff03 88.3%,#fff500 88.7%,#ffa400 90.3%,#ff4c00 93.1%,#ff3700 94.7%,#ff0d00 99.8%)"></i>
<i style="height:2.30px;background:linear-gradient(90deg,#a2ff5d 0.2%,#c0ff3f 3.4%,#f3e60c 6.1%,#ffd800 7.7%,#ffad00 11.3%,#ff6100 19.2%,#ff1e00 30.6%,#fb0000 52.0%,#ff0b00 65.0%,#ff1900 67.0%,#ff2100 67.4%,#ff3800 67.8%,#ff6400 68.2%,#fcff03 69.4%,#35ffca 70.6%,#00f3ff 70.9%,#00acff 71.3%,#0057ff 71.7%,#000fff 72.1%,#0000f8 72.5%,#0021ff 72.9%,#008dff 73.3%,#1bffe4 73.7%,#a9ff56 74.1%,#fd0 74.5%,#ff8d00 74.9%,#ff6a00 75.3%,#ff6400 75.7%,#ff9a00 81.6%,#ffe800 86.4%,#faff05 87.5%,#f2ff0d 87.9%,#f2ff0d 88.3%,#fefe01 88.7%,#ffac00 90.3%,#ff5100 93.1%,#ff3a00 94.7%,#ff0d00 99.8%)"></i>
<i style="height:2.30px;background:linear-gradient(90deg,#43ffbc 0.2%,#5dffa2 3.0%,#72ff8d 3.8%,#c4ff3b 5.7%,#fffe00 8.5%,#ff9200 19.2%,#ff4700 30.6%,#ff0e00 48.4%,#fe0000 51.2%,#ff0900 61.9%,#ff1500 66.2%,#ff1c00 67.0%,#ff2600 67.4%,#ff4000 67.8%,#ff9f00 68.6%,#ffd100 69.0%,#f7ff08 69.4%,#3fc 70.6%,#00f3ff 70.9%,#00aeff 71.3%,#0059ff 71.7%,#0010ff 72.1%,#0000f6 72.5%,#001aff 72.9%,#007dff 73.3%,#06fff9 73.7%,#95ff6a 74.1%,#ffed00 74.5%,#ff9700 74.9%,#ff6d00 75.3%,#ff6200 75.7%,#ff9400 81.6%,#ffdb00 86.4%,#fbfc04 87.9%,#fff700 88.7%,#ffa000 90.7%,#ff4c00 93.5%,#ff0d00 99.8%)"></i>
<i style="height:2.30px;background:linear-gradient(90deg,#97ff68 0.2%,#acff53 3.4%,#e6ff19 6.1%,#fffb00 8.5%,#ffc100 15.6%,#ff3600 30.2%,#fb0000 49.6%,#ff0500 61.1%,#ff1600 66.6%,#ff1a00 67.0%,#ff2700 67.4%,#ff4500 67.8%,#ffd700 69.0%,#f1ff0e 69.4%,#31ffce 70.6%,#00f3ff 70.9%,#00afff 71.3%,#005cff 71.7%,#01f 72.1%,#0000f5 72.5%,#0013ff 72.9%,#006dff 73.3%,#00f3ff 73.7%,#83ff7c 74.1%,#fffb00 74.5%,#ff9d00 74.9%,#f60 75.3%,#ff5300 75.7%,#ff6900 79.2%,#ff9500 83.6%,#fc0 86.8%,#ffe600 87.9%,#ffe900 88.3%,#ffd500 89.1%,#ff5900 93.1%,#ff3100 95.8%,#ff0d00 99.8%)"></i>
<i style="height:2.30px;background:linear-gradient(90deg,#e3ff1c 0.2%,#fffb00 7.7%,#ffd600 14.8%,#ff2400 29.8%,#fd0000 42.9%,#f60000 52.4%,#ff0500 61.9%,#ff1900 67.0%,#ff2800 67.4%,#ff4b00 67.8%,#ffde00 69.0%,#ebff14 69.4%,#2fffd0 70.6%,#00f3ff 70.9%,#00b1ff 71.3%,#0013ff 72.1%,#0000f4 72.5%,#000cff 72.9%,#005eff 73.3%,#00e1ff 73.7%,#72ff8d 74.1%,#f4ff0b 74.5%,#ffa200 74.9%,#ff5f00 75.3%,#ff4500 75.7%,#f40 76.9%,#f70 83.2%,#ffa200 86.0%,#fc0 87.9%,#fc0 88.7%,#ff9500 91.1%,#f50 93.5%,#ff2a00 96.6%,#ff0d00 99.8%)"></i>
<i style="height:2.30px;background:linear-gradient(90deg,#e9ff16 0.2%,#fffb00 8.1%,#ffda00 15.2%,#ffb100 19.2%,#ff2000 29.8%,#fe0000 40.9%,#f30000 52.0%,#ff0400 62.3%,#ff1800 67.0%,#ff2900 67.4%,#ff5000 67.8%,#ffe300 69.0%,#e5ff1a 69.4%,#2effd1 70.6%,#00f3ff 70.9%,#00b3ff 71.3%,#0016ff 72.1%,#0000f4 72.5%,#0005ff 72.9%,#0050ff 73.3%,#00d0ff 73.7%,#60ff9f 74.1%,#e4ff1b 74.5%,#ffad00 74.9%,#ff6000 75.3%,#ff3b00 75.7%,#ff3100 76.1%,#ff4e00 81.2%,#ff6b00 84.4%,#ffb700 88.3%,#fa0 90.3%,#ff5a00 93.5%,#ff2e00 96.2%,#ff0d00 99.8%)"></i>
<i style="height:2.30px;background:linear-gradient(90deg,#ecff13 0.2%,#fffb00 8.5%,#ffdc00 16.0%,#ffc400 18.8%,#f20 29.4%,#fe0000 39.7%,#f10000 52.0%,#ff0300 62.3%,#ff1200 66.6%,#ff1900 67.0%,#ff2e00 67.4%,#ff5700 67.8%,#ffe900 69.0%,#dfff20 69.4%,#2cffd3 70.6%,#00f3ff 70.9%,#00b5ff 71.3%,#001aff 72.1%,#0000f5 72.5%,#0000fe 72.9%,#0042ff 73.3%,#00beff 73.7%,#4dffb2 74.1%,#d1ff2e 74.5%,#ffbc00 74.9%,#ff6700 75.3%,#ff3600 75.7%,#ff2400 76.1%,#ff2b00 78.5%,#ff4e00 84.0%,#ffa000 88.3%,#ffa700 90.3%,#ff4700 94.7%,#ff2a00 96.6%,#ff0d00 99.8%)"></i>
<i style="height:2.30px;background:linear-gradient(90deg,#efff10 0.2%,#fffa00 9.7%,#ffdc00 18.0%,#ff2500 29.1%,#ff1600 31.0%,#fd0000 38.9%,#ef0000 51.6%,#ff0300 61.9%,#ff1500 66.6%,#ff1d00 67.0%,#ff3500 67.4%,#ff8f00 68.2%,#ffef00 69.0%,#daff25 69.4%,#2affd5 70.6%,#00f2ff 70.9%,#00b6ff 71.3%,#001eff 72.1%,#0000f5 72.5%,#0000f8 72.9%,#0034ff 73.3%,#00adff 73.7%,#3affc5 74.1%,#beff41 74.5%,#fc0 74.9%,#ff7200 75.3%,#ff3a00 75.7%,#ff2500 76.1%,#ff2700 78.1%,#ff4d00 84.4%,#ff9500 88.3%,#ffa300 90.3%,#ff3500 95.8%,#ff0d00 99.8%)"></i>
<i style="height:2.30px;background:linear-gradient(90deg,#f1ff0e 0.2%,#fffa00 9.3%,#ffd900 18.0%,#ff3b00 27.5%,#ff1700 30.2%,#fe0000 37.4%,#ef0000 51.6%,#ff0400 61.5%,#ff1900 66.6%,#f20 67.0%,#ff3c00 67.4%,#fff400 69.0%,#d5ff2a 69.4%,#29ffd6 70.6%,#00f2ff 70.9%,#00b8ff 71.3%,#0021ff 72.1%,#0000f7 72.5%,#0000f5 72.9%,#002aff 73.3%,#009eff 73.7%,#28ffd7 74.1%,#acff53 74.5%,#ffdc00 74.9%,#ff7e00 75.3%,#ff4100 75.7%,#ff2900 76.1%,#ff2800 77.7%,#ff4b00 84.4%,#ff9300 88.7%,#ff9e00 90.3%,#ff7900 92.7%,#ff3800 95.8%,#ff0d00 99.8%)"></i>
<i style="height:2.30px;background:linear-gradient(90deg,#f4ff0b 0.2%,#fff900 7.7%,#ffdb00 14.4%,#ffc100 18.4%,#ff4000 26.7%,#ff1700 30.2%,#f00 35.4%,#ef0000 51.6%,#ff0300 60.7%,#ff1d00 66.6%,#ff2800 67.0%,#ff4300 67.4%,#fff900 69.0%,#d0ff2f 69.4%,#27ffd8 70.6%,#00f2ff 70.9%,#00baff 71.3%,#0025ff 72.1%,#0000f8 72.5%,#0000f4 72.9%,#0023ff 73.3%,#008fff 73.7%,#14ffeb 74.1%,#9f6 74.5%,#ffec00 74.9%,#ff8a00 75.3%,#ff4800 75.7%,#ff2d00 76.1%,#ff2a00 77.3%,#ff4900 84.4%,#ff7400 87.2%,#ff9800 89.9%,#ff9000 91.5%,#ff7400 93.1%,#ff3500 96.2%,#ff0d00 99.8%)"></i>
<i style="height:2.30px;background:linear-gradient(90deg,#f7ff08 0.2%,#fff500 6.9%,#ffe100 11.7%,#ffad00 18.4%,#ff3800 26.7%,#ff0b00 31.8%,#fe0000 34.6%,#ef0000 51.6%,#ff0400 60.3%,#ff2100 66.6%,#ff2e00 67.0%,#ff4d00 67.4%,#fdfe02 69.0%,#25ffda 70.6%,#00f2ff 70.9%,#0bf 71.3%,#0028ff 72.1%,#0000f9 72.5%,#0000f3 72.9%,#001dff 73.3%,#0082ff 73.7%,#04fffb 74.1%,#8aff75 74.5%,#fff900 74.9%,#ff9400 75.3%,#ff4e00 75.7%,#ff3100 76.1%,#ff2d00 77.3%,#ff4b00 84.8%,#ff6d00 87.2%,#ff9300 89.9%,#ff8f00 91.9%,#f60 93.9%,#ff2b00 97.0%,#ff0d00 99.8%)"></i>
<i style="height:2.30px;background:linear-gradient(90deg,#fdfa02 0.2%,#ffd600 10.9%,#ff8900 19.2%,#ff2e00 26.7%,#fe0000 33.4%,#f00000 51.6%,#ff0400 59.9%,#ff2300 66.2%,#ff2a00 66.6%,#ff4000 67.0%,#ffe100 68.6%,#f1ff0e 69.0%,#2fd 70.6%,#00f0ff 70.9%,#0bf 71.3%,#0029ff 72.1%,#0000fa 72.5%,#0000f3 72.9%,#001cff 73.3%,#007eff 73.7%,#00feff 74.1%,#84ff7b 74.5%,#fffe00 74.9%,#ff9a00 75.3%,#ff5400 75.7%,#ff3600 76.1%,#ff3000 76.9%,#ff4e00 85.6%,#ff8d00 89.9%,#ff9200 91.9%,#ff7e00 93.1%,#ff4000 95.8%,#ff1500 99.0%,#ff0d00 99.8%)"></i>
<i style="height:2.30px;background:linear-gradient(90deg,#ffd800 0.2%,#ffa000 11.3%,#ff4800 21.1%,#ff1800 27.5%,#fe0000 33.0%,#f20000 52.0%,#ff0400 59.1%,#ff2900 66.2%,#ff3800 66.6%,#ff8100 67.4%,#ffef00 68.6%,#e5ff1a 69.0%,#1fffe0 70.6%,#00efff 70.9%,#00baff 71.3%,#002aff 72.1%,#0000fa 72.5%,#0000f3 72.9%,#001bff 73.3%,#007cff 73.7%,#00fcff 74.1%,#fbff04 74.9%,#ff9f00 75.3%,#ff5a00 75.7%,#ff3c00 76.1%,#ff3500 76.9%,#ff4900 85.6%,#ff8400 89.9%,#ff9000 91.9%,#ff7e00 93.1%,#ff4200 95.8%,#ff1b00 98.6%,#ff1000 99.8%)"></i>
<i style="height:2.30px;background:linear-gradient(90deg,#ffb300 0.2%,#ff6e00 10.9%,#ff1700 22.7%,#fe0000 32.6%,#f70000 51.6%,#ff0700 57.5%,#ff2c00 65.8%,#ff3600 66.2%,#ff4f00 66.6%,#ffb900 67.8%,#fffb00 68.6%,#daff25 69.0%,#1bffe4 70.6%,#00edff 70.9%,#00b9ff 71.3%,#002aff 72.1%,#0000fa 72.5%,#0000f3 72.9%,#001aff 73.3%,#007aff 73.7%,#00faff 74.1%,#f7ff08 74.9%,#ffa500 75.3%,#ff6400 75.7%,#ff4900 76.1%,#ff4200 78.5%,#ff4700 85.6%,#ff7400 90.3%,#ff7a00 92.3%,#ff3500 96.6%,#ff1800 99.8%)"></i>
<i style="height:2.30px;background:linear-gradient(90deg,#f6e909 0.2%,#ffd600 4.9%,#ff7300 14.0%,#ff3700 24.3%,#f10 35.8%,#fd0000 50.8%,#ff2f00 65.4%,#ff3500 65.8%,#ff4700 66.2%,#ffab00 67.4%,#ffe400 68.2%,#f8ff07 68.6%,#45ffba 70.2%,#18ffe7 70.6%,#00ebff 70.9%,#00b9ff 71.3%,#002bff 72.1%,#0000fb 72.5%,#0000f3 72.9%,#0019ff 73.3%,#0079ff 73.7%,#00f7ff 74.1%,#f3ff0c 74.9%,#ffad00 75.3%,#ff7000 75.7%,#ff5800 76.1%,#ff4300 82.0%,#ff4900 86.4%,#ff6300 91.5%,#ff5a00 93.1%,#ff2d00 97.8%,#ff2300 99.8%)"></i>
<i style="height:2.30px;background:linear-gradient(90deg,#89ff76 0.2%,#a2ff5d 4.9%,#e6fe19 8.5%,#ffe000 12.5%,#ffc400 14.8%,#ff8e00 23.5%,#ff5200 31.0%,#ff2700 40.9%,#ff0c00 50.4%,#ff3700 65.4%,#ff4300 65.8%,#ffb900 67.4%,#ffef00 68.2%,#ef1 68.6%,#16ffe9 70.6%,#00eaff 70.9%,#00b8ff 71.3%,#002bff 72.1%,#0000fb 72.5%,#0000f3 72.9%,#0019ff 73.3%,#07f 73.7%,#00f5ff 74.1%,#78ff87 74.5%,#efff10 74.9%,#ffb400 75.3%,#ff7d00 75.7%,#ff6800 76.1%,#ff4500 81.6%,#ff4900 88.7%,#ff4700 93.1%,#ff2d00 99.8%)"></i>
<i style="height:2.30px;background:linear-gradient(90deg,#63ff9c 0.2%,#7fff80 4.5%,#abff54 6.5%,#df2 8.9%,#ffe300 12.8%,#ffcb00 14.8%,#ffa100 22.7%,#ff5700 30.6%,#ff2b00 40.1%,#ff0f00 50.0%,#ff3900 65.0%,#ff4100 65.4%,#f50 65.8%,#ffad00 67.0%,#fff800 68.2%,#e4ff1b 68.6%,#13ffec 70.6%,#00e9ff 70.9%,#00b7ff 71.3%,#002bff 72.1%,#0000fb 72.5%,#0000f3 72.9%,#0018ff 73.3%,#0075ff 73.7%,#00f3ff 74.1%,#76ff89 74.5%,#ecff13 74.9%,#ffb800 75.3%,#ff8000 75.7%,#ff6b00 76.1%,#ff4300 81.6%,#ff3100 99.8%)"></i>
<i style="height:2.30px;background:linear-gradient(90deg,#d5ff2a 0.2%,#e3fb1c 2.6%,#ffd900 5.7%,#ffa900 8.1%,#ff5100 14.4%,#ff2a00 24.3%,#fd1000 30.2%,#f90000 47.2%,#ff0600 52.0%,#ff3b00 64.6%,#ff4000 65.0%,#ff4f00 65.4%,#ffa300 66.6%,#fdff02 68.2%,#b4ff4b 69.0%,#1fe 70.6%,#00e8ff 70.9%,#00b7ff 71.3%,#002cff 72.1%,#0000fb 72.5%,#0000f3 72.9%,#0017ff 73.3%,#0074ff 73.7%,#00f0ff 74.1%,#73ff8c 74.5%,#e9ff16 74.9%,#ffb700 75.3%,#ff7800 75.7%,#ff5c00 76.1%,#ff4700 78.9%,#ff3900 82.4%,#ff2c00 99.8%)"></i>
<i style="height:2.30px;background:linear-gradient(90deg,#fc0 0.2%,#ffb700 2.6%,#ff4f00 6.9%,#fe0500 12.8%,#f50000 18.8%,#ec0000 36.6%,#f20000 49.6%,#ff0500 54.3%,#ff3b00 64.2%,#ff4a00 65.0%,#ffaf00 66.6%,#fe0 67.8%,#f5ff0a 68.2%,#5dffa2 69.8%,#0ffff0 70.6%,#00e6ff 70.9%,#00b6ff 71.3%,#002cff 72.1%,#0000fc 72.5%,#0000f2 72.9%,#0016ff 73.3%,#0072ff 73.7%,#0ef 74.1%,#6fff90 74.5%,#e5ff1a 74.9%,#ffb900 75.3%,#ff7500 75.7%,#ff5000 76.1%,#f40 76.5%,#ff2f00 82.4%,#ff2700 99.8%)"></i>
<i style="height:2.30px;background:linear-gradient(90deg,#ffbc00 0.2%,#ffa600 2.6%,#f40 6.5%,#f00 12.1%,#f30000 16.8%,#ea0000 35.8%,#f20000 50.8%,#ff0500 56.3%,#ff3600 63.4%,#ff4600 64.6%,#ff5900 65.0%,#ff9100 65.8%,#fff600 67.8%,#ecff13 68.2%,#0dfff2 70.6%,#00e5ff 70.9%,#00b6ff 71.3%,#002cff 72.1%,#0000fc 72.5%,#0000f2 72.9%,#0016ff 73.3%,#0070ff 73.7%,#00ecff 74.1%,#6cff93 74.5%,#e1ff1e 74.9%,#ffbc00 75.3%,#ff7300 75.7%,#ff4500 76.1%,#f30 76.5%,#ff2700 80.8%,#f20 99.8%)"></i>
<i style="height:2.30px;background:linear-gradient(90deg,#ffb500 0.2%,#ffa000 2.6%,#ff3f00 6.5%,#fe0100 12.5%,#f20000 20.0%,#ec0000 37.4%,#f30000 51.2%,#ff0500 56.3%,#ff3900 63.4%,#ff4300 64.2%,#ff5300 64.6%,#ff9e00 65.8%,#fffd00 67.8%,#c2ff3d 68.6%,#0bfff4 70.6%,#00e4ff 70.9%,#00b5ff 71.3%,#002dff 72.1%,#0000fc 72.5%,#0000f2 72.9%,#0015ff 73.3%,#006fff 73.7%,#00e9ff 74.1%,#69ff96 74.5%,#deff21 74.9%,#ffc000 75.3%,#ff7400 75.7%,#ff4200 76.1%,#ff2e00 76.5%,#ff2700 79.2%,#ff2300 99.8%)"></i>
<i style="height:2.30px;background:linear-gradient(90deg,#ffc800 0.2%,#ffb200 3.0%,#ff6d00 6.9%,#ff2e00 14.8%,#fd0f00 29.1%,#fc0100 50.4%,#ff4200 63.4%,#ff5000 64.2%,#ffa900 65.8%,#faff05 67.8%,#97ff68 69.0%,#09fff6 70.6%,#00e3ff 70.9%,#00b5ff 71.3%,#002dff 72.1%,#0000fc 72.5%,#0000f2 72.9%,#0014ff 73.3%,#006dff 73.7%,#00e7ff 74.1%,#6f9 74.5%,#daff25 74.9%,#ffc500 75.3%,#ff7f00 75.7%,#f50 76.1%,#ff4500 76.5%,#ff3000 99.8%)"></i>
<i style="height:2.30px;background:linear-gradient(90deg,#ffe600 0.2%,#ffd400 3.8%,#ffa700 10.1%,#ff8500 17.2%,#ff1e00 50.0%,#ff4b00 63.4%,#ff5000 63.8%,#ff6000 64.2%,#ffa100 65.4%,#fff400 67.4%,#f3ff0c 67.8%,#07fff8 70.6%,#00e2ff 70.9%,#00b4ff 71.3%,#002dff 72.1%,#0000fc 72.5%,#0000f2 72.9%,#0013ff 73.3%,#006cff 73.7%,#00e5ff 74.1%,#63ff9c 74.5%,#d6ff29 74.9%,#ffcb00 75.3%,#ff8a00 75.7%,#ff6800 76.1%,#ff5e00 76.5%,#ff3e00 99.8%)"></i>
<i style="height:2.30px;background:linear-gradient(90deg,#e3ff1c 0.2%,#f8f207 10.5%,#ffdf00 14.4%,#ffb800 21.5%,#ff3500 50.4%,#ff5400 63.4%,#ff5e00 63.8%,#ff9b00 65.0%,#fffa00 67.4%,#ebff14 67.8%,#06fff9 70.6%,#00e1ff 70.9%,#00b4ff 71.3%,#002eff 72.1%,#0000fd 72.5%,#0000f2 72.9%,#0013ff 73.3%,#006aff 73.7%,#00e3ff 74.1%,#60ff9f 74.5%,#d2ff2d 74.9%,#ffcf00 75.3%,#ff9000 75.7%,#ff7100 76.1%,#ff6700 76.9%,#ff4200 99.8%)"></i>
<i style="height:2.30px;background:linear-gradient(90deg,#84ff7b 0.2%,#9eff61 8.9%,#f8fb07 16.0%,#ffe200 18.4%,#ffb800 26.3%,#f70 35.8%,#ff3000 50.4%,#ff5200 62.6%,#ff5d00 63.4%,#ffa400 65.0%,#feff01 67.4%,#c6ff39 68.2%,#04fffb 70.6%,#00e0ff 70.9%,#00b3ff 71.3%,#002eff 72.1%,#0000fd 72.5%,#0000f2 72.9%,#0012ff 73.3%,#0068ff 73.7%,#00e0ff 74.1%,#5dffa2 74.5%,#cfff30 74.9%,#ffd200 75.3%,#ff8e00 75.7%,#ff6700 76.1%,#ff5800 76.5%,#ff3600 99.8%)"></i>
<i style="height:2.30px;background:linear-gradient(90deg,#23ffdc 0.2%,#42ffbd 8.9%,#f9fe06 18.0%,#ffec00 20.4%,#ffd500 25.1%,#ff7b00 34.6%,#ff2e00 48.8%,#ff2c00 51.6%,#ff5200 62.3%,#ff5b00 63.0%,#ff7c00 63.8%,#ffc800 65.8%,#fff300 67.0%,#f8ff07 67.4%,#62ff9d 69.4%,#03fffc 70.6%,#00e0ff 70.9%,#00b3ff 71.3%,#002eff 72.1%,#0000fd 72.5%,#0000f2 72.9%,#01f 73.3%,#0067ff 73.7%,#00deff 74.1%,#5bffa4 74.5%,#cf3 74.9%,#ffd400 75.3%,#ff8b00 75.7%,#ff5b00 76.1%,#ff4700 76.5%,#ff3e00 79.2%,#ff2800 99.8%)"></i>
<i style="height:2.30px;background:linear-gradient(90deg,#06f4f9 0.2%,#1effe1 8.5%,#47ffb8 10.5%,#f6fb09 18.0%,#ffef00 19.2%,#ffd500 24.7%,#ff6e00 34.2%,#ff3400 44.9%,#ff1e00 50.4%,#ff5300 62.3%,#ff6400 63.0%,#ffa600 64.6%,#fff800 67.0%,#f1ff0e 67.4%,#02fffd 70.6%,#00dfff 70.9%,#00b3ff 71.3%,#002fff 72.1%,#0000fd 72.5%,#0000f2 72.9%,#01f 73.3%,#0065ff 73.7%,#00dcff 74.1%,#58ffa7 74.5%,#c8ff37 74.9%,#ffd700 75.3%,#ff8b00 75.7%,#f50 76.1%,#ff3c00 76.5%,#f30 77.7%,#ff2100 99.8%)"></i>
<i style="height:2.30px;background:linear-gradient(90deg,#6bff94 0.2%,#a2ff5d 8.9%,#e4fd1b 12.8%,#ffe100 16.0%,#ffae00 19.2%,#ff8a00 25.5%,#ff3f00 34.2%,#ff0800 49.6%,#ff1c00 53.6%,#f50 62.3%,#ff6e00 63.0%,#ffa000 64.2%,#fffd00 67.0%,#d0ff2f 67.8%,#0ff 70.6%,#00deff 70.9%,#00b2ff 71.3%,#002fff 72.1%,#0000fd 72.5%,#0000f2 72.9%,#0010ff 73.3%,#0064ff 73.7%,#00daff 74.1%,#5fa 74.5%,#c5ff3a 74.9%,#ffda00 75.3%,#ff8e00 75.7%,#ff5700 76.1%,#ff3d00 76.5%,#ff3400 77.3%,#ff2600 99.8%)"></i>
<i style="height:2.30px;background:linear-gradient(90deg,#e5fd1a 0.2%,#ffd500 8.1%,#ff6100 20.0%,#ff0d00 34.6%,#f90000 49.6%,#ff0700 52.8%,#ff5000 61.9%,#ff6700 62.6%,#ff9b00 63.8%,#fcff03 67.0%,#adff52 68.2%,#00feff 70.6%,#0df 70.9%,#00b2ff 71.3%,#002fff 72.1%,#0000fd 72.5%,#0000f2 72.9%,#000fff 73.3%,#0062ff 73.7%,#00d8ff 74.1%,#52ffad 74.5%,#c2ff3d 74.9%,#ffde00 75.3%,#ff9200 75.7%,#ff5b00 76.1%,#ff3f00 76.5%,#ff3400 77.3%,#ff2b00 99.8%)"></i>
<i style="height:2.30px;background:linear-gradient(90deg,#ffe100 0.2%,#ff7600 7.7%,#ff3100 14.8%,#fe0a00 25.5%,#f80000 33.8%,#f50000 51.2%,#ff0300 54.0%,#ff5200 61.9%,#ff7400 62.6%,#ff9600 63.4%,#fff600 66.6%,#f6ff09 67.0%,#38ffc7 69.8%,#00fdff 70.6%,#00dcff 70.9%,#00b1ff 71.3%,#0030ff 72.1%,#0000fe 72.5%,#0000f2 72.9%,#000fff 73.3%,#0061ff 73.7%,#00d6ff 74.1%,#50ffaf 74.5%,#bfff40 74.9%,#ffe100 75.3%,#ff9600 75.7%,#ff5e00 76.1%,#ff4000 76.5%,#ff3400 77.3%,#ff3100 99.8%)"></i>
<i style="height:2.30px;background:linear-gradient(90deg,#ffe700 0.2%,#ff6000 6.9%,#ff0900 14.0%,#f90000 26.7%,#f30000 51.2%,#ff0500 54.3%,#ff5100 61.5%,#ff6e00 62.3%,#ff9100 63.0%,#fffb00 66.6%,#f0ff0f 67.0%,#00fcff 70.6%,#00dcff 70.9%,#00b1ff 71.3%,#0030ff 72.1%,#0000fe 72.5%,#0000f1 72.9%,#000eff 73.3%,#005fff 73.7%,#00d4ff 74.1%,#4dffb2 74.5%,#bcff43 74.9%,#ffe500 75.3%,#f90 75.7%,#ff6200 76.1%,#f40 76.5%,#ff3600 77.3%,#ff3d00 99.8%)"></i>
<i style="height:2.30px;background:linear-gradient(90deg,#e8ff17 0.2%,#faf605 1.8%,#ffc200 4.9%,#ff8500 9.3%,#ff4a00 14.8%,#ff1400 28.3%,#fc0000 41.3%,#f70000 51.2%,#ff0200 53.2%,#ff5c00 61.5%,#f90 63.0%,#feff01 66.6%,#b8ff47 67.8%,#00fbff 70.6%,#00dbff 70.9%,#00b1ff 71.3%,#0030ff 72.1%,#0000fe 72.5%,#0000f1 72.9%,#000dff 73.3%,#005eff 73.7%,#00d2ff 74.1%,#4affb5 74.5%,#b9ff46 74.9%,#ffe800 75.3%,#ff9d00 75.7%,#f60 76.1%,#ff4900 76.5%,#ff3c00 77.3%,#ff4800 95.5%,#ff5100 99.8%)"></i>
<i style="height:2.30px;background:linear-gradient(90deg,#c6ff39 0.2%,#fffd00 4.2%,#ffa100 12.5%,#ff6700 20.0%,#ff2d00 31.0%,#fb0000 49.6%,#ff0400 52.4%,#ff6100 61.1%,#ffb500 63.8%,#fff500 66.2%,#faff05 66.6%,#7fff80 68.6%,#16ffe9 70.2%,#00faff 70.6%,#00daff 70.9%,#00b0ff 71.3%,#0030ff 72.1%,#0000fe 72.5%,#0000f1 72.9%,#000dff 73.3%,#005dff 73.7%,#00d0ff 74.1%,#48ffb7 74.5%,#b6ff49 74.9%,#ffeb00 75.3%,#ffa100 75.7%,#ff6b00 76.1%,#ff4e00 76.5%,#ff4100 77.3%,#ff5300 94.3%,#ff6500 99.8%)"></i>
<i style="height:2.30px;background:linear-gradient(90deg,#ecff13 0.2%,#ffec00 3.4%,#ff8f00 13.6%,#ff5c00 21.9%,#ff3100 31.4%,#ff0a00 48.4%,#ff0300 50.8%,#ff6100 60.3%,#ff7600 61.5%,#ffc400 64.2%,#fff900 66.2%,#f5ff0a 66.6%,#15ffea 70.2%,#00f9ff 70.6%,#00daff 70.9%,#00b0ff 71.3%,#0030ff 72.1%,#0000fe 72.5%,#0000f1 72.9%,#000cff 73.3%,#005bff 73.7%,#00ceff 74.1%,#46ffb9 74.5%,#b3ff4c 74.9%,#fe0 75.3%,#ffa400 75.7%,#ff6f00 76.1%,#ff5200 76.5%,#ff4500 77.3%,#ff5b00 93.5%,#ff7900 99.8%)"></i>
<i style="height:2.30px;background:linear-gradient(90deg,#ffdc00 0.2%,#ff8600 11.3%,#ff5000 21.9%,#ff2f00 31.4%,#ff1500 49.2%,#ff1900 51.6%,#ff6500 60.7%,#ff8600 61.9%,#fffb00 66.2%,#f3ff0c 66.6%,#13ffec 70.2%,#00f7ff 70.6%,#00d8ff 70.9%,#00aeff 71.3%,#002fff 72.1%,#0000fe 72.5%,#0000f1 72.9%,#000dff 73.3%,#005dff 73.7%,#00d0ff 74.1%,#47ffb8 74.5%,#b4ff4b 74.9%,#fe0 75.3%,#ffa300 75.7%,#ff6900 76.1%,#ff4500 76.5%,#ff3500 76.9%,#ff3200 78.9%,#ff5100 93.1%,#ff7a00 97.8%,#ff8500 99.8%)"></i>
<i style="height:2.30px;background:linear-gradient(90deg,#ffb200 0.2%,#ff6000 14.0%,#ff2b00 29.1%,#ff2000 50.4%,#ff6200 61.1%,#ff9a00 62.6%,#fffa00 66.2%,#f3ff0c 66.6%,#1fe 70.2%,#00f5ff 70.6%,#00d6ff 70.9%,#00abff 71.3%,#002bff 72.1%,#0000fc 72.5%,#0000f1 72.9%,#000fff 73.3%,#0062ff 73.7%,#00d5ff 74.1%,#4cffb3 74.5%,#b8ff47 74.9%,#ffea00 75.3%,#ff9f00 75.7%,#ff5f00 76.1%,#ff2f00 76.5%,#ff1900 76.9%,#ff1200 77.7%,#ff3900 92.7%,#ff7300 97.0%,#ff8300 99.8%)"></i>
<i style="height:2.30px;background:linear-gradient(90deg,#ffa500 0.2%,#ff2300 22.7%,#ff1200 38.5%,#ff0f00 49.6%,#ff5200 59.9%,#ff5e00 61.1%,#ff9700 62.6%,#fffa00 66.2%,#f3ff0c 66.6%,#10ffef 70.2%,#00f3ff 70.6%,#00d3ff 70.9%,#00a7ff 71.3%,#0027ff 72.1%,#0000fb 72.5%,#0000f2 72.9%,#0012ff 73.3%,#0067ff 73.7%,#00dbff 74.1%,#51ffae 74.5%,#bcff43 74.9%,#ffe700 75.3%,#ff9c00 75.7%,#ff5b00 76.1%,#ff2a00 76.5%,#ff1200 76.9%,#ff0a00 77.7%,#ff1d00 89.9%,#ff2f00 93.1%,#ff6300 97.4%,#ff7400 99.8%)"></i>
<i style="height:2.30px;background:linear-gradient(90deg,#ffa100 0.2%,#ff3600 16.8%,#ff0e00 22.3%,#fd0000 44.1%,#ff0500 50.4%,#ff2700 55.1%,#ff3f00 58.7%,#ff5c00 61.1%,#ffa000 63.0%,#fff900 66.2%,#f4ff0b 66.6%,#0efff1 70.2%,#00f1ff 70.6%,#00d1ff 70.9%,#00a4ff 71.3%,#0024ff 72.1%,#0000f9 72.5%,#0000f2 72.9%,#0014ff 73.3%,#006cff 73.7%,#00e0ff 74.1%,#56ffa9 74.5%,#c0ff3f 74.9%,#ffe400 75.3%,#f90 75.7%,#ff5800 76.1%,#ff2600 76.5%,#ff0e00 76.9%,#ff0400 77.7%,#ff0a00 89.5%,#ff2500 93.5%,#ff6400 99.8%)"></i>
<i style="height:2.30px;background:linear-gradient(90deg,#ffad00 0.2%,#ff0400 22.3%,#f60000 47.6%,#ff0400 51.6%,#ff3200 58.3%,#ff6200 61.5%,#ff9d00 63.0%,#fff900 66.2%,#f4ff0b 66.6%,#0cfff3 70.2%,#0ef 70.6%,#00ceff 70.9%,#00a1ff 71.3%,#0020ff 72.1%,#0000f8 72.5%,#0000f2 72.9%,#0016ff 73.3%,#0070ff 73.7%,#00e5ff 74.1%,#5bffa4 74.5%,#c5ff3a 74.9%,#ffe100 75.3%,#ff9700 75.7%,#f50 76.1%,#f20 76.5%,#ff0900 76.9%,#fe0000 77.7%,#fe0100 90.3%,#ff2500 95.1%,#ff5400 99.8%)"></i>
<i style="height:2.30px;background:linear-gradient(90deg,#ffb900 0.2%,#ff3200 15.2%,#fe0000 21.9%,#ed0000 42.9%,#f50000 49.6%,#ff0600 52.0%,#ff3400 58.3%,#ff7400 61.9%,#fff800 66.2%,#f5ff0a 66.6%,#0afff5 70.2%,#00ecff 70.6%,#00cbff 70.9%,#009dff 71.3%,#001cff 72.1%,#0000f6 72.5%,#0000f2 72.9%,#0018ff 73.3%,#0075ff 73.7%,#00ebff 74.1%,#60ff9f 74.5%,#c9ff36 74.9%,#fd0 75.3%,#ff9400 75.7%,#ff5300 76.1%,#ff2100 76.5%,#ff0800 76.9%,#fd0000 77.7%,#f90000 89.9%,#ff0300 92.3%,#ff3600 98.2%,#ff4600 99.8%)"></i>
<i style="height:2.30px;background:linear-gradient(90deg,#ffc500 0.2%,#f70 8.1%,#ff1400 17.6%,#fe0000 20.8%,#e40000 39.7%,#ed0000 48.4%,#ff0400 51.2%,#ff2300 53.2%,#ff4300 57.9%,#ffc000 64.2%,#fff800 66.2%,#f5ff0a 66.6%,#08fff7 70.2%,#00eaff 70.6%,#00c8ff 70.9%,#09f 71.3%,#0019ff 72.1%,#0000f5 72.5%,#0000f2 72.9%,#001bff 73.3%,#0079ff 73.7%,#00f0ff 74.1%,#64ff9b 74.5%,#cdff32 74.9%,#ffda00 75.3%,#ff9200 75.7%,#ff5300 76.1%,#ff2400 76.5%,#ff0c00 76.9%,#f00 77.7%,#fa0000 89.9%,#ff0500 92.7%,#ff3400 99.0%,#ff3900 99.8%)"></i>
<i style="height:2.30px;background:linear-gradient(90deg,#ffd100 0.2%,#ff8a00 6.9%,#ff1000 16.8%,#fc0000 20.0%,#dc0000 38.5%,#e50000 48.0%,#ff0100 50.8%,#ff3000 52.8%,#ff5800 57.9%,#ffa500 61.5%,#fff100 65.8%,#fffc00 66.2%,#f2ff0d 66.6%,#8eff71 68.2%,#06fff9 70.2%,#00e7ff 70.6%,#00c5ff 70.9%,#0094ff 71.3%,#0015ff 72.1%,#0000f4 72.5%,#0000f2 72.9%,#001dff 73.3%,#007eff 73.7%,#00f5ff 74.1%,#69ff96 74.5%,#d1ff2e 74.9%,#ffd700 75.3%,#ff9000 75.7%,#ff5300 76.1%,#ff2800 76.5%,#f10 76.9%,#ff0400 77.7%,#fd0000 90.7%,#ff0c00 94.3%,#ff2e00 99.8%)"></i>
<i style="height:2.30px;background:linear-gradient(90deg,#fd0 0.2%,#ff9b00 6.1%,#ff0700 16.8%,#f90000 20.0%,#d40000 38.1%,#d00 47.6%,#fc0000 50.4%,#ff1600 51.2%,#ff4100 52.8%,#ff6e00 57.9%,#ffbe00 61.1%,#fbff04 65.8%,#d7ff28 67.0%,#8dff72 68.2%,#04fffb 70.2%,#00e5ff 70.6%,#00c2ff 70.9%,#008fff 71.3%,#01f 72.1%,#0000f2 72.5%,#0000f3 72.9%,#001fff 73.3%,#0083ff 73.7%,#00faff 74.1%,#d5ff2a 74.9%,#ffd400 75.3%,#ff8d00 75.7%,#ff5300 76.1%,#ff2b00 76.5%,#ff1600 76.9%,#ff0800 77.7%,#fc0000 87.2%,#ff0500 93.1%,#f20 99.8%)"></i>
<i style="height:2.30px;background:linear-gradient(90deg,#ffe600 0.2%,#ffa600 5.7%,#ff0500 16.4%,#f50000 20.8%,#d20000 37.0%,#d70000 46.8%,#e70000 48.8%,#fe0100 50.4%,#ff4a00 52.4%,#ff6000 54.0%,#ff8300 57.9%,#ffdc00 61.1%,#faff05 64.6%,#dfff20 66.2%,#bf4 67.4%,#71ff8e 68.6%,#02fffd 70.2%,#00beff 70.9%,#008bff 71.3%,#000eff 72.1%,#0000f1 72.5%,#0000f4 72.9%,#0024ff 73.3%,#0089ff 73.7%,#01fffe 74.1%,#73ff8c 74.5%,#d9ff26 74.9%,#ffd100 75.3%,#ff8b00 75.7%,#ff5300 76.1%,#ff2f00 76.5%,#ff1b00 76.9%,#ff0d00 77.7%,#fd0000 88.3%,#ff0900 95.1%,#ff1700 99.8%)"></i>
<i style="height:2.30px;background:linear-gradient(90deg,#ffea00 0.2%,#ffb300 4.9%,#ff0500 16.4%,#f30000 21.9%,#d70000 35.8%,#d80000 45.3%,#e00000 48.0%,#fd0000 50.0%,#ff5b00 52.4%,#ff6f00 53.6%,#ff9300 57.9%,#ffeb00 61.1%,#fcff03 63.0%,#d4ff2b 65.8%,#9aff65 67.8%,#6fff90 68.6%,#00feff 70.2%,#0bf 70.9%,#0086ff 71.3%,#0043ff 71.7%,#000aff 72.1%,#0000f0 72.5%,#0000f6 72.9%,#0029ff 73.3%,#008fff 73.7%,#07fff8 74.1%,#78ff87 74.5%,#df2 74.9%,#ffce00 75.3%,#ff8c00 75.7%,#ff5a00 76.1%,#ff3d00 76.5%,#ff2500 77.3%,#ff1000 89.1%,#ff2400 99.8%)"></i>
<i style="height:2.30px;background:linear-gradient(90deg,#fe0 0.2%,#ffc000 4.2%,#ff0500 16.4%,#f50000 21.1%,#d00 34.2%,#db0000 46.4%,#e80000 48.4%,#fa0000 49.6%,#ff0600 50.0%,#ff5f00 52.0%,#ff7b00 53.2%,#ff9d00 57.9%,#ffe600 61.1%,#fbff04 63.0%,#bdff42 65.8%,#68ff97 68.6%,#00fcff 70.2%,#00b8ff 70.9%,#0082ff 71.3%,#003fff 71.7%,#0007ff 72.1%,#0000ef 72.5%,#0000f8 72.9%,#002fff 73.3%,#0096ff 73.7%,#0dfff2 74.1%,#7dff82 74.5%,#e1ff1e 74.9%,#ffcd00 75.3%,#ff9300 75.7%,#ff6f00 76.1%,#ff5200 76.9%,#ff4700 78.5%,#ff3a00 88.3%,#ff5100 99.8%)"></i>
<i style="height:2.30px;background:linear-gradient(90deg,#fff200 0.2%,#ffc900 3.8%,#ff0500 16.4%,#f80000 20.4%,#e00000 33.0%,#df0000 47.2%,#f70000 49.2%,#fe0100 49.6%,#ff7000 52.0%,#ff8c00 53.2%,#ffa600 57.9%,#fffa00 62.6%,#efff10 63.4%,#8aff75 66.6%,#65ff9a 67.8%,#5cffa3 68.6%,#4dffb2 69.0%,#00faff 70.2%,#00dbff 70.6%,#00b5ff 70.9%,#007dff 71.3%,#003aff 71.7%,#0004ff 72.1%,#0000ef 72.5%,#0000fa 72.9%,#0034ff 73.3%,#009dff 73.7%,#12ffed 74.1%,#82ff7d 74.5%,#e5ff1a 74.9%,#ffce00 75.3%,#ff9e00 75.7%,#ff8700 76.1%,#ff7300 77.3%,#ff6400 86.4%,#ff8000 99.8%)"></i>
<i style="height:2.30px;background:linear-gradient(90deg,#fff700 0.2%,#ffd200 3.4%,#ff0600 16.4%,#f80000 20.4%,#e40000 32.6%,#e50000 47.6%,#fb0000 49.2%,#ff0a00 49.6%,#ff7000 51.6%,#ff9600 52.8%,#ffa500 55.5%,#ffb300 58.3%,#ffe400 61.9%,#faff05 63.0%,#53ffac 67.4%,#4affb5 67.8%,#4cffb3 68.6%,#46ffb9 69.0%,#16ffe9 69.8%,#00f8ff 70.2%,#00d9ff 70.6%,#00b1ff 70.9%,#0079ff 71.3%,#0037ff 71.7%,#0002ff 72.1%,#0000ef 72.5%,#0000fc 72.9%,#003aff 73.3%,#00a3ff 73.7%,#18ffe7 74.1%,#86ff79 74.5%,#e7ff18 74.9%,#ffd300 75.3%,#ffb000 75.7%,#ffa300 76.1%,#ff9500 79.2%,#ff8b00 86.0%,#ffad00 99.8%)"></i>
<i style="height:2.30px;background:linear-gradient(90deg,#fffc00 0.2%,#ffd700 3.4%,#ff1500 16.4%,#fc0100 22.3%,#f00000 33.4%,#f30000 47.6%,#fd0600 48.8%,#ff1f00 49.6%,#ff7b00 52.0%,#ff9100 53.2%,#fa0 58.3%,#ffdb00 61.9%,#fefe01 63.0%,#4affb5 67.4%,#41ffbe 67.8%,#48ffb7 68.6%,#43ffbc 69.0%,#14ffeb 69.8%,#00f6ff 70.2%,#00d7ff 70.6%,#00aeff 70.9%,#0075ff 71.3%,#03f 71.7%,#0001ff 72.1%,#0000ef 72.5%,#0000fe 72.9%,#003fff 73.3%,#00a9ff 73.7%,#1dffe2 74.1%,#8bff74 74.5%,#ebff14 74.9%,#ffcf00 75.3%,#ffac00 75.7%,#ffa000 76.1%,#ff8900 85.6%,#ffa800 99.8%)"></i>
<i style="height:2.30px;background:linear-gradient(90deg,#fdff02 0.2%,#ffe200 3.0%,#ff6d00 10.9%,#ff2e00 16.4%,#ff0a00 30.6%,#ff1f00 47.6%,#ff4500 50.4%,#ff6c00 52.8%,#ff9100 58.3%,#ffce00 61.9%,#faff05 63.4%,#53ffac 67.4%,#4bffb4 67.8%,#50ffaf 68.6%,#46ffb9 69.0%,#12ffed 69.8%,#00f4ff 70.2%,#00d4ff 70.6%,#00abff 70.9%,#0030ff 71.7%,#0000fe 72.1%,#0000ef 72.5%,#0001ff 72.9%,#0043ff 73.3%,#00aeff 73.7%,#2fd 74.1%,#8fff70 74.5%,#f0ff0f 74.9%,#ffc400 75.3%,#ff9500 75.7%,#ff8100 76.1%,#ff6900 82.0%,#ff6100 86.4%,#ff7300 99.8%)"></i>
<i style="height:2.30px;background:linear-gradient(90deg,#fbff04 0.2%,#ffeb00 2.2%,#ff3400 14.4%,#ff1c00 16.8%,#fe0600 31.4%,#ff1000 48.4%,#ff3100 51.2%,#ff5100 54.0%,#ff7000 57.9%,#ffc000 61.9%,#fff900 63.4%,#e4ff1b 64.2%,#5effa1 67.4%,#5fa 67.8%,#57ffa8 68.6%,#48ffb7 69.0%,#10ffef 69.8%,#00f1ff 70.2%,#00d2ff 70.6%,#00a8ff 70.9%,#002cff 71.7%,#0000fd 72.1%,#0000f0 72.5%,#0004ff 72.9%,#0048ff 73.3%,#00b3ff 73.7%,#27ffd8 74.1%,#94ff6b 74.5%,#f4ff0b 74.9%,#ffbe00 75.3%,#ff8600 75.7%,#ff6700 76.1%,#ff5b00 76.5%,#ff3700 85.6%,#ff3d00 99.8%)"></i>
<i style="height:2.30px;background:linear-gradient(90deg,#fdff02 0.2%,#ffc400 4.5%,#ff0e00 16.0%,#fe0200 25.9%,#fa0000 48.8%,#ff0200 50.4%,#ff2d00 53.6%,#f50 57.9%,#ffb100 61.9%,#fefd01 63.8%,#62ff9d 67.4%,#58ffa7 67.8%,#54ffab 68.6%,#45ffba 69.0%,#0efff1 69.8%,#00efff 70.2%,#00d0ff 70.6%,#00a5ff 70.9%,#0029ff 71.7%,#0000fc 72.1%,#0000f0 72.5%,#0006ff 72.9%,#004cff 73.3%,#00b9ff 73.7%,#2cffd3 74.1%,#98ff67 74.5%,#f7ff08 74.9%,#fb0 75.3%,#ff8400 75.7%,#ff6500 76.1%,#f50 76.9%,#ff2900 84.8%,#ff2500 99.8%)"></i>
<i style="height:2.30px;background:linear-gradient(90deg,#fffb00 0.2%,#fa0 6.5%,#ff5000 12.8%,#ff2d00 16.8%,#ff1600 48.0%,#ff0100 50.8%,#f10 54.0%,#ff3900 57.9%,#ffa000 61.9%,#fbff04 64.2%,#62ff9d 67.4%,#4dffb2 68.2%,#3cffc3 69.0%,#0bfff4 69.8%,#00edff 70.2%,#00cdff 70.6%,#00a2ff 70.9%,#0025ff 71.7%,#0000fa 72.1%,#0000f0 72.5%,#0008ff 72.9%,#0051ff 73.3%,#00beff 73.7%,#31ffce 74.1%,#9cff63 74.5%,#faff05 74.9%,#ffbc00 75.3%,#ff8d00 75.7%,#f70 76.1%,#ff3f00 81.6%,#ff2400 89.1%,#ff2400 99.8%)"></i>
<i style="height:2.30px;background:linear-gradient(90deg,#fff600 0.2%,#ffb700 5.7%,#ff5100 12.8%,#ff2e00 16.8%,#ff1200 33.4%,#fd0a00 48.0%,#f50000 50.4%,#fa0000 54.0%,#ff0f00 56.7%,#ff2800 58.3%,#ff8f00 61.9%,#fff800 64.2%,#f2ff0d 64.6%,#73ff8c 67.0%,#37ffc8 68.6%,#1effe1 69.4%,#08fff7 69.8%,#00ebff 70.2%,#00caff 70.6%,#009eff 70.9%,#02f 71.7%,#0000f9 72.1%,#0000f0 72.5%,#000aff 72.9%,#0056ff 73.3%,#00c3ff 73.7%,#36ffc9 74.1%,#a0ff5f 74.5%,#fbff04 74.9%,#ffc200 75.3%,#ff9f00 75.7%,#ff9000 76.1%,#ff4b00 81.2%,#ff2400 89.5%,#ff2400 99.8%)"></i>
<i style="height:2.30px;background:linear-gradient(90deg,#fff200 0.2%,#ffb300 5.7%,#ff2100 15.2%,#ff0d00 17.6%,#f60000 25.1%,#ea0000 38.5%,#e70000 51.6%,#fe0200 57.1%,#ff1500 58.3%,#ff7200 61.5%,#ffd900 63.8%,#fdfe02 64.6%,#69ff96 67.4%,#26ffd9 69.0%,#1affe5 69.4%,#05fffa 69.8%,#00e8ff 70.2%,#00c7ff 70.6%,#009aff 70.9%,#001eff 71.7%,#0000f8 72.1%,#0000f0 72.5%,#000cff 72.9%,#005aff 73.3%,#00c8ff 73.7%,#3affc5 74.1%,#a3ff5c 74.5%,#f9ff06 74.9%,#ffd100 75.3%,#ffbc00 75.7%,#ffac00 77.7%,#ff6900 81.6%,#ff3e00 86.4%,#ff2b00 90.7%,#ff2400 99.8%)"></i>
<i style="height:2.30px;background:linear-gradient(90deg,#ffef00 0.2%,#ffb000 5.7%,#ff0200 16.0%,#da0000 31.8%,#d40000 49.6%,#fe0100 57.9%,#ff2300 59.5%,#ff8300 62.3%,#fff400 64.6%,#f4ff0b 65.0%,#61ff9e 67.8%,#1affe5 69.4%,#03fffc 69.8%,#00e6ff 70.2%,#00c4ff 70.6%,#0095ff 70.9%,#001bff 71.7%,#0000f6 72.1%,#0000f0 72.5%,#000eff 72.9%,#005eff 73.3%,#00cdff 73.7%,#3fffc0 74.1%,#a5ff5a 74.5%,#f2ff0d 74.9%,#ffe700 75.3%,#ffe100 75.7%,#fcf203 76.9%,#ffe800 78.1%,#ff9200 82.0%,#ff5d00 85.2%,#ff3500 91.1%,#ff2600 98.2%,#ff2400 99.8%)"></i>
<i style="height:2.30px;background:linear-gradient(90deg,#fe0 0.2%,#ffaf00 5.7%,#ff4300 12.1%,#f00 16.0%,#d90000 31.8%,#d10000 50.4%,#fe0100 58.7%,#f10 59.5%,#ff8500 62.6%,#fefc01 65.0%,#01fffe 69.8%,#00c1ff 70.6%,#0091ff 70.9%,#0017ff 71.7%,#0000f5 72.1%,#0000f0 72.5%,#0010ff 72.9%,#0063ff 73.3%,#00d2ff 73.7%,#42ffbd 74.1%,#a3ff5c 74.5%,#e4ff1b 74.9%,#fafd05 75.3%,#f6fe09 75.7%,#c9ff36 76.9%,#c4ff3b 77.3%,#df2 78.5%,#f7f808 79.6%,#ffd500 81.2%,#ff7b00 84.8%,#ff3600 92.3%,#ff2400 99.8%)"></i>
<i style="height:2.30px;background:linear-gradient(90deg,#fe0 0.2%,#ffaf00 5.7%,#ff4300 12.1%,#f00 16.0%,#d90000 32.2%,#d00000 50.8%,#ff0200 59.5%,#ff8700 63.0%,#ffef00 65.0%,#faff05 65.4%,#00feff 69.8%,#00beff 70.6%,#008dff 70.9%,#0014ff 71.7%,#0000f4 72.1%,#0000f0 72.5%,#0012ff 72.9%,#0067ff 73.3%,#00d7ff 73.7%,#46ffb9 74.1%,#a1ff5e 74.5%,#d9ff26 74.9%,#eaff15 75.3%,#e0ff1f 75.7%,#a2ff5d 76.9%,#9f6 77.3%,#a5ff5a 78.1%,#f9fc06 81.2%,#ffd500 82.8%,#ff9400 85.2%,#ff3b00 93.1%,#ff2600 99.8%)"></i>
<i style="height:2.30px;background:linear-gradient(90deg,#fe0 0.2%,#ffaf00 5.7%,#ff4300 12.1%,#f00 16.0%,#da0000 32.2%,#d00000 50.8%,#fd0000 59.5%,#ff1300 60.3%,#ff7200 63.0%,#fff200 65.4%,#f4ff0b 65.8%,#00fcff 69.8%,#0bf 70.6%,#0089ff 70.9%,#01f 71.7%,#0000f3 72.1%,#0000f1 72.5%,#0015ff 72.9%,#006cff 73.3%,#00dcff 73.7%,#4bffb4 74.1%,#a6ff59 74.5%,#deff21 74.9%,#f2ff0d 75.3%,#edff12 75.7%,#adff52 77.3%,#afff50 78.1%,#e4ff1b 81.6%,#f9fa06 82.8%,#ffe500 84.0%,#ffbf00 85.6%,#ff4f00 92.7%,#ff3800 96.6%,#ff2d00 99.8%)"></i>
<i style="height:2.30px;background:linear-gradient(90deg,#fe0 0.2%,#ffaf00 5.7%,#ff4300 12.1%,#f00 16.0%,#db0000 32.6%,#cf0000 50.8%,#fe0000 59.9%,#ff5c00 63.0%,#ffc800 65.0%,#fff900 65.8%,#d3ff2c 66.6%,#00fbff 69.8%,#00b8ff 70.6%,#0084ff 70.9%,#0045ff 71.3%,#000dff 71.7%,#0000f1 72.1%,#0000f1 72.5%,#0017ff 72.9%,#0070ff 73.3%,#00e1ff 73.7%,#50ffaf 74.1%,#af5 74.5%,#e4ff1b 74.9%,#fcff03 75.3%,#f6ff09 76.1%,#c7ff38 77.3%,#bdff42 78.5%,#beff41 81.2%,#e5ff1a 84.0%,#fbf604 85.2%,#ff6800 92.3%,#ff4c00 94.7%,#f30 99.8%)"></i>
<i style="height:2.30px;background:linear-gradient(90deg,#fe0 0.2%,#ffaf00 5.7%,#ff4300 12.1%,#f00 16.0%,#dc0000 32.6%,#cf0000 50.8%,#ff0100 60.3%,#ff4700 63.0%,#ff9d00 64.6%,#fbff04 66.2%,#19ffe6 69.4%,#00f9ff 69.8%,#00b5ff 70.6%,#0080ff 70.9%,#0040ff 71.3%,#000aff 71.7%,#0000f0 72.1%,#0000f1 72.5%,#0019ff 72.9%,#0074ff 73.3%,#00e6ff 73.7%,#54ffab 74.1%,#afff50 74.5%,#eaff15 74.9%,#fff800 75.3%,#fff000 75.7%,#fef901 76.5%,#e1ff1e 77.3%,#c0ff3f 78.9%,#a2ff5d 80.8%,#a9ff56 83.2%,#baff45 84.4%,#f7fc08 86.8%,#ffe500 87.9%,#ff8c00 91.5%,#ff5b00 94.3%,#ff3a00 99.8%)"></i>
<i style="height:2.30px;background:linear-gradient(90deg,#fe0 0.2%,#ffaf00 5.7%,#ff4300 12.1%,#f00 16.0%,#dc0000 33.0%,#cf0000 50.8%,#fe0100 60.7%,#ff3100 63.0%,#ff7000 64.2%,#fff400 66.2%,#ef1 66.6%,#17ffe8 69.4%,#00f7ff 69.8%,#00b2ff 70.6%,#007cff 70.9%,#003cff 71.3%,#0007ff 71.7%,#0000ef 72.1%,#0000f1 72.5%,#001bff 72.9%,#0078ff 73.3%,#00ebff 73.7%,#59ffa6 74.1%,#b4ff4b 74.5%,#f0ff0f 74.9%,#fe0 75.3%,#ffdf00 75.7%,#ffd900 76.1%,#ffde00 76.5%,#fafe05 77.3%,#9eff61 80.0%,#82ff7d 81.2%,#7dff82 84.0%,#f2ff0d 87.9%,#fff200 88.7%,#ffa300 91.5%,#ff6700 94.3%,#ff4100 99.8%)"></i>
<i style="height:2.30px;background:linear-gradient(90deg,#fe0 0.2%,#ffaf00 5.7%,#ff4300 12.1%,#f00 16.0%,#dc0000 33.4%,#cf0000 50.8%,#fe0200 61.5%,#ff1c00 63.0%,#ff4200 63.8%,#ffc700 65.8%,#fbff04 66.6%,#15ffea 69.4%,#00f5ff 69.8%,#00afff 70.6%,#0078ff 70.9%,#0038ff 71.3%,#0004ff 71.7%,#00e 72.1%,#0000f2 72.5%,#001fff 72.9%,#007eff 73.3%,#00f1ff 73.7%,#5effa1 74.1%,#b9ff46 74.5%,#f6ff09 74.9%,#ffe500 75.3%,#ffcf00 75.7%,#ffc100 76.1%,#ffc200 76.5%,#fcfd03 77.7%,#6eff91 80.8%,#59ffa6 82.0%,#49ffb6 84.0%,#6bff94 85.2%,#f7ff08 89.1%,#ffe900 89.9%,#ff7a00 93.9%,#ff6200 96.2%,#ff4700 99.8%)"></i>
<i style="height:2.30px;background:linear-gradient(90deg,#fe0 0.2%,#ffaf00 5.7%,#ff4300 12.1%,#f00 16.0%,#d00 33.8%,#cf0000 50.8%,#fe0200 62.6%,#ff0800 63.0%,#ff2e00 63.8%,#f90 65.4%,#fff800 66.6%,#c2ff3d 67.4%,#14ffeb 69.4%,#00f3ff 69.8%,#00d3ff 70.2%,#00acff 70.6%,#0074ff 70.9%,#0034ff 71.3%,#0001ff 71.7%,#00e 72.1%,#0000f4 72.5%,#0024ff 72.9%,#0084ff 73.3%,#00f6ff 73.7%,#62ff9d 74.1%,#bdff42 74.5%,#fcff03 74.9%,#ffc000 75.7%,#ffac00 76.1%,#ffa800 76.5%,#ffb800 76.9%,#faff05 78.1%,#5bffa4 80.8%,#41ffbe 81.6%,#1dffe2 83.6%,#21ffde 84.4%,#b6ff49 88.3%,#f7ff08 89.9%,#ffea00 90.7%,#ff8100 94.3%,#ff4f00 99.8%)"></i>
<i style="height:2.30px;background:linear-gradient(90deg,#fe0 0.2%,#ffaf00 5.7%,#ff4300 12.1%,#fe0000 16.0%,#de0000 34.2%,#d10000 51.2%,#ff0100 63.0%,#ff2300 63.8%,#ff7000 65.0%,#fff100 66.6%,#eaff15 67.0%,#15ffea 69.4%,#00f4ff 69.8%,#00d4ff 70.2%,#00acff 70.6%,#0073ff 70.9%,#03f 71.3%,#0001ff 71.7%,#00e 72.1%,#0000f6 72.5%,#0027ff 72.9%,#08f 73.3%,#00f9ff 73.7%,#64ff9b 74.1%,#beff41 74.5%,#fdff02 74.9%,#ffd900 75.3%,#ffa500 76.1%,#ff9e00 76.5%,#fa0 76.9%,#ffef00 78.1%,#f9ff06 78.5%,#6eff91 80.8%,#43ffbc 82.0%,#14ffeb 84.0%,#1dffe2 84.8%,#81ff7e 87.9%,#efff10 90.7%,#fff400 91.5%,#ff9b00 94.3%,#ff6000 99.0%,#ff5a00 99.8%)"></i>
<i style="height:2.30px;background:linear-gradient(90deg,#fe0 0.2%,#ffaf00 5.7%,#ff4300 12.1%,#ff0200 15.6%,#df0000 34.2%,#d10000 51.2%,#f00 63.0%,#ff1b00 63.8%,#f60 65.0%,#ffe900 66.6%,#f2ff0d 67.0%,#19ffe6 69.4%,#00f6ff 69.8%,#00acff 70.6%,#0074ff 70.9%,#0032ff 71.3%,#00f 71.7%,#00e 72.1%,#0000f7 72.5%,#002aff 72.9%,#008bff 73.3%,#00fbff 73.7%,#65ff9a 74.1%,#beff41 74.5%,#feff01 74.9%,#ffd800 75.3%,#ffa200 76.1%,#f90 76.5%,#ffa100 76.9%,#fdfa02 78.9%,#d6ff29 79.6%,#7bff84 81.2%,#25ffda 83.6%,#18ffe7 84.4%,#23ffdc 85.6%,#75ff8a 88.7%,#f2ff0d 91.9%,#ffef00 92.7%,#ffb000 94.7%,#ff7000 98.6%,#f60 99.8%)"></i>
<i style="height:2.30px;background:linear-gradient(90deg,#fe0 0.2%,#ffaf00 5.7%,#ff4b00 11.7%,#f00 15.6%,#e00000 34.2%,#d10000 51.2%,#fe0000 63.0%,#ff0500 63.4%,#ff2700 64.2%,#ff7b00 65.4%,#faff05 67.0%,#1cffe3 69.4%,#00f9ff 69.8%,#00adff 70.6%,#0032ff 71.3%,#00f 71.7%,#00e 72.1%,#0000f8 72.5%,#002dff 72.9%,#008eff 73.3%,#00fdff 73.7%,#6f9 74.1%,#bfff40 74.5%,#feff01 74.9%,#ffd700 75.3%,#ffa000 76.1%,#ff9400 76.5%,#f90 76.9%,#ffde00 78.9%,#f7fe08 79.6%,#87ff78 81.6%,#31ffce 83.6%,#14ffeb 84.8%,#13ffec 85.6%,#4bffb4 88.7%,#ecff13 92.7%,#fff400 93.5%,#ffc200 95.1%,#ff8200 98.2%,#ff7300 99.8%)"></i>
<i style="height:2.30px;background:linear-gradient(90deg,#fe0 0.2%,#ffaf00 5.7%,#ff4b00 11.7%,#fe0000 15.6%,#e10000 34.2%,#d20000 51.6%,#ff0100 63.4%,#ff1e00 64.2%,#ff7000 65.4%,#fffb00 67.0%,#20ffdf 69.4%,#00fbff 69.8%,#00aeff 70.6%,#0032ff 71.3%,#00f 71.7%,#00e 72.1%,#0000f9 72.5%,#0030ff 72.9%,#0091ff 73.3%,#0ff 73.7%,#6f9 74.1%,#bfff40 74.5%,#feff01 74.9%,#ffd700 75.3%,#ff9d00 76.1%,#ff9000 76.5%,#ff9800 77.3%,#ffbf00 78.9%,#fdf902 80.0%,#d2ff2d 80.8%,#61ff9e 82.8%,#1cffe3 84.4%,#06fff9 85.2%,#0bfff4 86.8%,#2fd 88.7%,#f8fe07 93.9%,#ffe900 94.7%,#ff9700 97.8%,#ff8000 99.8%)"></i>
<i style="height:2.30px;background:linear-gradient(90deg,#fe0 0.2%,#ffaf00 5.7%,#ff4b00 11.7%,#fe0000 15.6%,#e20000 34.6%,#d30000 51.6%,#fe0000 63.4%,#ff0500 63.8%,#ff2b00 64.6%,#ff6500 65.4%,#fff300 67.0%,#e6ff19 67.4%,#00feff 69.8%,#00afff 70.6%,#0032ff 71.3%,#00f 71.7%,#00e 72.1%,#0000fa 72.5%,#03f 72.9%,#0094ff 73.3%,#02fffd 73.7%,#67ff98 74.1%,#bfff40 74.5%,#feff01 74.9%,#ffd600 75.3%,#ff9b00 76.1%,#ff8b00 76.5%,#ff8c00 77.3%,#ffa400 78.9%,#ffc600 79.6%,#fff400 80.4%,#f0ff0f 80.8%,#71ff8e 82.8%,#0cfff3 84.8%,#00fdff 85.2%,#00f3ff 86.0%,#02f9fd 88.7%,#08fff7 89.1%,#f6ff09 94.7%,#ffec00 95.5%,#ffa000 98.2%,#ff8e00 99.8%)"></i>
<i style="height:2.30px;background:linear-gradient(90deg,#fe0 0.2%,#ffaf00 5.7%,#ff4b00 11.7%,#ff0300 15.2%,#f10000 21.5%,#d40000 51.6%,#ff0200 63.8%,#ff2300 64.6%,#ff5a00 65.4%,#ffea00 67.0%,#ef1 67.4%,#01fffe 69.8%,#00dcff 70.2%,#00b0ff 70.6%,#0031ff 71.3%,#00f 71.7%,#0000ef 72.1%,#0000fc 72.5%,#0035ff 72.9%,#04fffb 73.7%,#68ff97 74.1%,#bfff40 74.5%,#ff0 74.9%,#ffd400 75.3%,#ff9800 76.1%,#ff8900 76.5%,#ff8900 77.3%,#ff9b00 78.9%,#ffb700 79.6%,#fefd01 80.8%,#6f9 83.2%,#10ffef 84.8%,#00feff 85.2%,#0ef 86.0%,#0df 88.3%,#00eaff 89.1%,#00f8ff 89.5%,#18ffe7 90.3%,#ecff13 95.5%,#fef601 96.2%,#ffbe00 98.2%,#ffa600 99.8%)"></i>
<i style="height:2.30px;background:linear-gradient(90deg,#fe0 0.2%,#ffaf00 5.7%,#ff4b00 11.7%,#ff0100 15.2%,#f40000 19.2%,#d50000 51.6%,#f00 63.8%,#ff1b00 64.6%,#ff4f00 65.4%,#ffe100 67.0%,#f7ff08 67.4%,#05fffa 69.8%,#00deff 70.2%,#00b1ff 70.6%,#0031ff 71.3%,#0000fe 71.7%,#0000ef 72.1%,#0000fd 72.5%,#0038ff 72.9%,#06fff9 73.7%,#69ff96 74.1%,#bfff40 74.5%,#fffe00 74.9%,#ffd100 75.3%,#ffaf00 75.7%,#ff9500 76.1%,#ff8700 76.5%,#ff8d00 78.1%,#ff9f00 79.2%,#ffc000 80.0%,#fff300 80.8%,#f0ff0f 81.2%,#6fff90 83.2%,#03fffc 85.2%,#00dfff 86.8%,#00c9ff 88.3%,#00d0ff 89.1%,#00f4ff 90.3%,#1bffe4 91.5%,#e1ff1e 96.2%,#f9fc06 97.0%,#ffdf00 98.2%,#ffc100 99.8%)"></i>
<i style="height:2.30px;background:linear-gradient(90deg,#fe0 0.2%,#ffaf00 5.7%,#ff4b00 11.7%,#f00 15.2%,#f40000 18.4%,#d70000 48.8%,#dc0000 53.2%,#fe0000 63.8%,#ff1400 64.6%,#f40 65.4%,#fefe01 67.4%,#08fff7 69.8%,#00e0ff 70.2%,#00b2ff 70.6%,#0030ff 71.3%,#0000fe 71.7%,#0000ef 72.1%,#0000fe 72.5%,#003bff 72.9%,#08fff7 73.7%,#69ff96 74.1%,#bfff40 74.5%,#fffd00 74.9%,#ffcf00 75.3%,#ffab00 75.7%,#ff9200 76.1%,#ff8600 76.5%,#ff9100 78.9%,#ffa300 79.6%,#fc0 80.4%,#fbff04 81.2%,#60ff9f 83.6%,#07fff8 85.2%,#00e9ff 86.0%,#00b5ff 88.3%,#00b6ff 89.1%,#04f8fb 91.9%,#0cfff3 92.3%,#caff35 96.6%,#fafc05 98.2%,#ffdb00 99.8%)"></i>
<i style="height:2.30px;background:linear-gradient(90deg,#fe0 0.2%,#ffaf00 5.7%,#ff4b00 11.7%,#fe0000 15.2%,#f40000 18.0%,#d90000 48.4%,#da0000 52.4%,#ff0100 64.2%,#ff1e00 65.0%,#ff5c00 65.8%,#fff500 67.4%,#e0ff1f 67.8%,#0bfff4 69.8%,#00e2ff 70.2%,#00b3ff 70.6%,#0030ff 71.3%,#0000fe 71.7%,#0000ef 72.1%,#00f 72.5%,#003dff 72.9%,#00a0ff 73.3%,#09fff6 73.7%,#6aff95 74.1%,#c0ff3f 74.5%,#fffc00 74.9%,#fc0 75.3%,#ffa700 75.7%,#ff8f00 76.1%,#ff8400 76.5%,#ff9000 79.2%,#ffa900 80.0%,#fff800 81.2%,#cfff30 82.0%,#21ffde 84.8%,#0afff5 85.2%,#00f6ff 85.6%,#00a1ff 88.3%,#009cff 89.1%,#00cfff 91.9%,#06f9f9 93.1%,#23ffdc 93.9%,#a6ff59 96.6%,#f4ff0b 99.0%,#fff600 99.8%)"></i>
<i style="height:2.30px;background:linear-gradient(90deg,#fe0 0.2%,#ffaf00 5.7%,#ff4a00 11.7%,#fe0000 15.2%,#f30000 18.0%,#d00 47.6%,#db0000 52.0%,#fe0000 64.2%,#ff0600 64.6%,#ff1600 65.0%,#ff2f00 65.4%,#ff9f00 66.6%,#ffec00 67.4%,#e9ff16 67.8%,#0ffff0 69.8%,#00e5ff 70.2%,#00b5ff 70.6%,#0030ff 71.3%,#0000fd 71.7%,#0000ef 72.1%,#0001ff 72.5%,#0040ff 72.9%,#00a3ff 73.3%,#0bfff4 73.7%,#6bff94 74.1%,#c0ff3f 74.5%,#fffb00 74.9%,#ffca00 75.3%,#ffa500 75.7%,#ff8c00 76.1%,#ff8300 76.5%,#ff8a00 79.2%,#ff9000 79.6%,#ff9e00 80.0%,#ffeb00 81.2%,#f7ff08 81.6%,#28ffd7 84.8%,#0ffff0 85.2%,#00f8ff 85.6%,#009eff 87.9%,#08f 88.7%,#0094ff 90.7%,#00a5ff 91.9%,#01f5fe 93.9%,#0afef5 94.3%,#7cff83 96.6%,#df2 99.4%,#e7ff18 99.8%)"></i>
<i style="height:2.30px;background:linear-gradient(90deg,#fe0 0.2%,#ffaf00 5.7%,#ff5100 11.3%,#ff0300 14.8%,#f30000 17.6%,#e30000 47.2%,#d00 52.0%,#ff0300 64.6%,#f10 65.0%,#ff2800 65.4%,#ff6c00 66.2%,#ffe300 67.4%,#f3ff0c 67.8%,#13ffec 69.8%,#00e7ff 70.2%,#00b6ff 70.6%,#002fff 71.3%,#0000fd 71.7%,#0000ef 72.1%,#0002ff 72.5%,#0043ff 72.9%,#00a6ff 73.3%,#0dfff2 73.7%,#6bff94 74.1%,#c0ff3f 74.5%,#fffb00 74.9%,#ffca00 75.3%,#ffa400 75.7%,#ff8c00 76.1%,#ff8300 76.5%,#ff8d00 79.6%,#ffac00 80.4%,#fff500 81.6%,#ef1 82.0%,#01fefe 85.6%,#0af 87.5%,#0082ff 88.7%,#007eff 91.1%,#0086ff 91.9%,#00dbff 94.3%,#05f8fa 95.1%,#21ffde 95.8%,#a6ff59 99.4%,#b0ff4f 99.8%)"></i>
<i style="height:2.30px;background:linear-gradient(90deg,#fe0 0.2%,#ffaf00 5.7%,#ff5800 10.9%,#ff0100 14.8%,#f20000 17.2%,#e00 34.2%,#e90000 47.6%,#df0000 52.4%,#ff0200 64.6%,#ff0e00 65.0%,#ff3f00 65.8%,#fcff03 67.8%,#17ffe8 69.8%,#00eaff 70.2%,#00b7ff 70.6%,#002fff 71.3%,#0000fd 71.7%,#0000ef 72.1%,#0003ff 72.5%,#0045ff 72.9%,#00a8ff 73.3%,#0ffff0 73.7%,#6cff93 74.1%,#c0ff3f 74.5%,#fffc00 74.9%,#ffca00 75.3%,#ffa400 75.7%,#ff8c00 76.1%,#ff8300 76.5%,#ff8c00 79.6%,#ffa300 80.4%,#ffe300 81.6%,#fefb01 82.0%,#b3ff4c 83.2%,#07fff8 85.6%,#00dbff 86.4%,#008aff 88.3%,#0078ff 89.1%,#06f 91.5%,#0071ff 92.3%,#02f2fd 96.2%,#13ffec 97.0%,#76ff89 99.8%)"></i>
<i style="height:2.30px;background:linear-gradient(90deg,#fe0 0.2%,#ffaf00 5.7%,#ff5f00 10.5%,#fe0000 14.8%,#f10000 17.2%,#ef0000 30.6%,#f10000 46.4%,#e10000 52.8%,#ff0100 64.6%,#ff1e00 65.4%,#ff5800 66.2%,#fff800 67.8%,#d9ff26 68.2%,#1cffe3 69.8%,#00edff 70.2%,#00b9ff 70.6%,#002eff 71.3%,#0000fd 71.7%,#0000f0 72.1%,#0005ff 72.5%,#0047ff 72.9%,#00abff 73.3%,#10ffef 73.7%,#6dff92 74.1%,#c0ff3f 74.5%,#fffc00 74.9%,#ffca00 75.3%,#ffa400 75.7%,#ff8c00 76.1%,#ff8300 76.5%,#ff8a00 79.6%,#ffa700 80.8%,#fbfd04 82.4%,#8bff74 84.0%,#0ffff0 85.6%,#00f3ff 86.0%,#0097ff 87.9%,#0072ff 89.1%,#004cff 91.5%,#0050ff 92.3%,#00b9ff 96.2%,#01f1fe 97.8%,#12ffed 98.6%,#3bffc4 99.8%)"></i>
<i style="height:2.30px;background:linear-gradient(90deg,#fe0 0.2%,#ffaf00 5.7%,#ff5e00 10.5%,#fd0000 14.8%,#ef0000 17.2%,#ef0000 29.4%,#f70000 45.7%,#eb0000 49.6%,#e30000 53.2%,#f00 64.6%,#ff0800 65.0%,#ff3100 65.8%,#ff7400 66.6%,#fe0 67.8%,#e3ff1c 68.2%,#20ffdf 69.8%,#00f0ff 70.2%,#00baff 70.6%,#002eff 71.3%,#0000fc 71.7%,#0000f0 72.1%,#0006ff 72.5%,#004aff 72.9%,#00adff 73.3%,#12ffed 73.7%,#6dff92 74.1%,#c0ff3f 74.5%,#fffc00 74.9%,#ffca00 75.3%,#ffa400 75.7%,#ff8c00 76.1%,#ff8300 76.5%,#ff8b00 80.0%,#ff9a00 80.8%,#ffbd00 81.6%,#ffec00 82.4%,#f8ff07 82.8%,#59ffa6 84.8%,#16ffe9 85.6%,#00f7ff 86.0%,#00a7ff 87.5%,#07f 88.7%,#0031ff 91.5%,#0030ff 92.3%,#007cff 96.2%,#00d5ff 98.6%,#02f2fd 99.4%,#07f8f8 99.8%)"></i>
<i style="height:2.30px;background:linear-gradient(90deg,#fe0 0.2%,#ffaf00 5.7%,#f60 10.1%,#ff1700 13.6%,#ff0300 14.4%,#e00 17.2%,#ef0000 28.3%,#fd0000 44.9%,#f60000 48.8%,#e40000 52.4%,#fe0000 64.6%,#ff0500 65.0%,#ff2c00 65.8%,#ff6900 66.6%,#ffe400 67.8%,#edff12 68.2%,#25ffda 69.8%,#00f3ff 70.2%,#00bcff 70.6%,#002dff 71.3%,#0000fc 71.7%,#0000f0 72.1%,#0007ff 72.5%,#004cff 72.9%,#00afff 73.3%,#13ffec 73.7%,#6eff91 74.1%,#c0ff3f 74.5%,#fffb00 74.9%,#ffca00 75.3%,#ffa400 75.7%,#ff8c00 76.1%,#ff8300 76.5%,#ff8a00 80.4%,#ff9c00 81.2%,#fff300 82.8%,#ef1 83.2%,#65ff9a 84.8%,#1cffe3 85.6%,#00fbff 86.0%,#00b8ff 87.2%,#0072ff 88.7%,#001dff 91.5%,#0018ff 92.3%,#004dff 96.2%,#0085ff 97.8%,#00cfff 99.8%)"></i>
<i style="height:2.30px;background:linear-gradient(90deg,#fe0 0.2%,#ffaf00 5.7%,#ff6500 10.1%,#ff1500 13.6%,#ff0100 14.4%,#ed0000 16.8%,#ef0000 27.9%,#ff0500 39.7%,#ff0900 47.2%,#f80000 49.2%,#e50000 52.8%,#ff0400 65.0%,#ff2700 65.8%,#ff6000 66.6%,#ffd900 67.8%,#f8ff07 68.2%,#2affd5 69.8%,#00f6ff 70.2%,#00beff 70.6%,#002dff 71.3%,#0000fb 71.7%,#0000f0 72.1%,#0008ff 72.5%,#004eff 72.9%,#00b1ff 73.3%,#14ffeb 73.7%,#c1ff3e 74.5%,#fffa00 74.9%,#ffc800 75.3%,#ffa300 75.7%,#ff8b00 76.1%,#ff8200 76.9%,#ff8f00 80.8%,#ffa800 81.6%,#ffe600 82.8%,#fcfe03 83.2%,#beff41 84.0%,#21ffde 85.6%,#0ff 86.0%,#00b5ff 87.2%,#006cff 88.7%,#002bff 90.7%,#0014ff 91.9%,#003bff 96.2%,#0061ff 97.4%,#00baff 99.8%)"></i>
<i style="height:2.30px;background:linear-gradient(90deg,#fe0 0.2%,#ffaf00 5.7%,#ff6500 10.1%,#ff1300 13.6%,#f00 14.4%,#ec0000 16.8%,#e00 27.5%,#ff0500 36.6%,#ff1800 43.3%,#ff1600 47.6%,#fd0000 49.2%,#e70000 52.4%,#ff0300 65.0%,#f20 65.8%,#ff5900 66.6%,#ffcf00 67.8%,#fffc00 68.2%,#9cff63 69.0%,#00faff 70.2%,#00c0ff 70.6%,#002cff 71.3%,#0000fb 71.7%,#0000f0 72.1%,#0009ff 72.5%,#0050ff 72.9%,#00b3ff 73.3%,#16ffe9 73.7%,#c1ff3e 74.5%,#fff900 74.9%,#ffc700 75.3%,#ffa200 75.7%,#ff8b00 76.1%,#ff8200 76.9%,#ff8f00 80.8%,#ffb100 82.0%,#fff200 83.2%,#f0ff0f 83.6%,#a8ff57 84.4%,#26ffd9 85.6%,#04fffb 86.0%,#009cff 87.5%,#0048ff 89.5%,#0023ff 90.7%,#0012ff 91.9%,#002eff 96.2%,#0052ff 97.4%,#00a7ff 99.8%)"></i>
<i style="height:2.30px;background:linear-gradient(90deg,#fe0 0.2%,#ffaf00 5.7%,#ff6d00 9.7%,#ff1c00 13.2%,#fe0000 14.4%,#eb0000 16.8%,#ed0000 27.1%,#ff0400 34.2%,#ff2500 42.9%,#ff2600 47.6%,#fe0100 49.6%,#e80000 52.8%,#ff0100 65.0%,#ff0b00 65.4%,#ff3500 66.2%,#ff7200 67.0%,#fff100 68.2%,#dbff24 68.6%,#00feff 70.2%,#00c2ff 70.6%,#002cff 71.3%,#0000fb 71.7%,#0000f0 72.1%,#000aff 72.5%,#0052ff 72.9%,#00b6ff 73.3%,#17ffe8 73.7%,#c2ff3d 74.5%,#fff800 74.9%,#ffc600 75.3%,#ffa100 75.7%,#ff8b00 76.1%,#ff8200 76.9%,#ff8f00 80.8%,#ffa800 82.0%,#fc0 82.8%,#fefc01 83.6%,#e0ff1f 84.0%,#86ff79 84.8%,#2bffd4 85.6%,#07fff8 86.0%,#00c8ff 86.8%,#0084ff 87.9%,#0024ff 90.3%,#0010ff 91.9%,#0020ff 96.2%,#0042ff 97.4%,#0095ff 99.8%)"></i>
<i style="height:2.30px;background:linear-gradient(90deg,#fe0 0.2%,#ffaf00 5.7%,#ff6c00 9.7%,#ff1a00 13.2%,#fd0000 14.4%,#ea0000 16.8%,#e00 27.1%,#ff0400 32.6%,#ff3200 42.5%,#ff3900 47.2%,#ff2a00 48.4%,#fe0100 50.0%,#ea0000 52.8%,#f00 65.0%,#ff0800 65.4%,#ff3000 66.2%,#ff6900 67.0%,#ffb900 67.8%,#ffe600 68.2%,#e6ff19 68.6%,#03fffc 70.2%,#00c4ff 70.6%,#002bff 71.3%,#0000fa 71.7%,#0000f0 72.1%,#000bff 72.5%,#0054ff 72.9%,#00b8ff 73.3%,#18ffe7 73.7%,#c2ff3d 74.5%,#fff800 74.9%,#ffc500 75.3%,#ffa100 75.7%,#ff8b00 76.1%,#ff8200 76.9%,#ff9200 81.2%,#ff9f00 82.0%,#ffbf00 82.8%,#ffed00 83.6%,#f2ff0d 84.0%,#c6ff39 84.4%,#5cffa3 85.2%,#0bfff4 86.0%,#00e7ff 86.4%,#0af 87.2%,#005bff 88.7%,#001bff 90.3%,#000eff 91.9%,#0012ff 96.2%,#0032ff 97.4%,#0082ff 99.8%)"></i>
<i style="height:2.30px;background:linear-gradient(90deg,#fe0 0.2%,#ffaf00 5.7%,#ff6c00 9.7%,#ff1900 13.2%,#ff0300 14.0%,#e90000 16.8%,#ed0000 26.7%,#ff0200 31.4%,#ff4000 42.5%,#ff4a00 47.2%,#ff3a00 48.4%,#fe0100 50.4%,#ec0000 52.8%,#f00 65.0%,#ff0600 65.4%,#ff2b00 66.2%,#ff6200 67.0%,#ffae00 67.8%,#ffda00 68.2%,#f2ff0d 68.6%,#08fff7 70.2%,#00c7ff 70.6%,#002aff 71.3%,#0000fa 71.7%,#0000f0 72.1%,#000cff 72.5%,#0057ff 72.9%,#00baff 73.3%,#1affe5 73.7%,#c1ff3e 74.5%,#fff800 74.9%,#ffc500 75.3%,#ffa200 75.7%,#ff8c00 76.1%,#ff8300 76.9%,#ff9400 81.6%,#ffa400 82.4%,#ffe000 83.6%,#fefd01 84.0%,#d5ff2a 84.4%,#69ff96 85.2%,#15ffea 86.0%,#00f0ff 86.4%,#00afff 87.2%,#005cff 88.7%,#001bff 90.3%,#000eff 92.3%,#000eff 96.2%,#002cff 97.4%,#007aff 99.8%)"></i>
<i style="height:2.30px;background:linear-gradient(90deg,#fe0 0.2%,#ffaf00 5.7%,#ff6c00 9.7%,#ff2400 12.8%,#ff0200 14.0%,#e80000 16.8%,#ed0000 26.7%,#ff0400 31.0%,#ff4a00 40.9%,#ff5d00 47.2%,#ff4c00 48.4%,#fe0100 50.8%,#e00 53.2%,#f00 65.0%,#ff0500 65.4%,#ff2700 66.2%,#ff7b00 67.4%,#ffcf00 68.2%,#fdfe02 68.6%,#89ff76 69.4%,#0dfff2 70.2%,#00c9ff 70.6%,#002aff 71.3%,#0000f9 71.7%,#0000f0 72.1%,#000dff 72.5%,#0059ff 72.9%,#00bcff 73.3%,#1bffe4 73.7%,#c1ff3e 74.5%,#fffa00 74.9%,#ffc800 75.3%,#ffa500 75.7%,#ff8f00 76.1%,#ff8500 76.9%,#f90 82.0%,#ffb100 82.8%,#ffd800 83.6%,#fff400 84.0%,#e4ff1b 84.4%,#54ffab 85.6%,#07fff8 86.4%,#00c4ff 87.2%,#006bff 88.7%,#0029ff 90.3%,#0014ff 91.9%,#001aff 96.2%,#0038ff 97.4%,#0083ff 99.8%)"></i>
<i style="height:2.30px;background:linear-gradient(90deg,#fe0 0.2%,#ffaf00 5.7%,#ff6c00 9.7%,#ff2300 12.8%,#ff0200 14.0%,#e80000 16.8%,#ed0000 26.7%,#ff0100 30.2%,#ff4200 37.4%,#ff6e00 45.3%,#ff7100 47.2%,#ff5f00 48.4%,#fe0100 51.2%,#f10000 53.2%,#ff0300 65.4%,#f20 66.2%,#ff7300 67.4%,#ffc300 68.2%,#fff400 68.6%,#d1ff2e 69.0%,#13ffec 70.2%,#0cf 70.6%,#0029ff 71.3%,#0000f9 71.7%,#0000f0 72.1%,#000eff 72.5%,#005bff 72.9%,#00beff 73.3%,#1cffe3 73.7%,#c1ff3e 74.5%,#fffb00 74.9%,#ffca00 75.3%,#ffa800 75.7%,#ff9200 76.1%,#ff8700 76.9%,#ff9a00 82.0%,#ffad00 82.8%,#ffd100 83.6%,#ffea00 84.0%,#f3ff0c 84.4%,#4fb 86.0%,#1dffe2 86.4%,#00f9ff 86.8%,#00a8ff 87.9%,#0068ff 89.1%,#0038ff 90.3%,#001bff 91.9%,#0028ff 96.2%,#0053ff 97.8%,#008eff 99.8%)"></i>
<i style="height:2.30px;background:linear-gradient(90deg,#fe0 0.2%,#ffaf00 5.7%,#ff6c00 9.7%,#ff2300 12.8%,#ff0100 14.0%,#e70000 16.8%,#e00 26.7%,#ff0100 29.8%,#ff4900 36.6%,#ff7f00 44.9%,#ff8500 47.2%,#ff7100 48.4%,#ff0a00 51.2%,#fe0000 51.6%,#f30000 53.6%,#ff0200 65.4%,#ff0c00 65.8%,#ff3500 66.6%,#ff6c00 67.4%,#ffb800 68.2%,#ffe800 68.6%,#deff21 69.0%,#19ffe6 70.2%,#00d0ff 70.6%,#0028ff 71.3%,#0000f8 71.7%,#0000f1 72.1%,#000fff 72.5%,#005dff 72.9%,#00c0ff 73.3%,#1effe1 73.7%,#c0ff3f 74.5%,#fffc00 74.9%,#ffcd00 75.3%,#ffac00 75.7%,#ff9500 76.1%,#ff8b00 76.5%,#ff9a00 82.0%,#ffa900 82.8%,#ffc900 83.6%,#fefc01 84.4%,#deff21 84.8%,#34ffcb 86.4%,#1fe 86.8%,#00f1ff 87.2%,#008aff 88.7%,#0047ff 90.3%,#0021ff 91.9%,#0036ff 96.2%,#0060ff 97.8%,#09f 99.8%)"></i>
<i style="height:2.30px;background:linear-gradient(90deg,#fe0 0.2%,#ffaf00 5.7%,#ff6c00 9.7%,#ff2300 12.8%,#f00 14.0%,#e70000 16.4%,#ec0000 26.3%,#f00 29.4%,#ff4d00 35.8%,#ff7c00 41.3%,#ff9a00 46.8%,#ff8e00 48.0%,#ff6800 49.2%,#ff0700 51.6%,#f90000 52.4%,#fe0000 65.0%,#ff0900 65.8%,#ff3000 66.6%,#ff8500 67.8%,#ffdc00 68.6%,#ebff14 69.0%,#1fffe0 70.2%,#00d3ff 70.6%,#0027ff 71.3%,#0000f8 71.7%,#0000f1 72.1%,#0010ff 72.5%,#005fff 72.9%,#00c2ff 73.3%,#1fffe0 73.7%,#c0ff3f 74.5%,#fffd00 74.9%,#ffcf00 75.3%,#ffaf00 75.7%,#f90 76.1%,#ff8e00 76.5%,#ff9b00 82.0%,#ffa500 82.8%,#ffc200 83.6%,#ffed00 84.4%,#f3ff0c 84.8%,#4bffb4 86.4%,#08fff7 87.2%,#00eaff 87.5%,#009aff 88.7%,#0048ff 90.7%,#0027ff 91.9%,#0039ff 95.1%,#004bff 96.6%,#00a4ff 99.8%)"></i>
<i style="height:2.30px;background:linear-gradient(90deg,#fe0 0.2%,#ffaf00 5.7%,#ff6c00 9.7%,#f20 12.8%,#f00 14.0%,#e70000 16.4%,#ec0000 26.3%,#ff0300 29.4%,#ff4a00 34.6%,#ff7600 38.5%,#ffac00 46.4%,#ffa900 47.6%,#ff8b00 48.8%,#ff1800 51.6%,#fe0300 52.4%,#ff0100 65.4%,#ff0700 65.8%,#ff2b00 66.6%,#ff7c00 67.8%,#ffcf00 68.6%,#f8ff07 69.0%,#70ff8f 69.8%,#26ffd9 70.2%,#00d7ff 70.6%,#0027ff 71.3%,#0000f7 71.7%,#0000f1 72.1%,#01f 72.5%,#0061ff 72.9%,#00c4ff 73.3%,#20ffdf 73.7%,#c0ff3f 74.5%,#ff0 74.9%,#ffd200 75.3%,#ffb300 75.7%,#ff9c00 76.1%,#ff9100 76.5%,#ff9a00 81.2%,#ffa300 82.8%,#ffbe00 83.6%,#ffe400 84.4%,#fffd00 84.8%,#dfff20 85.2%,#5cffa3 86.4%,#18ffe7 87.2%,#00f9ff 87.5%,#00a7ff 88.7%,#04f 91.1%,#002dff 91.9%,#0031ff 93.5%,#05f 96.6%,#00aeff 99.8%)"></i>
<i style="height:2.30px;background:linear-gradient(90deg,#ffef00 0.2%,#ffb000 5.7%,#ff6c00 9.7%,#f20 12.8%,#f00 14.0%,#e60000 16.4%,#ed0000 26.3%,#ff0200 29.1%,#ff4900 33.8%,#ff8100 38.5%,#fb0 46.4%,#ffb900 47.6%,#ff9e00 48.8%,#ff2400 52.0%,#ff0f00 53.2%,#ff0300 65.0%,#ff0800 65.8%,#ff2500 66.6%,#ff5300 67.4%,#ff9600 68.2%,#ffc300 68.6%,#fff900 69.0%,#c4ff3b 69.4%,#2effd1 70.2%,#00dbff 70.6%,#0026ff 71.3%,#0000f6 71.7%,#0000f1 72.1%,#0012ff 72.5%,#0063ff 72.9%,#00c6ff 73.3%,#21ffde 73.7%,#bfff40 74.5%,#feff01 74.9%,#ffd400 75.3%,#ffb600 75.7%,#ffa000 76.1%,#ff9400 76.5%,#ff9a00 80.0%,#ffa600 82.8%,#ffbe00 83.6%,#fff800 84.8%,#e7ff18 85.2%,#40ffbf 86.8%,#01fefe 87.5%,#00b0ff 88.7%,#004bff 91.1%,#03f 91.9%,#002fff 93.5%,#005aff 96.6%,#00b6ff 99.8%)"></i>
<i style="height:2.30px;background:linear-gradient(90deg,#fff100 0.2%,#ffb200 5.7%,#ff6400 10.1%,#ff2300 12.8%,#f00 14.0%,#e70000 16.4%,#f00000 26.3%,#ff0200 28.7%,#ff4600 33.0%,#ff8900 38.5%,#ffc300 46.0%,#ffc300 47.6%,#ffac00 48.8%,#ff3d00 52.0%,#ff2700 53.2%,#ff0c00 61.5%,#ff0800 65.8%,#ff1f00 66.6%,#ff4900 67.4%,#ff8b00 68.2%,#ffb700 68.6%,#ffec00 69.0%,#d1ff2e 69.4%,#37ffc8 70.2%,#00e0ff 70.6%,#0025ff 71.3%,#0000f5 71.7%,#0000f1 72.1%,#0013ff 72.5%,#0065ff 72.9%,#00c8ff 73.3%,#2fd 73.7%,#bfff40 74.5%,#fdff02 74.9%,#ffd700 75.3%,#ffa300 76.1%,#ff9700 76.5%,#ff9a00 79.2%,#ffa800 82.8%,#ffcd00 84.0%,#fff300 84.8%,#efff10 85.2%,#a0ff5f 86.0%,#49ffb6 86.8%,#06fff9 87.5%,#00d1ff 88.3%,#0094ff 89.5%,#0045ff 91.5%,#002fff 92.7%,#0031ff 93.9%,#005eff 96.6%,#00bfff 99.8%)"></i>
<i style="height:2.30px;background:linear-gradient(90deg,#fff300 0.2%,#ffb300 5.7%,#ff6400 10.1%,#ff2300 12.8%,#ff0100 14.0%,#e80000 16.4%,#f20000 26.3%,#ff0100 28.3%,#ff4800 32.6%,#ff9100 38.5%,#ffcd00 46.0%,#ffcd00 47.6%,#ffb000 49.2%,#ff4c00 52.4%,#ff3900 54.0%,#ff1700 60.7%,#ff0900 65.8%,#ff1900 66.6%,#ff3e00 67.4%,#ff8000 68.2%,#ffab00 68.6%,#ffde00 69.0%,#e0ff1f 69.4%,#40ffbf 70.2%,#00e5ff 70.6%,#0080ff 70.9%,#0024ff 71.3%,#0000f5 71.7%,#0000f1 72.1%,#0014ff 72.5%,#0067ff 72.9%,#00caff 73.3%,#23ffdc 73.7%,#beff41 74.5%,#fcff03 74.9%,#ffd900 75.3%,#ffa700 76.1%,#ff9b00 76.5%,#ff9c00 78.9%,#fa0 82.8%,#fc0 84.0%,#fe0 84.8%,#f7ff08 85.2%,#d6ff29 85.6%,#51ffae 86.8%,#0cfff3 87.5%,#00f2ff 87.9%,#00afff 89.1%,#004cff 91.5%,#0030ff 92.7%,#002bff 93.5%,#0062ff 96.6%,#00c8ff 99.8%)"></i>
<i style="height:2.30px;background:linear-gradient(90deg,#fff500 0.2%,#ffb500 5.7%,#ff5b00 10.5%,#ff1800 13.2%,#ff0200 14.0%,#e80000 16.8%,#f40000 26.3%,#ff0100 27.9%,#ff4f00 32.6%,#ff9800 38.5%,#ffd600 46.0%,#ffd700 47.6%,#ffc000 49.2%,#ff6500 52.4%,#ff4c00 54.3%,#ff2500 59.9%,#ff0900 65.8%,#ff1300 66.6%,#ff1f00 67.0%,#ff5100 67.8%,#ff9e00 68.6%,#ffd000 69.0%,#efff10 69.4%,#a2ff5d 69.8%,#4bffb4 70.2%,#00ebff 70.6%,#0082ff 70.9%,#0023ff 71.3%,#0000f4 71.7%,#0000f1 72.1%,#0016ff 72.5%,#0069ff 72.9%,#0cf 73.3%,#25ffda 73.7%,#beff41 74.5%,#faff05 74.9%,#ffc000 75.7%,#ffab00 76.1%,#ff9e00 76.5%,#ff9e00 78.5%,#ffad00 82.8%,#ffca00 84.0%,#fefe01 85.2%,#e1ff1e 85.6%,#8f7 86.4%,#31ffce 87.2%,#12ffed 87.5%,#00f9ff 87.9%,#00a6ff 89.5%,#0046ff 91.9%,#002bff 93.1%,#002cff 93.9%,#0072ff 97.0%,#00d1ff 99.8%)"></i>
<i style="height:2.30px;background:linear-gradient(90deg,#fff700 0.2%,#ffb700 5.7%,#ff5300 10.9%,#ff0300 14.0%,#e90000 16.8%,#f60000 26.3%,#f00 27.5%,#ff5100 32.2%,#ffa000 38.5%,#ffdf00 46.0%,#ffdf00 48.0%,#ffc000 50.0%,#ff7500 52.8%,#ff3700 58.7%,#ff0a00 66.2%,#ff1600 67.0%,#ff2a00 67.4%,#ff6900 68.2%,#ff9100 68.6%,#ffc200 69.0%,#fdfe02 69.4%,#b0ff4f 69.8%,#56ffa9 70.2%,#00f2ff 70.6%,#0083ff 70.9%,#02f 71.3%,#0000f3 71.7%,#0000f2 72.1%,#0018ff 72.5%,#006cff 72.9%,#00ceff 73.3%,#26ffd9 73.7%,#beff41 74.5%,#f9ff06 74.9%,#ffc300 75.7%,#ffa100 76.5%,#ffa000 78.1%,#ffaf00 82.8%,#ffc900 84.0%,#fff700 85.2%,#ecff13 85.6%,#c4ff3b 86.0%,#62ff9d 86.8%,#37ffc8 87.2%,#18ffe7 87.5%,#01fefe 87.9%,#007aff 90.7%,#03f 92.7%,#0026ff 93.5%,#004eff 95.5%,#0083ff 97.4%,#00daff 99.8%)"></i>
<i style="height:1.50px;background:linear-gradient(90deg,#fff800 0.2%,#ffb800 5.7%,#ff4200 11.7%,#ff0300 14.0%,#ea0000 16.8%,#f80000 26.3%,#ff0500 27.5%,#ff5800 32.2%,#ffa700 38.5%,#ffe700 46.0%,#ffe900 48.0%,#ffd100 50.0%,#ff8500 53.2%,#ff4200 58.7%,#ff0700 66.6%,#ff0e00 67.0%,#ff2000 67.4%,#ff5e00 68.2%,#ff8500 68.6%,#ffb500 69.0%,#fff200 69.4%,#beff41 69.8%,#00f9ff 70.6%,#0086ff 70.9%,#0021ff 71.3%,#0000f3 71.7%,#0000f3 72.1%,#001bff 72.5%,#006fff 72.9%,#00d0ff 73.3%,#27ffd8 73.7%,#bdff42 74.5%,#f8ff07 74.9%,#ffc600 75.7%,#ffa400 76.5%,#ffa200 78.1%,#ffb500 83.2%,#ffe100 84.8%,#fff000 85.2%,#f6ff09 85.6%,#cfff30 86.0%,#69ff96 86.8%,#3dffc2 87.2%,#1effe1 87.5%,#07fff8 87.9%,#00deff 88.7%,#0071ff 91.1%,#0029ff 93.1%,#0024ff 93.5%,#003cff 94.7%,#08f 97.4%,#00e2ff 99.8%)"></i>
</div>
<div class="hm" style="left:46.7px;top:355.9px;width:253.0px;height:244.1px">
<i style="height:2.30px;background:linear-gradient(90deg,#00ff3e 0.2%,#03ff00 6.5%,#ff0 30.2%,#ff0002 50.8%,#fd00ff 68.6%,#0002ff 81.6%,#00f5ff 87.9%,#00fff8 88.3%,#00ff34 92.3%,#00ff2b 92.7%,#0f3 93.1%,#00ff6d 93.9%,#00fff6 95.5%,#00e7ff 95.8%,#0005ff 98.6%,#3b00ff 99.4%,#5300ff 99.8%)"></i>
<i style="height:2.30px;background:linear-gradient(90deg,#00ff41 0.2%,#01ff00 6.5%,#fffc00 30.6%,#f00 50.8%,#fe00ff 68.6%,#0001ff 81.6%,#00f4ff 87.9%,#00fff9 88.3%,#00ff39 92.3%,#00ff2c 92.7%,#00ff2e 93.1%,#00ff42 93.5%,#00ffe9 95.5%,#00f4ff 95.8%,#000dff 98.6%,#1400ff 99.0%,#3400ff 99.4%,#4b00ff 99.8%)"></i>
<i style="height:2.30px;background:linear-gradient(90deg,#00ff46 0.2%,#01ff00 6.9%,#fffe00 30.6%,#ff0003 51.2%,#ff00fe 68.6%,#00f 81.6%,#00fffb 88.3%,#00ff30 92.7%,#00ff2a 93.1%,#00ff35 93.5%,#00ff70 94.3%,#00fff5 95.8%,#00e7ff 96.2%,#001bff 98.6%,#0700ff 99.0%,#2700ff 99.4%,#3f00ff 99.8%)"></i>
<i style="height:2.30px;background:linear-gradient(90deg,#00ff4a 0.2%,#01ff00 7.3%,#fffd00 31.0%,#f00 51.2%,#ff00fc 68.6%,#0100ff 81.6%,#06f 84.4%,#00fffe 88.3%,#00ff37 92.7%,#00ff2b 93.1%,#00ff2c 93.5%,#00ff3f 93.9%,#00fbfd 96.2%,#0007ff 99.0%,#30f 99.8%)"></i>
<i style="height:2.30px;background:linear-gradient(90deg,#00ff4f 0.2%,#01ff00 7.7%,#ff0 31.0%,#ff0003 51.6%,#fd00ff 69.0%,#0200ff 81.6%,#0027ff 82.8%,#00feff 88.3%,#00ff2f 93.1%,#00ff29 93.5%,#0f3 93.9%,#00ff6a 94.7%,#00ffeb 96.2%,#00f0ff 96.6%,#0016ff 99.0%,#0c00ff 99.4%,#2500ff 99.8%)"></i>
<i style="height:2.30px;background:linear-gradient(90deg,#00ff54 0.2%,#01ff00 8.1%,#fffd00 31.4%,#ff0001 51.6%,#f0f 69.0%,#0300ff 81.6%,#0016ff 82.4%,#00fcff 88.3%,#00ff36 93.1%,#00ff2a 93.5%,#00ff2a 93.9%,#00ff3c 94.3%,#00fff7 96.6%,#00e3ff 97.0%,#0103ff 99.4%,#1800ff 99.8%)"></i>
<i style="height:2.30px;background:linear-gradient(90deg,#00ff59 0.2%,#01ff00 8.5%,#fffb00 31.8%,#ff0003 52.0%,#ff00fd 69.0%,#0400ff 81.6%,#0014ff 82.4%,#00faff 88.3%,#00ffd3 89.5%,#00ff2f 93.5%,#00ff28 93.9%,#00ff30 94.3%,#00ff65 95.1%,#00ffe2 96.6%,#00faff 97.0%,#0012ff 99.4%,#0900ff 99.8%)"></i>
<i style="height:2.30px;background:linear-gradient(90deg,#00ff5e 0.2%,#01ff00 8.9%,#fffe00 31.8%,#ff0001 52.0%,#fc00ff 69.4%,#0600ff 81.6%,#0005ff 82.0%,#00f8ff 88.3%,#00ffe6 89.1%,#00ff29 93.9%,#00ff29 94.3%,#00ff39 94.7%,#0fe 97.0%,#00edff 97.4%,#0023ff 99.4%,#0006ff 99.8%)"></i>
<i style="height:2.30px;background:linear-gradient(90deg,#00ff63 0.2%,#01ff00 9.3%,#fffc00 32.2%,#ff0004 52.4%,#fe00ff 69.4%,#0004ff 82.0%,#00f6ff 88.3%,#00fff8 88.7%,#00ff2e 93.9%,#00ff27 94.3%,#00ff2f 94.7%,#00ff61 95.5%,#00fefb 97.4%,#00b4ff 98.2%,#0036ff 99.4%,#0018ff 99.8%)"></i>
<i style="height:2.30px;background:linear-gradient(90deg,#00ff68 0.2%,#01ff00 9.7%,#fffe00 32.2%,#ff0001 52.4%,#ff00fe 69.4%,#0002ff 82.0%,#00f4ff 88.3%,#00fffa 88.7%,#00ff28 94.3%,#00ff28 94.7%,#00ff38 95.1%,#00ffea 97.4%,#00f1ff 97.8%,#004bff 99.4%,#002cff 99.8%)"></i>
<i style="height:2.30px;background:linear-gradient(90deg,#00ff6d 0.2%,#01ff00 10.1%,#fffd00 32.6%,#ff0004 52.8%,#ff00fc 69.4%,#0001ff 82.0%,#00fffc 88.7%,#00ff2d 94.3%,#00ff26 94.7%,#00ff2e 95.1%,#00ff61 95.8%,#00fffb 97.8%,#0df 98.2%,#0060ff 99.4%,#0041ff 99.8%)"></i>
<i style="height:2.30px;background:linear-gradient(90deg,#00ff73 0.2%,#01ff00 10.5%,#ff0 32.6%,#ff0001 52.8%,#fd00ff 69.8%,#00f 82.0%,#00fffe 88.7%,#00ff28 94.7%,#00ff28 95.1%,#00ff38 95.5%,#00ffea 97.8%,#00f1ff 98.2%,#0075ff 99.4%,#0056ff 99.8%)"></i>
<i style="height:2.30px;background:linear-gradient(90deg,#00ff78 0.2%,#01ff00 10.9%,#fffd00 33.0%,#ff0100 52.8%,#f0f 69.8%,#0100ff 82.0%,#0065ff 84.8%,#00feff 88.7%,#00ff2c 94.7%,#00ff26 95.1%,#00ff2e 95.5%,#00ff61 96.2%,#00fffb 98.2%,#0df 98.6%,#008aff 99.4%,#006cff 99.8%)"></i>
<i style="height:2.30px;background:linear-gradient(90deg,#00ff7e 0.2%,#01ff00 11.3%,#fffb00 33.4%,#ff0001 53.2%,#ff00fd 69.8%,#0200ff 82.0%,#0026ff 83.2%,#00fcff 88.7%,#00ff27 95.1%,#00ff27 95.5%,#00ff38 95.8%,#00ffea 98.2%,#00f1ff 98.6%,#00a0ff 99.4%,#0081ff 99.8%)"></i>
<i style="height:2.30px;background:linear-gradient(90deg,#00ff83 0.2%,#01ff00 11.7%,#fffe00 33.4%,#ff0100 53.2%,#fc00ff 70.2%,#0400ff 82.0%,#0016ff 82.8%,#00faff 88.7%,#00ffb1 91.1%,#00ff2b 95.1%,#00ff25 95.5%,#00ff2e 95.8%,#00ff61 96.6%,#00fffb 98.6%,#00b5ff 99.4%,#0097ff 99.8%)"></i>
<i style="height:2.30px;background:linear-gradient(90deg,#00ff89 0.2%,#01ff00 12.1%,#fffc00 33.8%,#ff0001 53.6%,#fe00ff 70.2%,#0500ff 82.0%,#0014ff 82.8%,#00f9ff 88.7%,#00ffea 89.5%,#00ff26 95.5%,#00ff27 95.8%,#00ff38 96.2%,#00ffea 98.6%,#00f1ff 99.0%,#00adff 99.8%)"></i>
<i style="height:2.30px;background:linear-gradient(90deg,#00ff8f 0.2%,#01ff00 12.5%,#fffe00 33.8%,#ff0100 53.6%,#ff00fe 70.2%,#0600ff 82.0%,#0005ff 82.4%,#00f7ff 88.7%,#00fff9 89.1%,#00ff2a 95.5%,#00ff25 95.8%,#00ff2e 96.2%,#00ff61 97.0%,#00fffb 99.0%,#00c2ff 99.8%)"></i>
<i style="height:2.30px;background:linear-gradient(90deg,#00ff94 0.2%,#01ff00 12.8%,#fffd00 34.2%,#ff0002 54.0%,#ff00fc 70.2%,#2100ff 80.8%,#0003ff 82.4%,#00f5ff 88.7%,#00fffb 89.1%,#00ff26 95.8%,#00ff27 96.2%,#00ff38 96.6%,#00ffe9 99.0%,#00f3ff 99.4%,#00d8ff 99.8%)"></i>
<i style="height:2.30px;background:linear-gradient(90deg,#00ff9a 0.2%,#01ff00 13.2%,#feff00 34.2%,#ff0100 54.0%,#fd00ff 70.6%,#0002ff 82.4%,#00fffd 89.1%,#00ff2a 95.8%,#00ff25 96.2%,#00ff2d 96.6%,#00ff60 97.4%,#00fff8 99.4%,#00edff 99.8%)"></i>
<i style="height:2.30px;background:linear-gradient(90deg,#00ffa1 0.2%,#01ff00 13.6%,#fffe00 34.6%,#ff0002 54.3%,#ff00fd 70.6%,#0100ff 82.4%,#00feff 89.1%,#00ff26 96.2%,#00ff26 96.6%,#00ff36 97.0%,#00ffe7 99.4%,#00fdfc 99.8%)"></i>
<i style="height:2.30px;background:linear-gradient(90deg,#00ffa7 0.2%,#01ff00 14.0%,#fffd00 35.0%,#ff0100 54.3%,#fd00ff 70.9%,#0300ff 82.4%,#0026ff 83.6%,#00fbff 89.1%,#00ff2a 96.2%,#00ff25 96.6%,#00ff2b 97.0%,#00ff5d 97.8%,#00ffd7 99.4%,#00ffed 99.8%)"></i>
<i style="height:2.30px;background:linear-gradient(90deg,#00ffad 0.2%,#01ff01 14.4%,#fffc00 35.4%,#ff0002 54.7%,#ff00fd 70.9%,#0500ff 82.4%,#0014ff 83.2%,#00f8ff 89.1%,#00ffec 89.9%,#00ff27 96.6%,#00ff25 97.0%,#0f3 97.4%,#00ffc8 99.4%,#00ffde 99.8%)"></i>
<i style="height:2.30px;background:linear-gradient(90deg,#00ffb4 0.2%,#01ff01 14.8%,#feff00 35.4%,#ff0100 54.7%,#fd00ff 71.3%,#0004ff 82.8%,#00f6ff 89.1%,#00fffb 89.5%,#00ff2b 96.6%,#00ff24 97.0%,#00ff29 97.4%,#00ff3d 97.8%,#00ffb8 99.4%,#00ffce 99.8%)"></i>
<i style="height:2.30px;background:linear-gradient(90deg,#00ffba 0.2%,#04ff00 15.6%,#fffe00 35.8%,#ff0002 55.1%,#ff00fd 71.3%,#0001ff 82.8%,#00fffe 89.5%,#00ff27 97.0%,#00ff25 97.4%,#00ff30 97.8%,#00ff68 98.6%,#00ffa7 99.4%,#00ffbe 99.8%)"></i>
<i style="height:2.30px;background:linear-gradient(90deg,#00ffc1 0.2%,#04ff00 16.0%,#fffd00 36.2%,#ff0100 55.1%,#fd00ff 71.7%,#0100ff 82.8%,#00feff 89.5%,#00ff25 97.4%,#00ff27 97.8%,#00ff3a 98.2%,#00ff96 99.4%,#00ffad 99.8%)"></i>
<i style="height:2.30px;background:linear-gradient(90deg,#00ffc7 0.2%,#03ff00 16.4%,#fffc00 36.6%,#ff0001 55.5%,#ff00fd 71.7%,#0300ff 82.8%,#0026ff 84.0%,#00fbff 89.5%,#00ff28 97.4%,#00ff24 97.8%,#00ff2e 98.2%,#00ff65 99.0%,#00ff9c 99.8%)"></i>
<i style="height:2.30px;background:linear-gradient(90deg,#00ffce 0.2%,#03ff00 16.8%,#feff00 36.6%,#ff0003 55.9%,#fd00ff 72.1%,#0600ff 82.8%,#0014ff 83.6%,#00f8ff 89.5%,#0fe 90.3%,#00ff25 97.8%,#00ff26 98.2%,#00ff36 98.6%,#00ff71 99.4%,#0f8 99.8%)"></i>
<i style="height:2.30px;background:linear-gradient(90deg,#00ffd5 0.2%,#03ff00 17.2%,#fffe00 37.0%,#ff0100 55.9%,#ff00fd 72.1%,#0003ff 83.2%,#00f5ff 89.5%,#00fffc 89.9%,#00ff29 97.8%,#00ff24 98.2%,#00ff2a 98.6%,#00ff74 99.8%)"></i>
<i style="height:2.30px;background:linear-gradient(90deg,#00ffdc 0.2%,#02ff00 17.6%,#fffd00 37.4%,#ff0002 56.3%,#fd00ff 72.5%,#0001ff 83.2%,#00fffe 89.9%,#00ff25 98.2%,#00ff25 98.6%,#0f3 99.0%,#00ff61 99.8%)"></i>
<i style="height:2.30px;background:linear-gradient(90deg,#00ffe3 0.2%,#02ff00 18.0%,#fffc00 37.7%,#ff0004 56.7%,#ff00fd 72.5%,#0200ff 83.2%,#00a4ff 87.5%,#00fdff 89.9%,#00ff28 98.2%,#00ff23 98.6%,#00ff29 99.0%,#00ff50 99.8%)"></i>
<i style="height:2.30px;background:linear-gradient(90deg,#00ffea 0.2%,#01ff00 18.4%,#feff00 37.7%,#ff0001 56.7%,#fd00ff 72.9%,#0400ff 83.2%,#0017ff 84.0%,#00fbff 89.9%,#00ff24 98.6%,#00ff24 99.0%,#00ff40 99.8%)"></i>
<i style="height:2.30px;background:linear-gradient(90deg,#00fff1 0.2%,#01ff00 18.8%,#fffe00 38.1%,#ff0002 57.1%,#ff00fd 72.9%,#0600ff 83.2%,#0006ff 83.6%,#00f8ff 89.9%,#00ffef 90.7%,#00ff28 98.6%,#0f2 99.0%,#00ff31 99.8%)"></i>
<i style="height:2.30px;background:linear-gradient(90deg,#00fff9 0.2%,#01ff00 19.2%,#fffd00 38.5%,#ff0100 57.1%,#fd00ff 73.3%,#0003ff 83.6%,#00f5ff 89.9%,#00fffc 90.3%,#00ff24 99.0%,#00ff26 99.8%)"></i>
<i style="height:2.30px;background:linear-gradient(90deg,#00fcff 0.2%,#01ff01 19.6%,#fffc00 38.9%,#ff0001 57.5%,#ff00fd 73.3%,#00f 83.6%,#00fffe 90.3%,#00ff20 99.4%,#00ff1e 99.8%)"></i>
<i style="height:2.30px;background:linear-gradient(90deg,#00efff 0.2%,#00fffa 1.4%,#01ff01 20.0%,#feff00 38.9%,#ff0003 57.9%,#fd00ff 73.7%,#0200ff 83.6%,#0075ff 86.8%,#00fdff 90.3%,#00ff1c 99.8%)"></i>
<i style="height:2.30px;background:linear-gradient(90deg,#00e2ff 0.2%,#00fffd 1.8%,#00ff01 20.4%,#fffe00 39.3%,#ff0100 57.9%,#ff00fd 73.7%,#0500ff 83.6%,#0016ff 84.4%,#00fbff 90.3%,#00ff98 94.7%,#00ff20 99.8%)"></i>
<i style="height:2.30px;background:linear-gradient(90deg,#00d4ff 0.2%,#00fefe 2.2%,#04ff00 21.1%,#fffd00 39.7%,#ff0001 58.3%,#fd00ff 74.1%,#0700ff 83.6%,#0005ff 84.0%,#00f8ff 90.3%,#00fff0 91.1%,#00ff25 99.8%)"></i>
<i style="height:2.30px;background:linear-gradient(90deg,#00c8ff 0.2%,#00fcff 2.6%,#04ff00 21.5%,#fffc00 40.1%,#ff0002 58.7%,#ff00fd 74.1%,#0002ff 84.0%,#00f5ff 90.3%,#00fffd 90.7%,#00ff29 99.8%)"></i>
<i style="height:2.30px;background:linear-gradient(90deg,#0bf 0.2%,#00fefd 3.4%,#02ff00 21.9%,#fffd00 40.5%,#ff0003 59.1%,#fd00ff 74.5%,#0200ff 84.0%,#00feff 90.7%,#00ff2b 99.8%)"></i>
<i style="height:2.30px;background:linear-gradient(90deg,#00afff 0.2%,#00fdff 3.8%,#01ff00 22.3%,#fffd00 40.9%,#ff0200 59.1%,#ff00fc 74.5%,#db00ff 76.1%,#0600ff 84.0%,#0006ff 84.4%,#00faff 90.7%,#00ffd2 92.7%,#00ff2d 99.8%)"></i>
<i style="height:2.30px;background:linear-gradient(90deg,#00a3ff 0.2%,#00fffd 4.5%,#01ff01 22.7%,#fffe00 41.3%,#ff0100 59.5%,#fe00fe 74.9%,#0001ff 84.4%,#00f6ff 90.7%,#00fffc 91.1%,#00ff2f 99.8%)"></i>
<i style="height:2.30px;background:linear-gradient(90deg,#0098ff 0.2%,#00fdfe 4.9%,#03ff00 23.5%,#fefe00 41.7%,#ff0001 59.9%,#fc00ff 75.3%,#0300ff 84.4%,#0038ff 86.0%,#00feff 91.1%,#00ff31 99.8%)"></i>
<i style="height:2.30px;background:linear-gradient(90deg,#008dff 0.2%,#00fbff 5.3%,#02ff00 23.9%,#feff00 42.1%,#ff0002 60.3%,#ff00fd 75.3%,#1300ff 84.0%,#0005ff 84.8%,#00faff 91.1%,#00ffd1 93.1%,#00ff34 99.8%)"></i>
<i style="height:2.30px;background:linear-gradient(90deg,#0082ff 0.2%,#00fefd 6.1%,#01ff01 24.3%,#fffb00 42.9%,#ff0003 60.7%,#fd00ff 75.7%,#0100ff 84.8%,#00f6ff 91.1%,#00fffc 91.5%,#00ff36 99.8%)"></i>
<i style="height:2.30px;background:linear-gradient(90deg,#07f 0.2%,#00fdff 6.5%,#04ff00 25.1%,#fffc00 43.3%,#ff0200 60.7%,#ff00fc 75.7%,#e500ff 76.9%,#0500ff 84.8%,#0017ff 85.6%,#00feff 91.5%,#00ff38 99.8%)"></i>
<i style="height:2.30px;background:linear-gradient(90deg,#006dff 0.2%,#00fffd 7.3%,#03ff00 25.5%,#fffd00 43.7%,#ff0100 61.1%,#fe00fe 76.1%,#0003ff 85.2%,#00faff 91.5%,#00ffc7 93.9%,#00ff3a 99.8%)"></i>
<i style="height:2.30px;background:linear-gradient(90deg,#0063ff 0.2%,#00fdfe 7.7%,#01ff00 25.9%,#fffd00 44.1%,#ff0101 61.5%,#fc00ff 76.5%,#0200ff 85.2%,#00f6ff 91.5%,#00fffc 91.9%,#00ff3c 99.8%)"></i>
<i style="height:2.30px;background:linear-gradient(90deg,#0059ff 0.2%,#00fcff 8.1%,#01ff01 26.3%,#fffe00 44.5%,#ff0001 61.9%,#ff00fd 76.5%,#8600ff 80.8%,#0700ff 85.2%,#0007ff 85.6%,#00feff 91.9%,#00ff3e 99.8%)"></i>
<i style="height:2.30px;background:linear-gradient(90deg,#0050ff 0.2%,#00fffd 8.9%,#04ff00 27.1%,#fefe00 44.9%,#ff0002 62.3%,#fd00ff 76.9%,#0001ff 85.6%,#00faff 91.9%,#00ffbc 94.7%,#00ff41 99.8%)"></i>
<i style="height:2.30px;background:linear-gradient(90deg,#0047ff 0.2%,#00fefe 9.3%,#03ff00 27.5%,#feff00 45.3%,#ff0002 62.6%,#ff00fb 76.9%,#e300ff 78.1%,#0400ff 85.6%,#0039ff 87.2%,#00f6ff 91.9%,#00fffb 92.3%,#00ff43 99.8%)"></i>
<i style="height:2.30px;background:linear-gradient(90deg,#003fff 0.2%,#00fdff 9.7%,#02ff00 27.9%,#fffb00 46.0%,#ff0003 63.0%,#fe00fe 77.3%,#0900ff 85.6%,#0005ff 86.0%,#00feff 92.3%,#00ff45 99.8%)"></i>
<i style="height:2.30px;background:linear-gradient(90deg,#0036ff 0.2%,#00fffc 10.5%,#01ff01 28.3%,#fffc00 46.4%,#ff0004 63.4%,#fc00ff 77.7%,#0100ff 86.0%,#00fbff 92.3%,#00ffa7 95.8%,#00ff48 99.8%)"></i>
<i style="height:2.30px;background:linear-gradient(90deg,#002dff 0.2%,#00fefd 10.9%,#00ff01 28.7%,#fffd00 46.8%,#ff0200 63.4%,#ff00fd 77.7%,#b000ff 80.4%,#0500ff 86.0%,#0018ff 86.8%,#00f6ff 92.3%,#00fffb 92.7%,#00ff4a 99.8%)"></i>
<i style="height:2.30px;background:linear-gradient(90deg,#0025ff 0.2%,#00fefe 11.3%,#04ff00 29.4%,#fffd00 47.2%,#ff0100 63.8%,#fe00ff 78.1%,#0003ff 86.4%,#00feff 92.7%,#00ff4c 99.8%)"></i>
<i style="height:2.30px;background:linear-gradient(90deg,#001dff 0.2%,#00fcff 11.7%,#02ff00 29.8%,#fefe00 47.6%,#ff0101 64.2%,#ff00fb 78.1%,#e0f 78.9%,#0200ff 86.4%,#00fbff 92.7%,#0f8 97.4%,#00ff4f 99.8%)"></i>
<i style="height:2.30px;background:linear-gradient(90deg,#0015ff 0.2%,#00fffd 12.5%,#01ff00 30.2%,#fefe00 48.0%,#ff0001 64.6%,#ff00fe 78.5%,#0700ff 86.4%,#0007ff 86.8%,#00f6ff 92.7%,#00fffb 93.1%,#00ff51 99.8%)"></i>
<i style="height:2.30px;background:linear-gradient(90deg,#000dff 0.2%,#00fefe 12.8%,#01ff01 30.6%,#feff00 48.4%,#ff0003 65.0%,#fc00ff 78.9%,#0001ff 86.8%,#00fffe 93.1%,#00ff54 99.8%)"></i>
<i style="height:2.30px;background:linear-gradient(90deg,#0005ff 0.2%,#00fdff 13.2%,#00ff01 31.0%,#fffb00 49.2%,#ff0004 65.4%,#ff00fd 78.9%,#c500ff 80.8%,#0400ff 86.8%,#003bff 88.3%,#00fbff 93.1%,#00ff56 99.8%)"></i>
<i style="height:2.30px;background:linear-gradient(90deg,#0300ff 0.2%,#0019ff 1.8%,#00fcff 13.6%,#03ff00 31.8%,#fffc00 49.6%,#ff0200 65.4%,#fe00ff 79.2%,#0900ff 86.8%,#0005ff 87.2%,#00f6ff 93.1%,#00fffb 93.5%,#00ff59 99.8%)"></i>
<i style="height:2.30px;background:linear-gradient(90deg,#0b00ff 0.2%,#0002ff 1.0%,#00fffd 14.4%,#02ff00 32.2%,#fffd00 50.0%,#ff0101 65.8%,#ff00fb 79.2%,#e0f 80.0%,#0100ff 87.2%,#00fffe 93.5%,#00ff5b 99.8%)"></i>
<i style="height:2.30px;background:linear-gradient(90deg,#1200ff 0.2%,#0002ff 1.4%,#00fefe 14.8%,#01ff00 32.6%,#fffe00 50.4%,#ff0001 66.2%,#ff00fe 79.6%,#0600ff 87.2%,#0019ff 87.9%,#00fbff 93.5%,#00ff5e 99.8%)"></i>
<i style="height:2.30px;background:linear-gradient(90deg,#1900ff 0.2%,#0002ff 1.8%,#00fdff 15.2%,#01ff01 33.0%,#fefe00 50.8%,#ff0002 66.6%,#fc00ff 80.0%,#0002ff 87.5%,#00f6ff 93.5%,#00fffb 93.9%,#00ff60 99.8%)"></i>
<i style="height:2.30px;background:linear-gradient(90deg,#2000ff 0.2%,#0003ff 2.2%,#00fffc 16.0%,#00ff01 33.4%,#fefe00 51.2%,#ff0002 67.0%,#ff00fb 80.0%,#ec00ff 80.8%,#0500ff 87.5%,#001aff 88.3%,#00feff 93.9%,#00ff64 99.8%)"></i>
<i style="height:2.30px;background:linear-gradient(90deg,#2700ff 0.2%,#0003ff 2.6%,#00fffd 16.4%,#04ff00 34.2%,#fefe00 51.6%,#ff0002 67.4%,#ff00fe 80.4%,#6d00ff 84.8%,#0002ff 87.9%,#00f9ff 93.9%,#00ffed 94.7%,#00ff67 99.8%)"></i>
<i style="height:2.30px;background:linear-gradient(90deg,#2e00ff 0.2%,#0004ff 3.0%,#00fefe 16.8%,#03ff00 34.6%,#fefe00 52.0%,#ff0002 67.8%,#fd00ff 80.8%,#0600ff 87.9%,#001aff 88.7%,#00f3ff 93.9%,#00fffd 94.3%,#00ff6b 99.8%)"></i>
<i style="height:2.30px;background:linear-gradient(90deg,#3400ff 0.2%,#0300ff 3.0%,#00fdff 17.2%,#02ff00 35.0%,#fefe00 52.4%,#ff0002 68.2%,#ff00fa 80.8%,#ed00ff 81.6%,#0102ff 88.3%,#00fcff 94.3%,#00ff6f 99.8%)"></i>
<i style="height:2.30px;background:linear-gradient(90deg,#3b00ff 0.2%,#0200ff 3.4%,#00fffd 18.0%,#01ff00 35.4%,#feff00 52.8%,#ff0002 68.6%,#ff00fd 81.2%,#bf00ff 83.2%,#0700ff 88.3%,#0008ff 88.7%,#00f6ff 94.3%,#00fffb 94.7%,#00ff72 99.8%)"></i>
<i style="height:2.30px;background:linear-gradient(90deg,#4200ff 0.2%,#0100ff 3.8%,#00fefe 18.4%,#01ff01 35.8%,#feff00 53.2%,#ff0002 69.0%,#fe00fe 81.6%,#0101ff 88.7%,#00feff 94.7%,#00ff76 99.8%)"></i>
<i style="height:2.30px;background:linear-gradient(90deg,#4800ff 0.2%,#0101ff 4.2%,#00fdff 18.8%,#00ff01 36.2%,#feff00 53.6%,#ff0002 69.4%,#fb00ff 82.0%,#0800ff 88.7%,#0008ff 89.1%,#00f8ff 94.7%,#00ffec 95.5%,#00ff7a 99.8%)"></i>
<i style="height:2.30px;background:linear-gradient(90deg,#4f00ff 0.2%,#0101ff 4.5%,#00fffc 19.6%,#04ff00 37.0%,#feff00 54.0%,#ff0002 69.8%,#ff00fc 82.0%,#ea00ff 82.8%,#0201ff 89.1%,#00f2ff 94.7%,#00fffd 95.1%,#00ff7d 99.8%)"></i>
<i style="height:2.30px;background:linear-gradient(90deg,#5600ff 0.2%,#0001ff 4.9%,#00fffd 20.0%,#03ff00 37.4%,#fdff00 54.3%,#ff0002 70.2%,#fe00fe 82.4%,#6200ff 86.8%,#0900ff 89.1%,#0007ff 89.5%,#00fbff 95.1%,#00ff81 99.8%)"></i>
<i style="height:2.30px;background:linear-gradient(90deg,#5d00ff 0.2%,#0002ff 5.3%,#00fefe 20.4%,#02ff00 37.7%,#fdff00 54.7%,#ff0002 70.6%,#fc00ff 82.8%,#0200ff 89.5%,#00f5ff 95.1%,#00fffb 95.5%,#00ff85 99.8%)"></i>
<i style="height:2.30px;background:linear-gradient(90deg,#6500ff 0.2%,#0101ff 5.7%,#00fdff 20.8%,#01ff00 38.1%,#fdff00 55.1%,#ff0002 70.9%,#ff00fa 82.8%,#eb00ff 83.6%,#0a00ff 89.5%,#0006ff 89.9%,#00feff 95.5%,#00ff89 99.8%)"></i>
<i style="height:2.30px;background:linear-gradient(90deg,#6d00ff 0.2%,#0201ff 6.1%,#00fffd 21.5%,#01ff01 38.5%,#fffb00 55.9%,#ff0002 71.3%,#ff00fd 83.2%,#ba00ff 85.2%,#0300ff 89.9%,#00f8ff 95.5%,#00ffec 96.2%,#00ff8d 99.8%)"></i>
<i style="height:2.30px;background:linear-gradient(90deg,#7500ff 0.2%,#0200ff 6.5%,#00fefe 21.9%,#00ff01 38.9%,#fffb00 56.3%,#ff0002 71.7%,#fd00ff 83.6%,#0c00ff 89.9%,#0005ff 90.3%,#00f2ff 95.5%,#00fffd 95.8%,#00ff91 99.8%)"></i>
<i style="height:2.30px;background:linear-gradient(90deg,#7c00ff 0.2%,#0003ff 7.3%,#00fdff 22.3%,#04ff00 39.7%,#fffc00 56.7%,#ff0002 72.1%,#ff00f9 83.6%,#fa00ff 84.0%,#0400ff 90.3%,#04f 91.9%,#00fbff 95.8%,#00ff95 99.8%)"></i>
<i style="height:2.30px;background:linear-gradient(90deg,#8400ff 0.2%,#0002ff 7.7%,#00fffc 23.1%,#03ff00 40.1%,#fffc00 57.1%,#ff0002 72.5%,#ff00fc 84.0%,#d800ff 85.2%,#0004ff 90.7%,#00f5ff 95.8%,#00fffa 96.2%,#0f9 99.8%)"></i>
<i style="height:2.30px;background:linear-gradient(90deg,#8b00ff 0.2%,#0101ff 8.1%,#00fffd 23.5%,#02ff00 40.5%,#fffc00 57.5%,#ff0002 72.9%,#fe00fe 84.4%,#4500ff 89.1%,#0500ff 90.7%,#001fff 91.5%,#00feff 96.2%,#00ff9d 99.8%)"></i>
<i style="height:2.30px;background:linear-gradient(90deg,#9200ff 0.2%,#0101ff 8.5%,#00fefe 23.9%,#01ff00 40.9%,#fffc00 57.9%,#ff0003 73.3%,#fb00ff 84.8%,#0003ff 91.1%,#00f8ff 96.2%,#00ffec 97.0%,#00ffa1 99.8%)"></i>
<i style="height:2.30px;background:linear-gradient(90deg,#9a00ff 0.2%,#0200ff 8.9%,#00fdff 24.3%,#01ff01 41.3%,#fffc00 58.3%,#ff0004 73.7%,#ff00fb 84.8%,#e900ff 85.6%,#0600ff 91.1%,#001eff 91.9%,#00f1ff 96.2%,#00fffd 96.6%,#00ffa5 99.8%)"></i>
<i style="height:2.30px;background:linear-gradient(90deg,#a100ff 0.2%,#0003ff 9.7%,#00fffd 25.1%,#00ff01 41.7%,#fffd00 58.7%,#ff0300 73.7%,#ff00f3 84.8%,#ff00fd 85.2%,#b300ff 87.2%,#0002ff 91.5%,#00fbff 96.6%,#00ffa9 99.8%)"></i>
<i style="height:2.30px;background:linear-gradient(90deg,#a700ff 0.2%,#0003ff 10.1%,#00fffe 25.5%,#00ff01 42.1%,#fffc00 59.1%,#ff0200 74.1%,#fd00ff 85.6%,#0800ff 91.5%,#000aff 91.9%,#00f4ff 96.6%,#00fffb 97.0%,#00ffae 99.8%)"></i>
<i style="height:2.30px;background:linear-gradient(90deg,#ad00ff 0.2%,#0003ff 10.5%,#00fffe 25.9%,#00ff01 42.5%,#fffb00 59.5%,#ff0100 74.5%,#ff00f9 85.6%,#f900ff 86.0%,#0201ff 91.9%,#00fdff 97.0%,#00ffb3 99.8%)"></i>
<i style="height:2.30px;background:linear-gradient(90deg,#b400ff 0.2%,#0300ff 10.5%,#00fffe 26.3%,#01ff01 42.9%,#fdff00 59.5%,#ff0101 74.9%,#ff00fc 86.0%,#d500ff 87.2%,#0c00ff 91.9%,#0006ff 92.3%,#00f5ff 97.0%,#00fffa 97.4%,#00ffb8 99.8%)"></i>
<i style="height:2.30px;background:linear-gradient(90deg,#ba00ff 0.2%,#0200ff 10.9%,#00fffe 26.7%,#01ff01 43.3%,#feff00 59.9%,#ff0002 75.3%,#fe00fe 86.4%,#5b00ff 90.3%,#0500ff 92.3%,#0021ff 93.1%,#00fdff 97.4%,#00ffbd 99.8%)"></i>
<i style="height:2.30px;background:linear-gradient(90deg,#c000ff 0.2%,#0100ff 11.3%,#00fffe 27.1%,#01ff00 43.7%,#fefe00 60.3%,#ff0003 75.7%,#ff00f7 86.4%,#fb00ff 86.8%,#0102ff 92.7%,#00f6ff 97.4%,#00fff9 97.8%,#00ffc2 99.8%)"></i>
<i style="height:2.30px;background:linear-gradient(90deg,#c600ff 0.2%,#0100ff 11.7%,#00fffe 27.5%,#01ff00 44.1%,#fffe00 60.7%,#ff0300 75.7%,#ff0056 79.6%,#ff00fa 86.8%,#e800ff 87.5%,#0a00ff 92.7%,#0009ff 93.1%,#00edff 97.4%,#00fefe 97.8%,#00ffc7 99.8%)"></i>
<i style="height:2.30px;background:linear-gradient(90deg,#c0f 0.2%,#0101ff 12.1%,#00fffe 27.9%,#01ff00 44.5%,#fffd00 61.1%,#ff0200 76.1%,#ff00fd 87.2%,#b000ff 89.1%,#0300ff 93.1%,#00f7ff 97.8%,#00fff8 98.2%,#0fc 99.8%)"></i>
<i style="height:2.30px;background:linear-gradient(90deg,#d200ff 0.2%,#0001ff 12.5%,#00fffe 28.3%,#02ff00 44.9%,#fffc00 61.5%,#ff0101 76.5%,#fd00ff 87.5%,#0e00ff 93.1%,#0005ff 93.5%,#0ef 97.8%,#00fefe 98.2%,#00ffd1 99.8%)"></i>
<i style="height:2.30px;background:linear-gradient(90deg,#d900ff 0.2%,#0001ff 12.8%,#00fffe 28.7%,#02ff00 45.3%,#fffb00 61.9%,#ff0002 76.9%,#ff00f9 87.5%,#f900ff 87.9%,#0700ff 93.5%,#000dff 93.9%,#00f8ff 98.2%,#00ffea 99.0%,#00ffd7 99.8%)"></i>
<i style="height:2.30px;background:linear-gradient(90deg,#df00ff 0.2%,#0002ff 13.2%,#00fffe 29.1%,#03ff00 45.7%,#fdff00 61.9%,#ff0003 77.3%,#ff00fc 87.9%,#e500ff 88.7%,#0102ff 93.9%,#00efff 98.2%,#00fffd 98.6%,#00ffdc 99.8%)"></i>
<i style="height:2.30px;background:linear-gradient(90deg,#e500ff 0.2%,#0002ff 13.6%,#00fffe 29.4%,#03ff00 46.0%,#feff00 62.3%,#ff0300 77.3%,#ff00d8 86.8%,#fe00fe 88.3%,#80f 91.1%,#0b00ff 93.9%,#0009ff 94.3%,#00f9ff 98.6%,#00ffe1 99.8%)"></i>
<i style="height:2.30px;background:linear-gradient(90deg,#eb00ff 0.2%,#0002ff 14.0%,#00fffe 29.8%,#04ff00 46.4%,#fefe00 62.6%,#ff0100 77.7%,#ff00f7 88.3%,#fb00ff 88.7%,#0400ff 94.3%,#003dff 95.5%,#00f0ff 98.6%,#00fffc 99.0%,#00ffe7 99.8%)"></i>
<i style="height:2.30px;background:linear-gradient(90deg,#f100ff 0.2%,#0002ff 14.4%,#00fffe 30.2%,#00ff02 46.4%,#fffe00 63.0%,#ff0001 78.1%,#ff00fa 88.7%,#e700ff 89.5%,#0004ff 94.7%,#00faff 99.0%,#00ffec 99.8%)"></i>
<i style="height:2.30px;background:linear-gradient(90deg,#f700ff 0.2%,#0002ff 14.8%,#00fffe 30.6%,#00ff02 46.8%,#fffd00 63.4%,#ff0003 78.5%,#ff00fd 89.1%,#be00ff 90.7%,#0800ff 94.7%,#000cff 95.1%,#00f1ff 99.0%,#00fffc 99.4%,#00fff2 99.8%)"></i>
<i style="height:2.30px;background:linear-gradient(90deg,#fe00ff 0.2%,#0002ff 15.2%,#00fffd 31.0%,#00ff01 47.2%,#fffc00 63.8%,#ff0300 78.5%,#ff0086 84.4%,#fd00ff 89.5%,#0201ff 95.1%,#00fbff 99.4%,#00fff8 99.8%)"></i>
<i style="height:2.30px;background:linear-gradient(90deg,#ff00f8 0.2%,#f100ff 1.4%,#0002ff 15.6%,#00fffd 31.4%,#00ff01 47.6%,#fffb00 64.2%,#ff0100 78.9%,#ff00f9 89.5%,#f900ff 89.9%,#0d00ff 95.1%,#0008ff 95.5%,#00f2ff 99.4%,#00fefe 99.8%)"></i>
<i style="height:2.30px;background:linear-gradient(90deg,#ff00f0 0.2%,#fe00fe 1.0%,#0002ff 16.0%,#00fffd 31.8%,#01ff01 48.0%,#fdff00 64.2%,#ff0002 79.2%,#ff00fc 89.9%,#e400ff 90.7%,#0500ff 95.5%,#0028ff 96.2%,#00e8ff 99.4%,#00f8ff 99.8%)"></i>
<i style="height:2.30px;background:linear-gradient(90deg,#ff00e7 0.2%,#fe00fe 1.4%,#0002ff 16.4%,#00fffd 32.2%,#01ff01 48.4%,#feff00 64.6%,#ff0004 79.6%,#fe00fe 90.3%,#9400ff 92.7%,#0003ff 95.8%,#0df 99.4%,#0ef 99.8%)"></i>
<i style="height:2.30px;background:linear-gradient(90deg,#ff00df 0.2%,#fd00ff 1.8%,#0002ff 16.8%,#00fffd 32.6%,#01ff00 48.8%,#fefe00 65.0%,#ff0200 79.6%,#ff00f7 90.3%,#fb00ff 90.7%,#0a00ff 95.8%,#000cff 96.2%,#00d1ff 99.4%,#00e3ff 99.8%)"></i>
<i style="height:2.30px;background:linear-gradient(90deg,#ff00d7 0.2%,#fd00ff 2.2%,#0002ff 17.2%,#00fffd 33.0%,#01ff00 49.2%,#fffe00 65.4%,#ff0001 80.0%,#ff00fb 90.7%,#e500ff 91.5%,#0201ff 96.2%,#00c5ff 99.4%,#00d7ff 99.8%)"></i>
<i style="height:2.30px;background:linear-gradient(90deg,#ff00cf 0.2%,#fc00ff 2.6%,#0002ff 17.6%,#00fffd 33.4%,#03ff00 49.6%,#fffb00 65.8%,#ff0004 80.4%,#fe00fe 91.1%,#9200ff 93.5%,#0c00ff 96.2%,#000aff 96.6%,#00b9ff 99.4%,#00cbff 99.8%)"></i>
<i style="height:2.30px;background:linear-gradient(90deg,#ff00c8 0.2%,#ff00fb 2.6%,#0002ff 18.0%,#00fffc 33.8%,#00ff02 49.6%,#feff00 65.8%,#ff0100 80.4%,#ff00f9 91.1%,#f800ff 91.5%,#0101ff 96.6%,#00adff 99.4%,#00bfff 99.8%)"></i>
<i style="height:2.30px;background:linear-gradient(90deg,#ff00c0 0.2%,#ff00fc 3.0%,#0002ff 18.4%,#00fffc 34.2%,#00ff01 50.0%,#fffc00 66.2%,#ff0002 80.8%,#fe00fe 91.5%,#a500ff 93.5%,#0900ff 96.6%,#000dff 97.0%,#00a2ff 99.4%,#00b3ff 99.8%)"></i>
<i style="height:2.30px;background:linear-gradient(90deg,#ff00b9 0.2%,#ff00fd 3.4%,#0002ff 18.8%,#00fffb 34.6%,#01ff00 50.4%,#feff00 66.2%,#ff0200 80.8%,#ff00f8 91.5%,#f900ff 91.9%,#0003ff 97.0%,#0096ff 99.4%,#00a8ff 99.8%)"></i>
<i style="height:2.30px;background:linear-gradient(90deg,#ff00b2 0.2%,#ff00fe 3.8%,#0002ff 19.2%,#00fdff 34.6%,#03ff00 50.8%,#fffd00 66.6%,#ff0001 81.2%,#ff00fe 91.9%,#c0f 93.1%,#0700ff 97.0%,#0010ff 97.4%,#008bff 99.4%,#009cff 99.8%)"></i>
<i style="height:2.30px;background:linear-gradient(90deg,#ff00ab 0.2%,#fe00fe 4.2%,#0002ff 19.6%,#00feff 35.0%,#00ff02 50.8%,#fdff00 66.6%,#ff0300 81.2%,#ff006b 86.0%,#ff00f7 91.9%,#fa00ff 92.3%,#1000ff 97.0%,#0005ff 97.4%,#007fff 99.4%,#0091ff 99.8%)"></i>
<i style="height:2.30px;background:linear-gradient(90deg,#ff00a4 0.2%,#fe00ff 4.5%,#0002ff 20.0%,#00feff 35.4%,#01ff01 51.2%,#fffe00 67.0%,#ff0001 81.6%,#ff00fd 92.3%,#cd00ff 93.5%,#0400ff 97.4%,#002bff 98.2%,#0074ff 99.4%,#0086ff 99.8%)"></i>
<i style="height:2.30px;background:linear-gradient(90deg,#ff009d 0.2%,#fd00ff 4.9%,#0002ff 20.4%,#00fefe 35.8%,#02ff00 51.6%,#fffb00 67.4%,#ff0300 81.6%,#ff0074 86.8%,#ff00f7 92.3%,#fb00ff 92.7%,#0e00ff 97.4%,#0008ff 97.8%,#0069ff 99.4%,#007aff 99.8%)"></i>
<i style="height:2.30px;background:linear-gradient(90deg,#ff0097 0.2%,#fd00ff 5.3%,#0002ff 20.8%,#00fefe 36.2%,#03ff00 52.0%,#feff00 67.4%,#ff0001 82.0%,#ff00fc 92.7%,#e100ff 93.5%,#0200ff 97.8%,#005eff 99.4%,#006fff 99.8%)"></i>
<i style="height:2.30px;background:linear-gradient(90deg,#ff0090 0.2%,#fc00ff 5.7%,#0002ff 21.1%,#00fffe 36.6%,#00ff01 52.0%,#fffc00 67.8%,#ff0200 82.0%,#fb00ff 93.1%,#2100ff 97.4%,#0c00ff 97.8%,#000bff 98.2%,#0052ff 99.4%,#0064ff 99.8%)"></i>
<i style="height:2.30px;background:linear-gradient(90deg,#ff0089 0.2%,#fc00ff 6.1%,#0003ff 21.5%,#00fffd 37.0%,#01ff01 52.4%,#feff00 67.8%,#ff0003 82.4%,#ff00fc 93.1%,#e200ff 93.9%,#0102ff 98.2%,#0047ff 99.4%,#0059ff 99.8%)"></i>
<i style="height:2.30px;background:linear-gradient(90deg,#ff0082 0.2%,#fd00ff 6.5%,#0003ff 21.9%,#00fffd 37.4%,#02ff00 52.8%,#fffd00 68.2%,#ff0100 82.4%,#fc00ff 93.5%,#7100ff 96.2%,#0900ff 98.2%,#000dff 98.6%,#003cff 99.4%,#004eff 99.8%)"></i>
<i style="height:2.30px;background:linear-gradient(90deg,#ff007b 0.2%,#fd00ff 6.9%,#0004ff 22.3%,#00fffc 37.7%,#04ff00 53.2%,#fdff00 68.2%,#ff0004 82.8%,#ff00fb 93.5%,#f500ff 93.9%,#0003ff 98.6%,#0043ff 99.8%)"></i>
<i style="height:2.30px;background:linear-gradient(90deg,#ff0074 0.2%,#fe00fe 7.3%,#0200ff 22.3%,#00fffc 38.1%,#00ff01 53.2%,#fffe00 68.6%,#ff0001 82.8%,#fd00ff 93.9%,#8600ff 96.2%,#0700ff 98.6%,#0027ff 99.4%,#0038ff 99.8%)"></i>
<i style="height:2.30px;background:linear-gradient(90deg,#ff006e 0.2%,#fe00fe 7.7%,#0200ff 22.7%,#00fffb 38.5%,#01ff00 53.6%,#fffb00 69.0%,#ff0200 82.8%,#ff00fa 93.9%,#f600ff 94.3%,#10f 98.6%,#0006ff 99.0%,#002dff 99.8%)"></i>
<i style="height:2.30px;background:linear-gradient(90deg,#ff0068 0.2%,#fe00fe 8.1%,#0100ff 23.1%,#00fdff 38.5%,#02ff00 54.0%,#fffe00 69.0%,#ff0003 83.2%,#fe00ff 94.3%,#b000ff 95.8%,#0400ff 99.0%,#02f 99.8%)"></i>
<i style="height:2.30px;background:linear-gradient(90deg,#ff0061 0.2%,#ff00fe 8.5%,#0100ff 23.5%,#00feff 38.9%,#04ff00 54.3%,#fffc00 69.4%,#f00 83.2%,#ff00f9 94.3%,#f700ff 94.7%,#0e00ff 99.0%,#0007ff 99.4%,#0017ff 99.8%)"></i>
<i style="height:2.30px;background:linear-gradient(90deg,#ff005c 0.2%,#ff00fd 8.9%,#0101ff 23.9%,#00feff 39.3%,#00ff01 54.3%,#feff00 69.4%,#ff0300 83.2%,#fe00fe 94.7%,#c600ff 95.8%,#0300ff 99.4%,#000dff 99.8%)"></i>
<i style="height:2.30px;background:linear-gradient(90deg,#ff0056 0.2%,#ff00fd 9.3%,#0101ff 24.3%,#00fefe 39.7%,#01ff00 54.7%,#fffd00 69.8%,#ff0002 83.6%,#ff00f9 94.7%,#f800ff 95.1%,#0d00ff 99.4%,#0003ff 99.8%)"></i>
<i style="height:2.30px;background:linear-gradient(90deg,#ff0050 0.2%,#ff00fc 9.7%,#0001ff 24.7%,#00fefe 40.1%,#03ff00 55.1%,#fdff00 69.8%,#ff0100 83.6%,#fe00fe 95.1%,#dc00ff 95.8%,#1700ff 99.4%,#0800ff 99.8%)"></i>
<i style="height:2.30px;background:linear-gradient(90deg,#ff004b 0.2%,#fb00ff 10.5%,#0002ff 25.1%,#00fffe 40.5%,#00ff02 55.1%,#fffe00 70.2%,#ff0300 83.6%,#f0e 94.7%,#f900ff 95.5%,#2100ff 99.4%,#1200ff 99.8%)"></i>
<i style="height:0.40px;background:linear-gradient(90deg,#ff0048 0.2%,#ff00fe 10.5%,#0200ff 25.1%,#00fdff 40.5%,#01ff00 55.5%,#feff00 70.2%,#ff0003 84.0%,#fd00ff 95.5%,#ac00ff 97.0%,#2700ff 99.4%,#1700ff 99.8%)"></i>
</div>
<div class="hm" style="left:371.2px;top:355.9px;width:253.2px;height:244.1px">
<i style="height:2.30px;background:linear-gradient(90deg,#ff004f 0.2%,#fe00ff 7.3%,#00f 19.6%,#00fcff 32.6%,#00ff75 42.1%,#01ff00 50.0%,#f9ff00 59.9%,#fffb00 60.3%,#ff6a00 65.4%,#ff0e00 68.2%,#ff0007 68.6%,#ff0035 69.0%,#ff00a7 69.8%,#ff00e8 70.2%,#b700ff 70.6%,#3700ff 70.9%,#0060ff 71.3%,#00fffd 71.7%,#00ff65 72.1%,#04ff00 72.5%,#3dff00 72.9%,#6cff00 73.3%,#eaff00 74.1%,#fff600 74.5%,#ff7500 77.7%,#ff0500 81.2%,#ff000f 82.0%,#f08 87.2%,#ff00fc 93.5%,#de00ff 95.1%,#7000ff 99.8%)"></i>
<i style="height:2.30px;background:linear-gradient(90deg,#ff004c 0.2%,#ff00fe 7.3%,#0200ff 19.6%,#00fbff 32.6%,#00ffdf 35.0%,#0f0 50.0%,#f8ff00 59.9%,#fffb00 60.3%,#f70 65.0%,#ff0b00 68.2%,#ff000d 68.6%,#ff003b 69.0%,#ff00a9 69.8%,#ff00e8 70.2%,#ba00ff 70.6%,#3900ff 70.9%,#005eff 71.3%,#00fffd 71.7%,#00ff65 72.1%,#04ff00 72.5%,#3cff00 72.9%,#6aff00 73.3%,#e6ff00 74.1%,#fff700 74.5%,#ff7600 77.7%,#ff0400 81.2%,#ff0019 82.4%,#ff0087 87.2%,#ff00fb 93.5%,#f200ff 94.3%,#7100ff 99.8%)"></i>
<i style="height:2.30px;background:linear-gradient(90deg,#ff0046 0.2%,#fe00fe 7.7%,#0002ff 20.0%,#00fffd 33.0%,#00ff02 50.0%,#24ff00 51.6%,#fffd00 60.3%,#ff7900 65.0%,#ff1600 67.8%,#ff0400 68.2%,#ff001c 68.6%,#ff007c 69.4%,#ff00af 69.8%,#ff00e9 70.2%,#bd00ff 70.6%,#3d00ff 70.9%,#005cff 71.3%,#0ff 71.7%,#0f6 72.1%,#04ff00 72.5%,#3bff00 72.9%,#68ff00 73.3%,#a1ff00 73.7%,#e0ff00 74.1%,#fffa00 74.5%,#ff7800 77.7%,#ff0100 81.2%,#ff008c 87.5%,#fe00ff 93.9%,#7400ff 99.8%)"></i>
<i style="height:2.30px;background:linear-gradient(90deg,#ff003f 0.2%,#fe00fd 8.1%,#0300ff 20.0%,#0ff 33.0%,#00ff04 50.0%,#0dff00 50.8%,#feff00 60.3%,#ff7c00 65.0%,#f10 67.8%,#ff0004 68.2%,#ff0029 68.6%,#ff00b3 69.8%,#ff00e9 70.2%,#c000ff 70.6%,#4000ff 70.9%,#0059ff 71.3%,#00feff 71.7%,#0f6 72.1%,#03ff00 72.5%,#3aff00 72.9%,#6f0 73.3%,#9cff00 73.7%,#dbff00 74.1%,#fffd00 74.5%,#ff6d00 78.1%,#ff0001 81.2%,#ff0091 87.9%,#ff00fe 93.9%,#7600ff 99.8%)"></i>
<i style="height:2.30px;background:linear-gradient(90deg,#ff0039 0.2%,#ff00fc 8.5%,#0001ff 20.4%,#00fdff 33.0%,#02ff00 50.4%,#fcff00 60.3%,#ffc100 62.6%,#ff7f00 65.0%,#ff0b00 67.8%,#ff0010 68.2%,#ff008c 69.4%,#ff00b7 69.8%,#ff00e9 70.2%,#c400ff 70.6%,#40f 70.9%,#0057ff 71.3%,#00fdff 71.7%,#00ff67 72.1%,#03ff00 72.5%,#39ff00 72.9%,#64ff00 73.3%,#98ff00 73.7%,#d6ff00 74.1%,#ff0 74.5%,#ff8d00 77.3%,#ff0800 80.8%,#ff0004 81.2%,#ff0096 88.3%,#ff00fc 93.9%,#e700ff 95.1%,#7800ff 99.8%)"></i>
<i style="height:2.30px;background:linear-gradient(90deg,#ff0034 0.2%,#ff00fd 8.9%,#0400ff 20.4%,#0014ff 21.5%,#00fbff 33.0%,#00fff1 34.2%,#0f0 50.4%,#f9ff00 60.3%,#ffef00 61.1%,#ff8200 65.0%,#ff1800 67.4%,#ff0300 67.8%,#ff001c 68.2%,#ff00ba 69.8%,#ff00e9 70.2%,#c700ff 70.6%,#4700ff 70.9%,#0054ff 71.3%,#00fbff 71.7%,#00ff67 72.1%,#02ff00 72.5%,#39ff00 72.9%,#62ff00 73.3%,#94ff00 73.7%,#d1ff00 74.1%,#fdff00 74.5%,#ff0500 80.8%,#ff000f 81.6%,#ff00ae 89.5%,#fc00fe 93.9%,#7100ff 99.8%)"></i>
<i style="height:2.30px;background:linear-gradient(90deg,#ff0039 0.2%,#ff00fd 8.9%,#0001ff 20.8%,#00fffe 33.4%,#00ff02 50.4%,#61ff00 54.3%,#fffd00 60.7%,#ff8400 65.0%,#ff4e00 66.2%,#ff1200 67.4%,#ff0006 67.8%,#ff0098 69.4%,#ff00e9 70.2%,#cb00ff 70.6%,#4b00ff 70.9%,#0051ff 71.3%,#00faff 71.7%,#00ff68 72.1%,#02ff00 72.5%,#38ff00 72.9%,#60ff00 73.3%,#90ff00 73.7%,#cdff00 74.1%,#faff00 74.5%,#ffe000 75.3%,#ff3100 79.6%,#ff0100 80.8%,#ff00ea 91.1%,#f000fe 92.7%,#b800ff 95.1%,#4300ff 99.4%,#3b00ff 99.8%)"></i>
<i style="height:2.30px;background:linear-gradient(90deg,#ff004a 0.2%,#ff00f9 8.1%,#f300ff 8.9%,#0a00ff 20.4%,#0005ff 21.1%,#00feff 33.4%,#00ff03 50.4%,#0eff00 51.2%,#ff0 60.7%,#ff8700 65.0%,#ff6400 65.8%,#ff0b00 67.4%,#ff0012 67.8%,#ff00c0 69.8%,#ff00e9 70.2%,#cf00ff 70.6%,#4f00ff 70.9%,#004fff 71.3%,#00f9ff 71.7%,#00ff68 72.1%,#01ff00 72.5%,#37ff00 72.9%,#5eff00 73.3%,#8cff00 73.7%,#c8ff00 74.1%,#f8ff00 74.5%,#fff000 74.9%,#ff6400 78.5%,#ff0d00 80.4%,#ff0001 80.8%,#fc00f3 89.1%,#e500ff 90.3%,#5700ff 95.1%,#2000ff 96.6%,#0024ff 98.6%,#0041ff 99.8%)"></i>
<i style="height:2.30px;background:linear-gradient(90deg,#ff0050 0.2%,#ff00fc 8.1%,#0001ff 21.1%,#00fbff 33.4%,#00fff0 34.6%,#02ff00 50.8%,#fcff00 60.7%,#ff8a00 65.0%,#ff7d00 65.4%,#ff0900 67.4%,#ff0014 67.8%,#ff00c0 69.8%,#ff00e7 70.2%,#d300ff 70.6%,#5300ff 70.9%,#004cff 71.3%,#00f7ff 71.7%,#00ff69 72.1%,#01ff00 72.5%,#36ff00 72.9%,#5cff00 73.3%,#89ff00 73.7%,#c4ff00 74.1%,#f6ff00 74.5%,#fff200 74.9%,#ff7800 78.1%,#ff0c00 80.4%,#ff0002 80.8%,#ff00f5 88.3%,#fb00fe 88.7%,#2b00ff 95.1%,#0d00ff 95.8%,#0305ff 96.2%,#0067ff 99.0%,#0079ff 99.8%)"></i>
<i style="height:2.30px;background:linear-gradient(90deg,#ff0037 0.2%,#ff00f6 8.9%,#ed00ff 10.1%,#0002ff 21.5%,#00fcff 33.8%,#0f0 50.8%,#faff00 60.7%,#ffef00 61.5%,#ff8000 65.4%,#ff1800 67.4%,#ff0203 67.8%,#ff0021 68.2%,#ff00b8 69.8%,#ff00e1 70.2%,#d800ff 70.6%,#5700ff 70.9%,#0049ff 71.3%,#00f6ff 71.7%,#00ff6a 72.1%,#01ff00 72.5%,#35ff00 72.9%,#86ff00 73.7%,#c0ff00 74.1%,#f4ff00 74.5%,#fff300 74.9%,#ff7c00 78.1%,#ff0100 80.8%,#fc00f0 89.9%,#eb00fe 91.1%,#8000ff 95.1%,#2600ff 97.8%,#0b1aff 99.8%)"></i>
<i style="height:2.30px;background:linear-gradient(90deg,#ff001d 0.2%,#ff00f9 10.1%,#f300ff 10.9%,#0400ff 21.5%,#0025ff 23.5%,#00feff 34.2%,#00ff01 50.8%,#fffc00 61.1%,#ff8400 65.4%,#ff3a00 67.0%,#f10 67.8%,#ff0009 68.2%,#ff0057 69.0%,#ff00da 70.2%,#d0f 70.6%,#5b00ff 70.9%,#0046ff 71.3%,#00f4ff 71.7%,#00ff6a 72.1%,#0f0 72.5%,#34ff00 72.9%,#83ff00 73.7%,#f1ff00 74.5%,#fff500 74.9%,#ff6e00 78.5%,#ff0400 80.8%,#ff0017 82.0%,#ff00f3 92.7%,#eb00ff 94.3%,#6100ff 99.8%)"></i>
<i style="height:2.30px;background:linear-gradient(90deg,#f01 0.2%,#fd00ff 10.9%,#0100ff 21.9%,#00fffe 34.6%,#00ff03 50.8%,#0fff00 51.6%,#fffe00 61.1%,#ff7900 65.8%,#ff0b00 68.2%,#ff0012 68.6%,#ff006e 69.4%,#ff00d2 70.2%,#e300ff 70.6%,#5f00ff 70.9%,#0043ff 71.3%,#00f3ff 71.7%,#00ff6b 72.1%,#0f0 72.5%,#34ff00 72.9%,#81ff00 73.7%,#edff00 74.5%,#fff700 74.9%,#ff7200 78.5%,#ff0900 80.8%,#ff0003 81.2%,#fe00fd 94.7%,#8700ff 99.8%)"></i>
<i style="height:2.30px;background:linear-gradient(90deg,#ff000a 0.2%,#ff00fc 10.9%,#0500ff 21.9%,#000bff 22.7%,#00fffd 35.0%,#03ff00 51.2%,#fdff00 61.1%,#ff7d00 65.8%,#ff1900 68.2%,#ff0400 68.6%,#ff001f 69.0%,#ff008c 69.8%,#ff00c7 70.2%,#e900ff 70.6%,#6400ff 70.9%,#0040ff 71.3%,#00f1ff 71.7%,#00ff6b 72.1%,#00ff01 72.5%,#3f0 72.9%,#7fff00 73.7%,#e8ff00 74.5%,#fff900 74.9%,#ff7500 78.5%,#ff0d00 80.8%,#ff0001 81.2%,#fe00ff 95.1%,#8e00ff 99.8%)"></i>
<i style="height:2.30px;background:linear-gradient(90deg,#ff0004 0.2%,#fc00ff 11.3%,#0200ff 22.3%,#00fbff 35.0%,#00ffe9 36.6%,#01ff00 51.2%,#fbff00 61.1%,#fe0 61.9%,#ff8100 65.8%,#ff1200 68.6%,#ff0008 69.0%,#ff003a 69.4%,#ff00bc 70.2%,#ef00ff 70.6%,#6700ff 70.9%,#003dff 71.3%,#00f0ff 71.7%,#00ff6c 72.1%,#00ff01 72.5%,#32ff00 72.9%,#7dff00 73.7%,#e4ff00 74.5%,#fffb00 74.9%,#ff6800 78.9%,#ff0300 81.2%,#ff00fe 95.1%,#9100ff 99.8%)"></i>
<i style="height:2.30px;background:linear-gradient(90deg,#ff0100 0.2%,#ff00fe 11.3%,#0002ff 22.7%,#00fdff 35.4%,#00ff01 51.2%,#f8ff00 61.1%,#fffb00 61.5%,#ff7600 66.2%,#ff1600 68.6%,#ff0002 69.0%,#ff0030 69.4%,#ff00b5 70.2%,#f200ff 70.6%,#6b00ff 70.9%,#003aff 71.3%,#0ef 71.7%,#00ff6d 72.1%,#00ff01 72.5%,#32ff00 72.9%,#7bff00 73.7%,#e0ff00 74.5%,#fffd00 74.9%,#ff6c00 78.9%,#ff0700 81.2%,#ff0004 81.6%,#ff00fb 95.1%,#f100ff 95.8%,#9400ff 99.8%)"></i>
<i style="height:2.30px;background:linear-gradient(90deg,#ff0300 0.2%,#ff000d 1.0%,#ff00fa 11.3%,#f200ff 12.1%,#0300ff 22.7%,#004bff 26.7%,#00feff 35.8%,#00ff03 51.2%,#19ff00 52.4%,#fffe00 61.5%,#ff7900 66.2%,#ff1900 68.6%,#ff0400 69.0%,#ff0026 69.4%,#ff0067 69.8%,#ff00af 70.2%,#f700ff 70.6%,#6f00ff 70.9%,#0037ff 71.3%,#00edff 71.7%,#00ff6d 72.1%,#00ff02 72.5%,#31ff00 72.9%,#79ff00 73.7%,#dcff00 74.5%,#ff0 74.9%,#ff6f00 78.9%,#ff0b00 81.2%,#ff0001 81.6%,#fd00ff 95.5%,#9600ff 99.8%)"></i>
<i style="height:2.30px;background:linear-gradient(90deg,#ff0500 0.2%,#ff0002 0.6%,#fe00ff 11.7%,#0101ff 23.1%,#00fffe 36.2%,#00ff05 51.2%,#03ff00 51.6%,#feff00 61.5%,#ff7d00 66.2%,#ff0900 69.0%,#ff001b 69.4%,#ff005d 69.8%,#ff00a8 70.2%,#fb00ff 70.6%,#7300ff 70.9%,#0034ff 71.3%,#00ebff 71.7%,#00ff6e 72.1%,#00ff02 72.5%,#30ff00 72.9%,#7f0 73.7%,#d8ff00 74.5%,#fdff00 74.9%,#ff7300 78.9%,#ff0100 81.6%,#f0f 95.5%,#90f 99.8%)"></i>
<i style="height:2.30px;background:linear-gradient(90deg,#ff0700 0.2%,#f00 0.6%,#ff00fc 11.7%,#0500ff 23.1%,#000bff 23.9%,#00fffd 36.6%,#01ff00 51.6%,#fbff00 61.5%,#ffe300 62.6%,#ff8000 66.2%,#ff0f00 69.0%,#f01 69.4%,#ff0052 69.8%,#ff00a1 70.2%,#ff00fe 70.6%,#7800ff 70.9%,#0031ff 71.3%,#00e9ff 71.7%,#00ff6f 72.1%,#00ff02 72.5%,#30ff00 72.9%,#75ff00 73.7%,#d4ff00 74.5%,#fbff00 74.9%,#ffd600 76.1%,#ff7600 78.9%,#ff0500 81.6%,#ff000d 82.4%,#ff00fc 95.5%,#d300ff 97.4%,#9c00ff 99.8%)"></i>
<i style="height:2.30px;background:linear-gradient(90deg,#ff0a00 0.2%,#ff0300 0.6%,#fe00fe 12.1%,#0200ff 23.5%,#00fcff 36.6%,#00ff01 51.6%,#f8ff00 61.5%,#fffb00 61.9%,#ff8300 66.2%,#ff1300 69.0%,#ff000a 69.4%,#ff0047 69.8%,#ff0097 70.2%,#ff00f7 70.6%,#7f00ff 70.9%,#0029ff 71.3%,#00e4ff 71.7%,#00ff72 72.1%,#00ff04 72.5%,#2eff00 72.9%,#72ff00 73.7%,#9dff00 74.1%,#cfff00 74.5%,#f8ff00 74.9%,#fff200 75.3%,#ff6a00 79.2%,#ff0900 81.6%,#ff0002 82.0%,#fc00ff 95.8%,#9f00ff 99.8%)"></i>
<i style="height:2.30px;background:linear-gradient(90deg,#ff0c00 0.2%,#ff0004 1.0%,#fd00ff 12.5%,#0001ff 23.9%,#00feff 37.0%,#00ff02 51.6%,#42ff00 54.3%,#fffe00 61.9%,#ff7800 66.6%,#ff1600 69.0%,#ff0004 69.4%,#ff003c 69.8%,#ff008c 70.2%,#ff00ed 70.6%,#8b00ff 70.9%,#001dff 71.3%,#00d9ff 71.7%,#00ff7a 72.1%,#00ff08 72.5%,#2cff00 72.9%,#6eff00 73.7%,#97ff00 74.1%,#c9ff00 74.5%,#f5ff00 74.9%,#fff400 75.3%,#ff6e00 79.2%,#ff0100 82.0%,#fe00ff 95.8%,#a100ff 99.8%)"></i>
<i style="height:2.30px;background:linear-gradient(90deg,#ff0e00 0.2%,#ff0002 1.0%,#fc00ff 12.8%,#0500ff 23.9%,#000bff 24.7%,#00faff 37.0%,#00fff5 37.7%,#00ff04 51.6%,#0eff00 52.4%,#fcff00 61.9%,#ffc000 64.2%,#ff7c00 66.6%,#ff1a00 69.0%,#ff0200 69.4%,#ff0030 69.8%,#ff0080 70.2%,#ff00e2 70.6%,#9800ff 70.9%,#0010ff 71.3%,#00cdff 71.7%,#00ff82 72.1%,#00ff0b 72.5%,#29ff00 72.9%,#6aff00 73.7%,#91ff00 74.1%,#efff00 74.9%,#fff700 75.3%,#ff7200 79.2%,#ff0500 82.0%,#ff000d 82.8%,#ff00fd 95.8%,#a400ff 99.8%)"></i>
<i style="height:2.30px;background:linear-gradient(90deg,#f10 0.2%,#ff0100 1.0%,#ff00fa 12.8%,#f300ff 13.6%,#0300ff 24.3%,#00fdff 37.4%,#03ff00 52.0%,#f9ff00 61.9%,#fffb00 62.3%,#ff8000 66.6%,#ff1d00 69.0%,#ff0800 69.4%,#f02 69.8%,#ff0072 70.2%,#ff00d7 70.6%,#a500ff 70.9%,#0003ff 71.3%,#00c1ff 71.7%,#00ff8b 72.1%,#00ff0f 72.5%,#27ff00 72.9%,#65ff00 73.7%,#8aff00 74.1%,#e9ff00 74.9%,#fffa00 75.3%,#ff7600 79.2%,#ff0900 82.0%,#ff0002 82.4%,#ff00fb 95.8%,#f200ff 96.6%,#a700ff 99.8%)"></i>
<i style="height:2.30px;background:linear-gradient(90deg,#ff1400 0.2%,#ff0400 1.0%,#ff001d 2.6%,#ff00fb 13.2%,#e900ff 14.4%,#0101ff 24.7%,#00fffe 37.7%,#01ff00 52.0%,#fffe00 62.3%,#ff8300 66.6%,#ff0f00 69.4%,#ff0015 69.8%,#ff0065 70.2%,#ff00ca 70.6%,#b200ff 70.9%,#0a00ff 71.3%,#00b6ff 71.7%,#00ff93 72.1%,#00ff12 72.5%,#24ff00 72.9%,#84ff00 74.1%,#e2ff00 74.9%,#fffd00 75.3%,#ff6b00 79.6%,#ff0100 82.4%,#fe00ff 96.2%,#a0f 99.8%)"></i>
<i style="height:2.30px;background:linear-gradient(90deg,#ff1800 0.2%,#ff0001 1.4%,#ff00fc 13.6%,#c300ff 16.4%,#0002ff 25.1%,#00fcff 37.7%,#00ff01 52.0%,#fcff00 62.3%,#ffbf00 64.6%,#ff7800 67.0%,#ff1000 69.4%,#ff0012 69.8%,#ff0060 70.2%,#ff00c2 70.6%,#bf00ff 70.9%,#1700ff 71.3%,#0af 71.7%,#00ff9c 72.1%,#00ff16 72.5%,#2f0 72.9%,#80ff00 74.1%,#dcff00 74.9%,#feff00 75.3%,#ff6f00 79.6%,#ff0400 82.4%,#ff0014 83.6%,#ff00f6 95.8%,#ff00fe 96.2%,#ad00ff 99.8%)"></i>
<i style="height:2.30px;background:linear-gradient(90deg,#ff1d00 0.2%,#ff0400 1.4%,#ff001d 3.0%,#ff00fd 14.0%,#0400ff 25.1%,#002cff 27.5%,#00fefe 38.1%,#00ff02 52.0%,#4aff00 55.1%,#f9ff00 62.3%,#fffb00 62.6%,#ff7c00 67.0%,#ff0d00 69.4%,#ff0019 69.8%,#ff0063 70.2%,#ff00be 70.6%,#cb00ff 70.9%,#2400ff 71.3%,#009eff 71.7%,#00ffa5 72.1%,#00ff19 72.5%,#20ff00 72.9%,#7bff00 74.1%,#d6ff00 74.9%,#fbff00 75.3%,#ffd800 76.5%,#ff7300 79.6%,#ff0900 82.4%,#ff0002 82.8%,#ff00ec 95.5%,#ff00fb 96.2%,#f100ff 97.0%,#b000ff 99.8%)"></i>
<i style="height:2.30px;background:linear-gradient(90deg,#ff2100 0.2%,#ff0001 1.8%,#ff00fd 14.4%,#0100ff 25.5%,#00faff 38.1%,#00fff5 38.9%,#00ff04 52.0%,#0eff00 52.8%,#fffe00 62.6%,#ff7f00 67.0%,#ff2100 69.0%,#ff0a00 69.4%,#ff0021 69.8%,#ff0068 70.2%,#f0b 70.6%,#d700ff 70.9%,#3200ff 71.3%,#0092ff 71.7%,#00ffae 72.1%,#00ff1d 72.5%,#1eff00 72.9%,#7f0 74.1%,#a0ff00 74.5%,#d0ff00 74.9%,#f8ff00 75.3%,#fff300 75.7%,#ff7600 79.6%,#ff0100 82.8%,#ff00cb 93.9%,#fd00ff 96.6%,#b300ff 99.8%)"></i>
<i style="height:2.30px;background:linear-gradient(90deg,#ff2500 0.2%,#ff0400 1.8%,#ff0024 3.8%,#fe00fe 14.8%,#0002ff 25.9%,#00fdff 38.5%,#03ff00 52.4%,#fcff00 62.6%,#ffbd00 65.0%,#ff8200 67.0%,#ff2000 69.0%,#ff0600 69.4%,#ff0027 69.8%,#ff006b 70.2%,#ff00b7 70.6%,#e300ff 70.9%,#3f00ff 71.3%,#0085ff 71.7%,#00ffb6 72.1%,#00ff20 72.5%,#1cff00 72.9%,#73ff00 74.1%,#9aff00 74.5%,#f4ff00 75.3%,#fff500 75.7%,#ff6b00 80.0%,#ff0400 82.8%,#ff0014 84.0%,#ff00ba 93.1%,#ff00fe 96.6%,#b600ff 99.8%)"></i>
<i style="height:2.30px;background:linear-gradient(90deg,#ff2900 0.2%,#ff0001 2.2%,#fe00fe 15.2%,#0500ff 25.9%,#000cff 26.7%,#00fffe 38.9%,#01ff00 52.4%,#f9ff00 62.6%,#fffb00 63.0%,#ff8600 67.0%,#ff6100 67.8%,#ff1f00 69.0%,#ff0300 69.4%,#ff002d 69.8%,#ff00b5 70.6%,#ec00ff 70.9%,#4c00ff 71.3%,#0078ff 71.7%,#00ffc0 72.1%,#00ff24 72.5%,#1aff00 72.9%,#6fff00 74.1%,#94ff00 74.5%,#ef0 75.3%,#fff800 75.7%,#ff6f00 80.0%,#ff0900 82.8%,#ff0002 83.2%,#ff00b7 93.1%,#ff00fc 96.6%,#d0f 98.2%,#b800ff 99.8%)"></i>
<i style="height:2.30px;background:linear-gradient(90deg,#ff2e00 0.2%,#ff0003 2.6%,#fc00ff 15.6%,#0300ff 26.3%,#00fbff 38.9%,#00ffec 40.1%,#00ff01 52.4%,#fffe00 63.0%,#ff8900 67.0%,#ff7a00 67.4%,#ff1e00 69.0%,#f00 69.4%,#ff0032 69.8%,#ff00b3 70.6%,#f200ff 70.9%,#5800ff 71.3%,#006bff 71.7%,#00ffca 72.1%,#00ff2c 72.5%,#16ff00 72.9%,#6bff00 74.1%,#8eff00 74.5%,#e8ff00 75.3%,#fffb00 75.7%,#ff7300 80.0%,#ff0100 83.2%,#ff00ad 92.7%,#fc00ff 97.0%,#b0f 99.8%)"></i>
<i style="height:2.30px;background:linear-gradient(90deg,#ff3500 0.2%,#ff0300 2.6%,#ff003b 5.7%,#ff00fd 15.6%,#0200ff 26.7%,#00fdff 39.3%,#00ff03 52.4%,#48ff00 55.5%,#fcff00 63.0%,#ffbc00 65.4%,#ff7e00 67.4%,#ff1d00 69.0%,#ff0003 69.4%,#ff0035 69.8%,#ff00b2 70.6%,#f900ff 70.9%,#6500ff 71.3%,#005eff 71.7%,#00ffd5 72.1%,#00ff34 72.5%,#13ff00 72.9%,#4dff00 73.7%,#8f0 74.5%,#e2ff00 75.3%,#fffe00 75.7%,#ffcb00 77.3%,#ff6800 80.4%,#ff0400 83.2%,#ff0013 84.4%,#ff00a2 92.3%,#f0f 97.0%,#be00ff 99.8%)"></i>
<i style="height:2.30px;background:linear-gradient(90deg,#ff3b00 0.2%,#ff0200 3.0%,#fe00ff 16.0%,#0100ff 27.1%,#00feff 39.7%,#00ff04 52.4%,#0dff00 53.2%,#faff00 63.0%,#fffa00 63.4%,#ff8200 67.4%,#ff5600 68.2%,#f20 69.0%,#ff0400 69.4%,#ff002c 69.8%,#ff00a9 70.6%,#ff00fc 70.9%,#7300ff 71.3%,#0050ff 71.7%,#00ffdf 72.1%,#00ff3c 72.5%,#0fff00 72.9%,#30ff00 73.3%,#64ff00 74.1%,#83ff00 74.5%,#dcff00 75.3%,#fdff00 75.7%,#ff6c00 80.4%,#ff0a00 83.2%,#ff0002 83.6%,#ff00a7 92.7%,#ff00fd 97.0%,#c100ff 99.8%)"></i>
<i style="height:2.30px;background:linear-gradient(90deg,#ff4100 0.2%,#ff0101 3.4%,#ff00fb 16.0%,#e900ff 17.2%,#0101ff 27.5%,#00fffe 40.1%,#02ff00 52.8%,#fffd00 63.4%,#ff8600 67.4%,#ff5d00 68.2%,#ff1000 69.4%,#ff0019 69.8%,#ff0056 70.2%,#ff009c 70.6%,#ff00f1 70.9%,#8100ff 71.3%,#0042ff 71.7%,#00ffea 72.1%,#0f4 72.5%,#0cff00 72.9%,#2eff00 73.3%,#7fff00 74.5%,#d6ff00 75.3%,#faff00 75.7%,#ffe600 76.5%,#ff7000 80.4%,#ff0300 83.6%,#ff006f 89.9%,#ff00fa 97.0%,#f200ff 97.8%,#c400ff 99.8%)"></i>
<i style="height:2.30px;background:linear-gradient(90deg,#ff4700 0.2%,#ff0002 3.8%,#ff00fe 16.4%,#0101ff 27.9%,#00fffd 40.5%,#0f0 52.8%,#feff00 63.4%,#ff8900 67.4%,#ff7a00 67.8%,#ff1b00 69.4%,#ff0007 69.8%,#ff0042 70.2%,#ff008c 70.6%,#ff00e4 70.9%,#9000ff 71.3%,#0034ff 71.7%,#00fff5 72.1%,#00ff4c 72.5%,#08ff00 72.9%,#2cff00 73.3%,#7bff00 74.5%,#a3ff00 74.9%,#d0ff00 75.3%,#f7ff00 75.7%,#fff400 76.1%,#ff6700 80.8%,#ff0900 83.6%,#ff0002 84.0%,#ff00a1 92.7%,#fe00ff 97.4%,#c700ff 99.8%)"></i>
<i style="height:2.30px;background:linear-gradient(90deg,#ff4d00 0.2%,#ff0400 3.8%,#ff002c 6.1%,#fc00ff 16.8%,#0002ff 28.3%,#00fbff 40.5%,#00ffea 41.7%,#00ff01 52.8%,#fcff00 63.4%,#ffd400 65.0%,#ff7e00 67.8%,#ff2400 69.4%,#ff0700 69.8%,#ff002c 70.2%,#ff0078 70.6%,#ff00d6 70.9%,#a000ff 71.3%,#0025ff 71.7%,#00fdfe 72.1%,#00ff54 72.5%,#05ff00 72.9%,#29ff00 73.3%,#78ff00 74.5%,#9dff00 74.9%,#f3ff00 75.7%,#fff600 76.1%,#ff6b00 80.8%,#ff0300 84.0%,#ff009e 92.7%,#ff00fe 97.4%,#ca00ff 99.8%)"></i>
<i style="height:2.30px;background:linear-gradient(90deg,#ff5200 0.2%,#ff0101 4.2%,#ff00fd 16.8%,#0002ff 28.7%,#00fdff 40.9%,#00ff03 52.8%,#3eff00 55.5%,#faff00 63.4%,#fffa00 63.8%,#ff8200 67.8%,#ff4300 69.0%,#ff1400 69.8%,#ff0015 70.2%,#ff0062 70.6%,#ff00c4 70.9%,#b100ff 71.3%,#0016ff 71.7%,#00f3ff 72.1%,#00ff5c 72.5%,#01ff00 72.9%,#27ff00 73.3%,#74ff00 74.5%,#97ff00 74.9%,#edff00 75.7%,#fff900 76.1%,#ff6200 81.2%,#ff0900 84.0%,#ff0002 84.4%,#ff00a3 93.1%,#ff00fb 97.4%,#f100ff 98.2%,#cd00ff 99.8%)"></i>
<i style="height:2.30px;background:linear-gradient(90deg,#ff5700 0.2%,#ff0500 4.2%,#ff000b 4.9%,#fe00ff 17.2%,#0500ff 28.7%,#000bff 29.4%,#00feff 41.3%,#00ff05 52.8%,#0dff00 53.6%,#fffd00 63.8%,#ff8600 67.8%,#ff6100 68.6%,#ff1d00 69.8%,#ff0005 70.2%,#ff004b 70.6%,#ff00b1 70.9%,#c300ff 71.3%,#0006ff 71.7%,#00e6ff 72.1%,#00ff65 72.5%,#00ff02 72.9%,#26ff00 73.3%,#70ff00 74.5%,#91ff00 74.9%,#e7ff00 75.7%,#fffc00 76.1%,#ff4c00 82.0%,#ff0300 84.4%,#ff00a0 93.1%,#fd00ff 97.8%,#cf00ff 99.8%)"></i>
<i style="height:2.30px;background:linear-gradient(90deg,#ff5d00 0.2%,#ff0200 4.5%,#ff00fb 17.2%,#ea00ff 18.4%,#0400ff 29.1%,#0014ff 30.2%,#00fffe 41.7%,#02ff00 53.2%,#feff00 63.8%,#ff8900 67.8%,#f60 68.6%,#ff2300 69.8%,#ff0400 70.2%,#ff003a 70.6%,#ff009f 70.9%,#d500ff 71.3%,#0a00ff 71.7%,#00d9ff 72.1%,#00ff6d 72.5%,#00ff05 72.9%,#24ff00 73.3%,#6dff00 74.5%,#8cff00 74.9%,#e2ff00 75.7%,#fffe00 76.1%,#ffd900 77.3%,#ff5100 82.0%,#ff0800 84.4%,#ff0002 84.8%,#ff00a5 93.5%,#ff00fe 97.8%,#d200ff 99.8%)"></i>
<i style="height:2.30px;background:linear-gradient(90deg,#ff6300 0.2%,#ff0100 4.9%,#ff00fe 17.6%,#0300ff 29.4%,#0090ff 36.6%,#00fffc 42.1%,#0f0 53.2%,#fcff00 63.8%,#ffd400 65.4%,#ff7f00 68.2%,#ff2700 69.8%,#ff0b00 70.2%,#ff002c 70.6%,#ff0090 70.9%,#e600ff 71.3%,#1a00ff 71.7%,#0cf 72.1%,#00ff76 72.5%,#00ff09 72.9%,#2f0 73.3%,#69ff00 74.5%,#86ff00 74.9%,#dbff00 75.7%,#fcff00 76.1%,#ff3100 83.2%,#ff0200 84.8%,#ff009a 93.1%,#ff00fc 97.8%,#d500ff 99.8%)"></i>
<i style="height:2.30px;background:linear-gradient(90deg,#ff6900 0.2%,#ff0101 5.3%,#fe00fe 18.0%,#0200ff 29.8%,#00fbff 42.1%,#00ffe8 43.3%,#00ff03 53.2%,#faff00 63.8%,#fffa00 64.2%,#ff8200 68.2%,#ff4300 69.4%,#ff1200 70.2%,#ff001d 70.6%,#ff0081 70.9%,#f300ff 71.3%,#2900ff 71.7%,#00bfff 72.1%,#00ff7f 72.5%,#00ff0c 72.9%,#1fff00 73.3%,#7fff00 74.9%,#f4ff00 76.1%,#fff600 76.5%,#ff4200 82.8%,#ff0700 84.8%,#ff0003 85.2%,#ff00a0 93.5%,#ff00fa 97.8%,#f200ff 98.6%,#d800ff 99.8%)"></i>
<i style="height:2.30px;background:linear-gradient(90deg,#ff6f00 0.2%,#ff0001 5.7%,#fd00ff 18.4%,#0101ff 30.2%,#00fdff 42.5%,#00ff06 53.2%,#0dff00 54.0%,#f8ff00 63.8%,#fffc00 64.2%,#ff8400 68.2%,#ff5e00 69.0%,#ff1800 70.2%,#ff0013 70.6%,#ff0073 70.9%,#fe00fc 71.3%,#3700ff 71.7%,#00b2ff 72.1%,#00ff87 72.5%,#00ff0f 72.9%,#1dff00 73.3%,#7f0 74.9%,#97ff00 75.3%,#e5ff00 76.1%,#fffd00 76.5%,#ff3000 83.6%,#ff0100 85.2%,#ff009d 93.5%,#fd00ff 98.2%,#da00ff 99.8%)"></i>
<i style="height:2.30px;background:linear-gradient(90deg,#ff7400 0.2%,#ff0002 6.1%,#fd00ff 18.8%,#0002ff 30.6%,#00fefe 42.9%,#01ff00 53.6%,#fffe00 64.2%,#ff8700 68.2%,#ff6200 69.0%,#ff1c00 70.2%,#ff000b 70.6%,#ff0065 70.9%,#ff00ef 71.3%,#4700ff 71.7%,#00a4ff 72.1%,#00ff90 72.5%,#00ff13 72.9%,#1bff00 73.3%,#70ff00 74.9%,#8bff00 75.3%,#d7ff00 76.1%,#f7ff00 76.5%,#fff500 76.9%,#ff4d00 82.8%,#ff0600 85.2%,#ff000c 86.0%,#ff009b 93.5%,#f0f 98.2%,#dc00ff 99.8%)"></i>
<i style="height:2.30px;background:linear-gradient(90deg,#ff7a00 0.2%,#ff0400 6.1%,#ff0014 7.3%,#fc00ff 19.2%,#0500ff 30.6%,#000bff 31.4%,#00fffd 43.3%,#00ff03 53.6%,#feff00 64.2%,#ff8a00 68.2%,#ff7b00 68.6%,#ff2100 70.2%,#ff0004 70.6%,#ff0057 70.9%,#ff00e0 71.3%,#5700ff 71.7%,#0096ff 72.1%,#0f9 72.5%,#00ff16 72.9%,#19ff00 73.3%,#82ff00 75.3%,#ebff00 76.5%,#fffc00 76.9%,#ff4600 83.2%,#ff0001 85.6%,#ff00a0 93.9%,#ff00fd 98.2%,#de00ff 99.8%)"></i>
<i style="height:2.30px;background:linear-gradient(90deg,#ff8000 0.2%,#ff0200 6.5%,#ff00fb 19.2%,#f300ff 20.0%,#0300ff 31.0%,#0036ff 33.8%,#00f9ff 43.3%,#00fffc 43.7%,#00ff06 53.6%,#03ff00 54.0%,#fcff00 64.2%,#ffe000 65.4%,#ff7f00 68.6%,#ff2500 70.2%,#ff0400 70.6%,#ff0046 70.9%,#ff00cf 71.3%,#6900ff 71.7%,#0087ff 72.1%,#00ffa1 72.5%,#00ff19 72.9%,#17ff00 73.3%,#7bff00 75.3%,#bf0 76.1%,#deff00 76.5%,#fbff00 76.9%,#fd0 78.1%,#ff5700 82.8%,#ff0400 85.6%,#ff0014 86.8%,#ff009e 93.9%,#ff00fb 98.2%,#e000ff 99.8%)"></i>
<i style="height:2.30px;background:linear-gradient(90deg,#ff8700 0.2%,#ff0101 6.9%,#ff00fc 19.6%,#e100ff 21.1%,#0200ff 31.4%,#00fbff 43.7%,#00fff0 44.5%,#01ff00 54.0%,#faff00 64.2%,#fffa00 64.6%,#ff8200 68.6%,#ff4100 69.8%,#ff0d00 70.6%,#ff0031 70.9%,#ff00ba 71.3%,#7b00ff 71.7%,#0078ff 72.1%,#0fa 72.5%,#00ff1c 72.9%,#15ff00 73.3%,#75ff00 75.3%,#8eff00 75.7%,#f0ff00 76.9%,#fffa00 77.3%,#ff5100 83.2%,#ff0001 86.0%,#ff009b 93.9%,#fc00ff 98.6%,#e200ff 99.8%)"></i>
<i style="height:2.30px;background:linear-gradient(90deg,#ff8e00 0.2%,#ff0002 7.3%,#ff00fc 20.0%,#0101ff 31.8%,#00fdff 44.1%,#00ff03 54.0%,#8eff00 59.9%,#fffc00 64.6%,#ff8400 68.6%,#ff5d00 69.4%,#ff1700 70.6%,#ff001d 70.9%,#ff00a4 71.3%,#8f00ff 71.7%,#0068ff 72.1%,#00ffb3 72.5%,#00ff1f 72.9%,#13ff00 73.3%,#85ff00 75.7%,#e4ff00 76.9%,#fdff00 77.3%,#ff4a00 83.6%,#ff0300 86.0%,#f09 93.9%,#fe00ff 98.6%,#e400ff 99.8%)"></i>
<i style="height:2.30px;background:linear-gradient(90deg,#ff9600 0.2%,#ff3b00 4.5%,#ff0300 7.3%,#ff0089 14.4%,#ff00fd 20.4%,#0002ff 32.2%,#00fefe 44.5%,#00ff07 54.0%,#03ff00 54.3%,#fffe00 64.6%,#ff8700 68.6%,#ff6200 69.4%,#ff1c00 70.6%,#ff0013 70.9%,#ff0090 71.3%,#a500ff 71.7%,#0057ff 72.1%,#00ffbd 72.5%,#0f2 72.9%,#1f0 73.3%,#7eff00 75.7%,#f4ff00 77.3%,#fff800 77.7%,#ff5000 83.6%,#ff0800 86.0%,#ff0002 86.4%,#ff009f 94.3%,#ff00fe 98.6%,#e600ff 99.8%)"></i>
<i style="height:2.30px;background:linear-gradient(90deg,#ff9e00 0.2%,#ff6000 3.0%,#ff0101 7.7%,#ff00fe 20.8%,#0500ff 32.2%,#000bff 33.0%,#00fffd 44.9%,#0f0 54.3%,#feff00 64.6%,#ff7b00 69.0%,#f20 70.6%,#ff0008 70.9%,#ff0078 71.3%,#bc00ff 71.7%,#0046ff 72.1%,#00ffc6 72.5%,#00ff25 72.9%,#10ff00 73.3%,#78ff00 75.7%,#adff00 76.5%,#e8ff00 77.3%,#fefe00 77.7%,#ff4a00 84.0%,#ff0300 86.4%,#ff009c 94.3%,#ff00fd 98.6%,#e800ff 99.8%)"></i>
<i style="height:2.30px;background:linear-gradient(90deg,#ffa600 0.2%,#ff6500 3.0%,#ff0003 8.1%,#fe00fd 21.1%,#0300ff 32.6%,#0046ff 36.2%,#00faff 44.9%,#00fffb 45.3%,#00ff04 54.3%,#38ff00 56.7%,#fbff00 64.6%,#ffe000 65.8%,#ff7f00 69.0%,#ff2700 70.6%,#ff0400 70.9%,#ff005b 71.3%,#d600ff 71.7%,#0034ff 72.1%,#00ffd0 72.5%,#00ff29 72.9%,#0eff00 73.3%,#73ff00 75.7%,#8f0 76.1%,#f7ff00 77.7%,#fff700 78.1%,#ff4f00 84.0%,#ff0800 86.4%,#ff0002 86.8%,#ff00a2 94.7%,#ff00fb 98.6%,#ea00ff 99.8%)"></i>
<i style="height:2.30px;background:linear-gradient(90deg,#ffae00 0.2%,#ff6b00 3.0%,#ff0200 8.1%,#ff00fc 21.5%,#b300ff 25.1%,#0100ff 33.0%,#00feff 45.3%,#00ff07 54.3%,#03ff00 54.7%,#f8ff00 64.6%,#fffb00 65.0%,#ff8100 69.0%,#ff2c00 70.6%,#f10 70.9%,#ff003c 71.3%,#f100ff 71.7%,#0021ff 72.1%,#00ffdb 72.5%,#00ff30 72.9%,#0bff00 73.3%,#5eff00 75.3%,#81ff00 76.1%,#edff00 77.7%,#fffd00 78.1%,#ff4900 84.4%,#ff0200 86.8%,#ff0097 94.3%,#fc00ff 99.0%,#ec00ff 99.8%)"></i>
<i style="height:2.30px;background:linear-gradient(90deg,#ffb600 0.2%,#ff7100 3.0%,#ff0101 8.5%,#fc00ff 22.3%,#0002ff 33.4%,#00fffc 45.7%,#00ff01 54.7%,#feff00 65.0%,#ff8300 69.0%,#ff4600 70.2%,#ff1700 70.9%,#ff002e 71.3%,#ff00f8 71.7%,#000fff 72.1%,#00ffe7 72.5%,#00ff38 72.9%,#08ff00 73.3%,#2dff00 74.1%,#7cff00 76.1%,#acff00 76.9%,#faff00 78.1%,#ffea00 78.9%,#ff4f00 84.4%,#ff0800 86.8%,#ff0002 87.2%,#ff009d 94.7%,#fe00ff 99.0%,#e0f 99.8%)"></i>
<i style="height:2.30px;background:linear-gradient(90deg,#ffbd00 0.2%,#f70 3.0%,#ff0300 8.9%,#fe00fe 22.7%,#0500ff 33.4%,#000dff 34.2%,#00fdff 45.7%,#00ffcb 47.6%,#00ff04 54.7%,#24ff00 56.3%,#fbff00 65.0%,#ffec00 65.8%,#ff8600 69.0%,#ff5e00 69.8%,#ff1500 70.9%,#ff002d 71.3%,#ff00eb 71.7%,#0301ff 72.1%,#00fff2 72.5%,#00ff3f 72.9%,#05ff00 73.3%,#1bff00 73.7%,#7f0 76.1%,#a3ff00 76.9%,#f0ff00 78.1%,#fffb00 78.5%,#ff3d00 85.2%,#ff0300 87.2%,#ff009a 94.7%,#ff00fe 99.0%,#f000ff 99.8%)"></i>
<i style="height:2.30px;background:linear-gradient(90deg,#ffc500 0.2%,#ff7500 3.4%,#ff0102 9.7%,#ff00fc 23.1%,#e700ff 24.3%,#0200ff 33.8%,#00fffd 46.0%,#00ff07 54.7%,#03ff00 55.1%,#fffc00 65.4%,#f80 69.0%,#ff6000 69.8%,#ff2e00 70.6%,#ff1000 70.9%,#ff0037 71.3%,#ff00e5 71.7%,#1200ff 72.1%,#00fefd 72.5%,#00ff47 72.9%,#02ff00 73.3%,#1aff00 73.7%,#83ff00 76.5%,#fcff00 78.5%,#ff3800 85.6%,#ff0001 87.5%,#ff00a1 95.1%,#ff00fc 99.0%,#f200ff 99.8%)"></i>
<i style="height:2.30px;background:linear-gradient(90deg,#ffcd00 0.2%,#ff7c00 3.4%,#ff0b01 10.5%,#ff0014 12.1%,#ff00f3 23.9%,#e0f 25.1%,#0e00ff 34.2%,#000bff 35.4%,#00f9ff 46.0%,#00fffb 46.4%,#00ff01 55.1%,#feff00 65.4%,#ff8b00 69.0%,#ff7a00 69.4%,#ff2d00 70.6%,#ff0a00 70.9%,#ff0042 71.3%,#ff00e1 71.7%,#20f 72.1%,#00f4ff 72.5%,#00ff4e 72.9%,#00ff01 73.3%,#18ff00 73.7%,#7eff00 76.5%,#f3ff00 78.5%,#fffa00 78.9%,#ff0600 87.5%,#ff000d 88.3%,#ff00b1 95.8%,#ff00fa 99.0%,#f400ff 99.8%)"></i>
<i style="height:2.30px;background:linear-gradient(90deg,#ffd500 0.2%,#ff8200 3.4%,#ff5000 9.7%,#ff0a02 13.6%,#ff0016 15.2%,#ff00cd 24.7%,#ff00f4 26.3%,#ec00ff 27.5%,#2b00ff 35.4%,#0902ff 37.0%,#000dff 37.7%,#00f6ff 46.4%,#00fffb 46.8%,#00ffa4 49.6%,#00ff04 55.1%,#1aff00 56.3%,#faff00 65.4%,#fff800 65.8%,#ff7d00 69.4%,#ff2d00 70.6%,#ff0900 70.9%,#ff0043 71.3%,#ff00d8 71.7%,#30f 72.1%,#00e8ff 72.5%,#00ff56 72.9%,#00ff03 73.3%,#17ff00 73.7%,#79ff00 76.5%,#a3ff00 77.3%,#eaff00 78.5%,#feff00 78.9%,#ff0200 87.9%,#ff00ae 95.8%,#fd00ff 99.4%,#f600ff 99.8%)"></i>
<i style="height:2.30px;background:linear-gradient(90deg,#fd0 0.2%,#ff8200 3.8%,#f40 9.7%,#ff0c02 12.8%,#ff0015 14.4%,#f0d 24.7%,#ff00f0 25.5%,#f000fe 26.7%,#1800ff 35.8%,#0508ff 37.0%,#0016ff 37.7%,#0ff 46.8%,#00ff7b 51.2%,#00ff08 55.1%,#03ff00 55.5%,#fffd00 65.8%,#ff8000 69.4%,#ff3200 70.6%,#f10 70.9%,#ff0032 71.3%,#ff00c6 71.7%,#4700ff 72.1%,#00dcff 72.5%,#00ff5d 72.9%,#00ff06 73.3%,#16ff00 73.7%,#86ff00 76.9%,#f6ff00 78.9%,#fff800 79.2%,#ff0001 88.3%,#ff00c7 97.0%,#fe00ff 99.4%,#f700ff 99.8%)"></i>
<i style="height:2.30px;background:linear-gradient(90deg,#ffe500 0.2%,#ff7d00 4.2%,#ff0201 11.3%,#fd00fd 24.3%,#0600ff 35.0%,#000bff 35.8%,#00feff 46.8%,#00ff01 55.5%,#fdff00 65.8%,#ff9200 69.0%,#ff6c00 69.8%,#ff1900 70.9%,#ff0020 71.3%,#ff00b0 71.7%,#5e00ff 72.1%,#0cf 72.5%,#0f6 72.9%,#00ff09 73.3%,#14ff00 73.7%,#80ff00 76.9%,#edff00 78.9%,#fffe00 79.2%,#ff0500 88.3%,#ff000e 89.1%,#ff00fe 99.4%,#f900ff 99.8%)"></i>
<i style="height:2.30px;background:linear-gradient(90deg,#ffec00 0.2%,#ff7a00 4.5%,#ff0003 11.3%,#ff00fe 23.9%,#0003ff 35.4%,#00f9ff 46.8%,#00fffb 47.2%,#00ff04 55.5%,#1aff00 56.7%,#f9ff00 65.8%,#fff900 66.2%,#ff8500 69.4%,#ff5700 70.2%,#ff1f00 70.9%,#ff0015 71.3%,#ff009c 71.7%,#70f 72.1%,#00b9ff 72.5%,#00ff70 72.9%,#00ff0c 73.3%,#13ff00 73.7%,#7cff00 76.9%,#f9ff00 79.2%,#fff700 79.6%,#ff0200 88.7%,#ff00fc 99.4%,#fb00ff 99.8%)"></i>
<i style="height:2.30px;background:linear-gradient(90deg,#fff400 0.2%,#ff7800 4.9%,#f00 11.3%,#fd00ff 23.9%,#0300ff 35.4%,#00feff 47.2%,#00ff08 55.5%,#03ff00 55.9%,#fffd00 66.2%,#f80 69.4%,#ff5b00 70.2%,#ff2400 70.9%,#ff000c 71.3%,#ff0086 71.7%,#9100ff 72.1%,#00a5ff 72.5%,#00ff79 72.9%,#00ff0e 73.3%,#12ff00 73.7%,#78ff00 76.9%,#9cff00 77.7%,#f0ff00 79.2%,#fffd00 79.6%,#ff0900 88.7%,#ff0002 89.1%,#ff00fa 99.4%,#fd00ff 99.8%)"></i>
<i style="height:2.30px;background:linear-gradient(90deg,#fffc00 0.2%,#ff7600 5.3%,#ff0300 11.3%,#ff00fa 23.5%,#f300ff 24.3%,#0101ff 35.8%,#00f8ff 47.2%,#00fffc 47.6%,#00ff01 55.9%,#fdff00 66.2%,#ffd700 67.4%,#ff8b00 69.4%,#ff5f00 70.2%,#ff2900 70.9%,#ff0102 71.3%,#ff006e 71.7%,#ae00ff 72.1%,#0090ff 72.5%,#00ff84 72.9%,#0f1 73.3%,#1f0 73.7%,#82ff00 77.3%,#fbff00 79.6%,#ffe000 80.8%,#ff0500 89.1%,#ff000f 89.9%,#f0f 99.8%)"></i>
<i style="height:2.30px;background:linear-gradient(90deg,#fdff00 0.2%,#fff100 1.0%,#ff7b00 5.3%,#ff0003 11.7%,#ff00fc 23.5%,#0002ff 36.2%,#00fdff 47.6%,#00ffd3 49.2%,#00ff05 55.9%,#10ff00 56.7%,#f9ff00 66.2%,#fff900 66.6%,#ff7c00 69.8%,#ff2e00 70.9%,#ff0900 71.3%,#ff0053 71.7%,#cd00ff 72.1%,#007aff 72.5%,#00ff8e 72.9%,#00ff14 73.3%,#10ff00 73.7%,#7eff00 77.3%,#f3ff00 79.6%,#fffb00 80.0%,#ff3e00 87.2%,#ff0200 89.5%,#ff00fd 99.8%)"></i>
<i style="height:2.30px;background:linear-gradient(90deg,#f8ff00 0.2%,#fdff00 0.6%,#ffd800 2.2%,#ff7900 5.7%,#ff0100 11.7%,#ff00fe 23.5%,#0300ff 36.2%,#0030ff 38.5%,#00fffd 48.0%,#00ff09 55.9%,#03ff00 56.3%,#fffe00 66.6%,#ff7f00 69.8%,#f30 70.9%,#ff1500 71.3%,#ff0038 71.7%,#e700ff 72.1%,#06f 72.5%,#00ff98 72.9%,#00ff17 73.3%,#0fff00 73.7%,#7aff00 77.3%,#c4ff00 78.9%,#fdff00 80.0%,#ff4300 87.2%,#ff0002 89.9%,#ff00fb 99.8%)"></i>
<i style="height:2.30px;background:linear-gradient(90deg,#f4ff00 0.2%,#fffe00 1.0%,#ff7600 6.1%,#ff0500 11.7%,#ff000c 12.5%,#ff00fe 23.5%,#0100ff 36.6%,#00fcff 48.0%,#00ffec 48.8%,#00ff01 56.3%,#fcff00 66.6%,#ffe600 67.4%,#ff8300 69.8%,#ff3800 70.9%,#ff1c00 71.3%,#ff002a 71.7%,#fa00ff 72.1%,#0053ff 72.5%,#00ffa2 72.9%,#00ff19 73.3%,#0eff00 73.7%,#84ff00 77.7%,#f5ff00 80.0%,#fffa00 80.4%,#ff5c00 86.4%,#ff0400 89.9%,#ff0010 90.7%,#ff00f1 99.4%,#ff00f9 99.8%)"></i>
<i style="height:2.30px;background:linear-gradient(90deg,#f1ff00 0.2%,#fcff00 1.0%,#fff000 1.8%,#ff7400 6.5%,#ff0300 12.1%,#fd00ff 23.9%,#0500ff 36.6%,#000cff 37.4%,#00fffc 48.4%,#00ff08 56.3%,#04ff00 56.7%,#fffc00 67.0%,#ff8900 69.8%,#ff5900 70.6%,#ff2100 71.3%,#ff0024 71.7%,#ff00f7 72.1%,#0045ff 72.5%,#00ffa9 72.9%,#00ff1b 73.3%,#0dff00 73.7%,#7dff00 77.7%,#fcff00 80.4%,#ff4e00 87.2%,#ff0001 90.3%,#ff00ec 99.4%,#ff00f4 99.8%)"></i>
<i style="height:2.30px;background:linear-gradient(90deg,#ef0 0.2%,#fffe00 1.4%,#ff7900 6.5%,#ff0200 12.5%,#ff00fc 23.9%,#0100ff 37.0%,#00feff 48.4%,#00ff03 56.7%,#fcff00 67.0%,#ffe400 67.8%,#ff7c00 70.2%,#ff2600 71.3%,#ff001e 71.7%,#ff00eb 72.1%,#0037ff 72.5%,#00ffb1 72.9%,#00ff1d 73.3%,#0cff00 73.7%,#83ff00 78.1%,#f2ff00 80.4%,#fffc00 80.8%,#ff5300 87.2%,#ff0400 90.3%,#ff001b 91.5%,#ff00de 99.0%,#ff00ef 99.8%)"></i>
<i style="height:2.30px;background:linear-gradient(90deg,#ebff00 0.2%,#fcff00 1.4%,#fff000 2.2%,#f70 6.9%,#ff0101 12.8%,#fe00ff 24.3%,#0500ff 37.0%,#000cff 37.7%,#00faff 48.4%,#00fffa 48.8%,#02ff00 57.1%,#f6ff00 67.0%,#fffc00 67.4%,#ff8300 70.2%,#ff4c00 70.9%,#ff2b00 71.3%,#ff0017 71.7%,#ff00dc 72.1%,#0029ff 72.5%,#00ffb8 72.9%,#00ff1f 73.3%,#0bff00 73.7%,#7cff00 78.1%,#c2ff00 79.6%,#f9ff00 80.8%,#fff700 81.2%,#ff3b00 88.3%,#ff0002 90.7%,#ff00c5 98.2%,#ff00ea 99.8%)"></i>
<i style="height:2.30px;background:linear-gradient(90deg,#e8ff00 0.2%,#fffe00 1.8%,#ff7400 7.3%,#ff0001 13.2%,#ff00fb 24.3%,#eb00ff 25.5%,#0100ff 37.4%,#00fffe 48.8%,#00ff05 57.1%,#10ff00 57.9%,#fcff00 67.4%,#ffe300 68.2%,#ff8a00 70.2%,#ff7300 70.6%,#ff3200 71.3%,#ff000f 71.7%,#ff00cd 72.1%,#001aff 72.5%,#00ffc0 72.9%,#00ff21 73.3%,#0aff00 73.7%,#82ff00 78.5%,#fefe00 81.2%,#ff2100 89.5%,#ff0300 90.7%,#ff00de 99.4%,#ff00e5 99.8%)"></i>
<i style="height:2.30px;background:linear-gradient(90deg,#e5ff00 0.2%,#fdff00 1.8%,#ffe600 3.0%,#ff7900 7.3%,#ff0002 13.6%,#ff00fe 24.7%,#0500ff 37.4%,#000cff 38.1%,#00fcff 48.8%,#00ffe0 50.0%,#01ff01 57.5%,#f6ff00 67.4%,#fffc00 67.8%,#ff9200 70.2%,#ff7c00 70.6%,#ff3900 71.3%,#ff0005 71.7%,#f0b 72.1%,#000aff 72.5%,#00ffc8 72.9%,#00ff23 73.3%,#09ff00 73.7%,#7bff00 78.5%,#9aff00 79.2%,#f6ff00 81.2%,#fffa00 81.6%,#ff0800 90.7%,#ff0003 91.1%,#ff00b2 97.8%,#ff00e1 99.8%)"></i>
<i style="height:2.30px;background:linear-gradient(90deg,#e1ff00 0.2%,#fffe00 2.2%,#f70 7.7%,#ff0500 13.6%,#ff000c 14.4%,#ff00f9 24.7%,#f400ff 25.5%,#0100ff 37.7%,#00f8ff 48.8%,#00fffc 49.2%,#00ff07 57.5%,#04ff00 57.9%,#fcff00 67.8%,#ffe200 68.6%,#ff8400 70.6%,#ff6700 70.9%,#ff4200 71.3%,#ff0600 71.7%,#ff00a6 72.1%,#0700ff 72.5%,#00ffcf 72.9%,#00ff25 73.3%,#08ff00 73.7%,#80ff00 78.9%,#fcff00 81.6%,#ff0200 91.1%,#ff00b7 98.2%,#ff00dc 99.8%)"></i>
<i style="height:2.30px;background:linear-gradient(90deg,#deff00 0.2%,#fdff00 2.2%,#ffc900 4.5%,#ff7400 8.1%,#ff0300 14.0%,#ff002a 16.0%,#ff00fd 25.1%,#0500ff 37.7%,#000cff 38.5%,#00feff 49.2%,#00ff02 57.9%,#f6ff00 67.8%,#fffb00 68.2%,#ff8c00 70.6%,#ff7200 70.9%,#ff4c00 71.3%,#ff1300 71.7%,#ff008d 72.1%,#1900ff 72.5%,#00ffd7 72.9%,#00ff27 73.3%,#08ff00 73.7%,#7aff00 78.9%,#97ff00 79.6%,#f3ff00 81.6%,#fffc00 82.0%,#ff0700 91.1%,#ff0004 91.5%,#ff00a9 97.8%,#ff00d7 99.8%)"></i>
<i style="height:2.30px;background:linear-gradient(90deg,#dbff00 0.2%,#fffd00 2.6%,#ff7200 8.5%,#ff0001 14.4%,#fe00ff 25.5%,#0100ff 38.1%,#00fbff 49.2%,#0fe 50.0%,#02ff00 58.3%,#fcff00 68.2%,#fff300 68.6%,#ff9500 70.6%,#ff7d00 70.9%,#ff5700 71.3%,#f20 71.7%,#ff0071 72.1%,#2c00ff 72.5%,#00ffdf 72.9%,#00ff29 73.3%,#07ff00 73.7%,#7fff00 79.2%,#d6ff00 81.2%,#f9ff00 82.0%,#ffec00 82.8%,#ff0100 91.5%,#ff00a5 97.8%,#ff00d2 99.8%)"></i>
<i style="height:2.30px;background:linear-gradient(90deg,#d7ff00 0.2%,#fdff00 2.6%,#ff6f00 8.9%,#ff0300 14.4%,#ff0017 15.6%,#ff00fb 25.5%,#da00ff 27.5%,#0500ff 38.1%,#000cff 38.9%,#00fffd 49.6%,#00ff04 58.3%,#1bff00 59.5%,#f6ff00 68.2%,#fffb00 68.6%,#ff9c00 70.6%,#ff8500 70.9%,#ff6300 71.3%,#ff3000 71.7%,#ff005d 72.1%,#3d00ff 72.5%,#00ffe7 72.9%,#00ff2b 73.3%,#06ff00 73.7%,#79ff00 79.2%,#95ff00 80.0%,#fefe00 82.4%,#ff0600 91.5%,#ff0010 92.3%,#ff00a0 97.8%,#ff00ce 99.8%)"></i>
<i style="height:2.30px;background:linear-gradient(90deg,#d4ff00 0.2%,#fffd00 3.0%,#ff6c00 9.3%,#ff0001 14.8%,#fe00fe 25.9%,#0100ff 38.5%,#00fdff 49.6%,#01ff01 58.7%,#fcff00 68.6%,#fff200 69.0%,#ff8d00 70.9%,#ff6e00 71.3%,#ff3a00 71.7%,#ff0054 72.1%,#4900ff 72.5%,#00ffef 72.9%,#00ff2e 73.3%,#05ff00 73.7%,#7eff00 79.6%,#afff00 80.8%,#f6ff00 82.4%,#fffa00 82.8%,#ff0101 91.9%,#ff009c 97.8%,#ff00c9 99.8%)"></i>
<i style="height:2.30px;background:linear-gradient(90deg,#d1ff00 0.2%,#feff00 3.0%,#ff6a00 9.7%,#ff0400 14.8%,#ff0017 16.0%,#ff00fa 25.9%,#f400ff 26.7%,#0500ff 38.5%,#000dff 39.3%,#00f9ff 49.6%,#00fffb 50.0%,#00ff06 58.7%,#0fff00 59.5%,#f7ff00 68.6%,#fff900 69.0%,#ff9300 70.9%,#ff7500 71.3%,#ff3f00 71.7%,#ff004d 72.1%,#50f 72.5%,#00fff8 72.9%,#0f3 73.3%,#04ff00 73.7%,#34ff00 76.1%,#83ff00 80.0%,#fcff00 82.8%,#ff0500 91.9%,#f01 92.7%,#ff0098 97.8%,#ff00c5 99.8%)"></i>
<i style="height:2.30px;background:linear-gradient(90deg,#cdff00 0.2%,#fffc00 3.4%,#ff6700 10.1%,#ff0001 15.2%,#ff00fd 26.3%,#0100ff 38.9%,#00fffe 50.0%,#00ff02 59.1%,#feff00 69.0%,#ffd900 69.8%,#ff9700 70.9%,#ff7a00 71.3%,#f40 71.7%,#ff0047 72.1%,#6100ff 72.5%,#00fdff 72.9%,#00ff39 73.3%,#02ff00 73.7%,#15ff00 74.5%,#7dff00 80.0%,#9aff00 80.8%,#f3ff00 82.8%,#fffc00 83.2%,#ff0101 92.3%,#ff0094 97.8%,#ff00c0 99.8%)"></i>
<i style="height:2.30px;background:linear-gradient(90deg,#c9ff00 0.2%,#feff00 3.4%,#ff5400 11.3%,#ff0400 15.2%,#ff0017 16.4%,#fd00ff 26.7%,#0500ff 38.9%,#000dff 39.7%,#00faff 50.0%,#00ffef 50.8%,#03ff00 59.5%,#f9ff00 69.0%,#fff500 69.4%,#ff9b00 70.9%,#ff7e00 71.3%,#ff4900 71.7%,#ff0040 72.1%,#6c00ff 72.5%,#00f4ff 72.9%,#00ff3e 73.3%,#0f0 73.7%,#15ff00 74.5%,#82ff00 80.4%,#f9ff00 83.2%,#ffec00 84.0%,#ff0700 92.3%,#ff0004 92.7%,#ff008f 97.8%,#f0b 99.8%)"></i>
<i style="height:2.30px;background:linear-gradient(90deg,#c5ff00 0.2%,#fffc00 3.8%,#ff4900 12.1%,#ff0001 15.6%,#ff00fc 26.7%,#0100ff 39.3%,#00fefe 50.4%,#00ff03 59.5%,#45ff00 62.3%,#fffd00 69.4%,#ffa000 70.9%,#ff8200 71.3%,#ff4f00 71.7%,#ff003a 72.1%,#7800ff 72.5%,#00ebff 72.9%,#00ff43 73.3%,#00ff02 73.7%,#14ff00 74.5%,#7cff00 80.4%,#98ff00 81.2%,#fefe00 83.6%,#ff0300 92.7%,#ff0093 98.2%,#ff00b6 99.8%)"></i>
<i style="height:2.30px;background:linear-gradient(90deg,#c2ff00 0.2%,#feff00 3.8%,#ff0400 15.6%,#ff0016 16.8%,#fe00ff 27.1%,#0500ff 39.3%,#000dff 40.1%,#00faff 50.4%,#00fff0 51.2%,#01ff00 59.9%,#fcff00 69.4%,#fff100 69.8%,#ffa600 70.9%,#ff8700 71.3%,#f50 71.7%,#ff0032 72.1%,#8400ff 72.5%,#00e2ff 72.9%,#00ff49 73.3%,#00ff04 73.7%,#13ff00 74.5%,#80ff00 80.8%,#f6ff00 83.6%,#fffa00 84.0%,#ff0101 93.1%,#ff008f 98.2%,#ff00b1 99.8%)"></i>
<i style="height:2.30px;background:linear-gradient(90deg,#beff00 0.2%,#fbff00 3.8%,#fff300 4.5%,#ff0100 16.0%,#ff00fa 27.1%,#f300ff 27.9%,#0100ff 39.7%,#00feff 50.8%,#00ff05 59.9%,#10ff00 60.7%,#f6ff00 69.4%,#fff900 69.8%,#ffac00 70.9%,#ff8d00 71.3%,#ff5c00 71.7%,#ff002b 72.1%,#9000ff 72.5%,#00d9ff 72.9%,#00ff4f 73.3%,#00ff05 73.7%,#12ff00 74.5%,#7bff00 80.8%,#95ff00 81.6%,#fdff00 84.0%,#ff0600 93.1%,#ff0005 93.5%,#ff008a 98.2%,#ff00ac 99.8%)"></i>
<i style="height:2.30px;background:linear-gradient(90deg,#baff00 0.2%,#feff00 4.2%,#ff0003 16.4%,#ff00fe 27.5%,#0500ff 39.7%,#000dff 40.5%,#00f9ff 50.8%,#00fffb 51.2%,#00ff01 60.3%,#feff00 69.8%,#ffeb00 70.2%,#ff9400 71.3%,#ff6300 71.7%,#f02 72.1%,#9d00ff 72.5%,#00cfff 72.9%,#00ff54 73.3%,#00ff07 73.7%,#0bff00 74.1%,#7fff00 81.2%,#aeff00 82.4%,#f3ff00 84.0%,#fffc00 84.4%,#ff0300 93.5%,#ff008f 98.6%,#ff00a8 99.8%)"></i>
<i style="height:2.30px;background:linear-gradient(90deg,#b6ff00 0.2%,#fbff00 4.2%,#ffeb00 5.3%,#ff0200 16.4%,#fd00ff 27.9%,#0100ff 40.1%,#00feff 51.2%,#00ff07 60.3%,#03ff00 60.7%,#f8ff00 69.8%,#fff400 70.2%,#ff9b00 71.3%,#ff6c00 71.7%,#ff001a 72.1%,#a0f 72.5%,#00c4ff 72.9%,#00ff5b 73.3%,#00ff09 73.7%,#0aff00 74.1%,#7bff00 81.2%,#93ff00 82.0%,#faff00 84.4%,#ffec00 85.2%,#ff0101 93.9%,#ff008a 98.6%,#ff00a3 99.8%)"></i>
<i style="height:2.30px;background:linear-gradient(90deg,#b1ff00 0.2%,#fffe00 4.5%,#ff0001 16.8%,#ff00fc 27.9%,#0500ff 40.1%,#000dff 40.9%,#00f8ff 51.2%,#00fffc 51.6%,#00ff03 60.7%,#fffd00 70.2%,#ffe300 70.6%,#ffa200 71.3%,#ff7300 71.7%,#f01 72.1%,#b800ff 72.5%,#00b6ff 72.9%,#00ff62 73.3%,#00ff0b 73.7%,#0aff00 74.1%,#7eff00 81.6%,#9bff00 82.4%,#fefe00 84.8%,#ff0800 93.9%,#ff0003 94.3%,#ff0085 98.6%,#ff009e 99.8%)"></i>
<i style="height:2.30px;background:linear-gradient(90deg,#adff00 0.2%,#fcff00 4.5%,#ffda00 6.5%,#ff0500 16.8%,#ff000d 17.6%,#fe00ff 28.3%,#0100ff 40.5%,#00fdff 51.6%,#02ff00 61.1%,#fdff00 70.2%,#ffea00 70.6%,#ffa700 71.3%,#ff7800 71.7%,#ff0009 72.1%,#c600ff 72.5%,#00a7ff 72.9%,#00ff6a 73.3%,#00ff0d 73.7%,#09ff00 74.1%,#83ff00 82.0%,#f7ff00 84.8%,#fffa00 85.2%,#ff1b00 93.5%,#ff0600 94.3%,#ff0005 94.7%,#ff0080 98.6%,#ff009a 99.8%)"></i>
<i style="height:2.30px;background:linear-gradient(90deg,#a9ff00 0.2%,#fffe00 4.9%,#ff0200 17.2%,#ff00fc 28.3%,#0002ff 40.9%,#00fffd 52.0%,#00ff05 61.1%,#1f0 61.9%,#faff00 70.2%,#fe0 70.6%,#fa0 71.3%,#ff7a00 71.7%,#ff0003 72.1%,#d400ff 72.5%,#09f 72.9%,#00ff72 73.3%,#00ff0e 73.7%,#09ff00 74.1%,#7eff00 82.0%,#98ff00 82.8%,#fdff00 85.2%,#ff3700 92.7%,#ff0400 94.7%,#ff0014 95.5%,#ff0085 99.0%,#ff0095 99.8%)"></i>
<i style="height:2.30px;background:linear-gradient(90deg,#a4ff00 0.2%,#fcff00 4.9%,#ff7300 12.1%,#ff0101 17.6%,#fe00ff 28.7%,#0300ff 40.9%,#00bcff 49.2%,#00fcff 52.0%,#00ffb7 54.7%,#01ff01 61.5%,#f8ff00 70.2%,#fff200 70.6%,#ffac00 71.3%,#ff7c00 71.7%,#ff0300 72.1%,#e200ff 72.5%,#008aff 72.9%,#00ff79 73.3%,#00ff10 73.7%,#08ff00 74.1%,#81ff00 82.4%,#f4ff00 85.2%,#fffc00 85.6%,#ff5c00 91.5%,#ff0300 95.1%,#ff0031 96.6%,#ff0080 99.0%,#ff0090 99.8%)"></i>
<i style="height:2.30px;background:linear-gradient(90deg,#a0ff00 0.2%,#fffe00 5.3%,#ff0002 18.0%,#ff00fc 28.7%,#7000ff 35.8%,#0001ff 41.3%,#00fffd 52.4%,#00ff07 61.5%,#04ff00 61.9%,#f6ff00 70.2%,#fff500 70.6%,#ffaf00 71.3%,#ff7e00 71.7%,#ff0a00 72.1%,#f400ff 72.5%,#007aff 72.9%,#00ff81 73.3%,#00ff12 73.7%,#08ff00 74.1%,#7dff00 82.4%,#96ff00 83.2%,#faff00 85.6%,#ffec00 86.4%,#ff5900 91.9%,#ff0101 95.5%,#ff0085 99.4%,#ff008c 99.8%)"></i>
<i style="height:2.30px;background:linear-gradient(90deg,#9bff00 0.2%,#fcff00 5.3%,#ff3e00 15.2%,#ff0500 18.0%,#ff000d 18.8%,#fe00ff 29.1%,#0400ff 41.3%,#000dff 42.1%,#00fbff 52.4%,#00ffe3 53.6%,#00ff02 61.9%,#f4ff00 70.2%,#fff900 70.6%,#ffd800 70.9%,#ffb100 71.3%,#ff8100 71.7%,#f10 72.1%,#ff00f8 72.5%,#006aff 72.9%,#00ff89 73.3%,#00ff14 73.7%,#07ff00 74.1%,#80ff00 82.8%,#bfff00 84.4%,#fefe00 86.0%,#ff6900 91.5%,#ff0002 95.8%,#ff007f 99.4%,#ff0087 99.8%)"></i>
<i style="height:2.30px;background:linear-gradient(90deg,#96ff00 0.2%,#fffe00 5.7%,#ff1300 17.6%,#ff0300 18.4%,#ff0048 21.5%,#ff00fc 29.1%,#a100ff 33.8%,#0100ff 41.7%,#00fffe 52.8%,#02ff00 62.3%,#f2ff00 70.2%,#fffb00 70.6%,#ffdb00 70.9%,#ffb400 71.3%,#ff8300 71.7%,#ff1800 72.1%,#ff00e7 72.5%,#005bff 72.9%,#00ff90 73.3%,#00ff16 73.7%,#07ff00 74.1%,#7cff00 82.8%,#94ff00 83.6%,#f7ff00 86.0%,#fffa00 86.4%,#ff6f00 91.5%,#ff0700 95.8%,#ff0004 96.2%,#ff0079 99.4%,#ff0082 99.8%)"></i>
<i style="height:2.30px;background:linear-gradient(90deg,#91ff00 0.2%,#fdff00 5.7%,#ff5100 14.8%,#ff0001 18.8%,#fe00ff 29.4%,#0002ff 42.1%,#00fbff 52.8%,#00ffef 53.6%,#00ff04 62.3%,#13ff00 63.0%,#fffd00 70.6%,#ffdf00 70.9%,#ffb700 71.3%,#ff8500 71.7%,#ff1d00 72.1%,#ff00dc 72.5%,#0052ff 72.9%,#00ff94 73.3%,#00ff17 73.7%,#07ff00 74.1%,#7fff00 83.2%,#abff00 84.4%,#fdff00 86.4%,#ff6b00 91.9%,#ff0500 96.2%,#ff0007 96.6%,#ff0071 99.4%,#ff007c 99.8%)"></i>
<i style="height:2.30px;background:linear-gradient(90deg,#8cff00 0.2%,#fffd00 6.1%,#f50 14.8%,#ff0300 18.8%,#ff0048 21.9%,#ff00fc 29.4%,#a200ff 34.2%,#0300ff 42.1%,#00b5ff 50.0%,#00fefe 53.2%,#01ff01 62.6%,#ef0 70.2%,#feff00 70.6%,#ffe200 70.9%,#ffba00 71.3%,#ff8700 71.7%,#ff2100 72.1%,#ff00d4 72.5%,#004bff 72.9%,#00ff98 73.3%,#00ff17 73.7%,#06ff00 74.1%,#7bff00 83.2%,#92ff00 84.0%,#f4ff00 86.4%,#fffc00 86.8%,#ff7100 91.9%,#ff0200 96.6%,#ff001a 97.4%,#ff0074 99.8%)"></i>
<i style="height:2.30px;background:linear-gradient(90deg,#87ff00 0.2%,#fdff00 6.1%,#ff6200 14.4%,#ff0002 19.2%,#fe00ff 29.8%,#0001ff 42.5%,#00faff 53.2%,#00fff0 54.0%,#00ff06 62.6%,#05ff00 63.0%,#ecff00 70.2%,#fcff00 70.6%,#ffe600 70.9%,#ffbe00 71.3%,#ff8a00 71.7%,#ff2500 72.1%,#f0c 72.5%,#04f 72.9%,#00ff9b 73.3%,#00ff18 73.7%,#06ff00 74.1%,#7fff00 83.6%,#9f0 84.4%,#faff00 86.8%,#ffec00 87.5%,#ff6d00 92.3%,#ff0101 97.0%,#ff006b 99.8%)"></i>
<i style="height:2.30px;background:linear-gradient(90deg,#82ff00 0.2%,#fffd00 6.5%,#ff6800 14.4%,#ff0100 19.2%,#ff00fc 29.8%,#9300ff 35.4%,#0400ff 42.5%,#000dff 43.3%,#00feff 53.6%,#00ff02 63.0%,#f9ff00 70.6%,#ffea00 70.9%,#ffc100 71.3%,#ff8c00 71.7%,#ff2900 72.1%,#ff00c4 72.5%,#003dff 72.9%,#00ff9e 73.3%,#00ff19 73.7%,#06ff00 74.1%,#83ff00 84.0%,#fffe00 87.2%,#ff7300 92.3%,#ff0700 97.0%,#ff0005 97.4%,#ff0062 99.8%)"></i>
<i style="height:2.30px;background:linear-gradient(90deg,#7dff00 0.2%,#fdff00 6.5%,#ff6c00 14.4%,#ff0500 19.2%,#ff000d 20.0%,#fe00ff 30.2%,#0100ff 42.9%,#00f9ff 53.6%,#00fffb 54.0%,#00ff07 63.0%,#05ff00 63.4%,#f6ff00 70.6%,#ffef00 70.9%,#ffc500 71.3%,#ff8f00 71.7%,#ff2d00 72.1%,#f0b 72.5%,#0036ff 72.9%,#00ffa1 73.3%,#00ff1a 73.7%,#06ff00 74.1%,#7dff00 83.6%,#94ff00 84.4%,#f4ff00 86.8%,#fffe00 87.2%,#ffdb00 88.7%,#ff6800 93.1%,#ff0200 97.4%,#ff002c 98.6%,#ff0059 99.8%)"></i>
<i style="height:2.30px;background:linear-gradient(90deg,#78ff00 0.2%,#fffd00 6.9%,#ff6700 14.8%,#ff0001 19.6%,#ff00fc 30.2%,#8c00ff 36.2%,#0003ff 43.3%,#00feff 54.0%,#01ff00 63.4%,#f4ff00 70.6%,#fff400 70.9%,#ffc900 71.3%,#ff9200 71.7%,#ff3100 72.1%,#ff00b3 72.5%,#002fff 72.9%,#00ffa4 73.3%,#00ff1a 73.7%,#06ff00 74.1%,#7bff00 83.2%,#90ff00 84.0%,#f1ff00 86.4%,#fdff00 86.8%,#ffef00 88.3%,#ff5d00 93.9%,#ff0700 97.4%,#ff0005 97.8%,#ff0051 99.8%)"></i>
<i style="height:2.30px;background:linear-gradient(90deg,#74ff00 0.2%,#fdff00 6.9%,#ff6b00 14.8%,#ff0400 19.6%,#ff0021 21.1%,#fe00ff 30.6%,#0300ff 43.3%,#00b7ff 51.2%,#00f9ff 54.0%,#00fffb 54.3%,#00ff04 63.4%,#16ff00 64.2%,#f1ff00 70.6%,#fff800 70.9%,#ffcd00 71.3%,#ff9500 71.7%,#ff3500 72.1%,#ff00ab 72.5%,#0028ff 72.9%,#00ffa8 73.3%,#00ff1b 73.7%,#06ff00 74.1%,#81ff00 83.2%,#ceff00 85.2%,#faff00 86.4%,#fffb00 87.2%,#fe0 88.7%,#ff3400 95.8%,#ff0200 97.8%,#ff002c 99.0%,#ff0048 99.8%)"></i>
<i style="height:2.30px;background:linear-gradient(90deg,#70ff00 0.2%,#fffe00 7.3%,#f60 15.2%,#ff0001 20.0%,#ff00fc 30.6%,#8c00ff 36.6%,#0001ff 43.7%,#00fdff 54.3%,#00ff09 63.4%,#03ff00 63.8%,#efff00 70.6%,#fffa00 70.9%,#ffd100 71.3%,#ff9800 71.7%,#ff3a00 72.1%,#ff00a3 72.5%,#0021ff 72.9%,#00ffab 73.3%,#00ff1b 73.7%,#06ff00 74.1%,#7fff00 82.8%,#af0 84.0%,#f8ff00 86.0%,#fffe00 86.4%,#fe0 89.1%,#ff0800 97.8%,#ff0004 98.2%,#ff0040 99.8%)"></i>
<i style="height:2.30px;background:linear-gradient(90deg,#6bff00 0.2%,#fcff00 7.3%,#ff6a00 15.2%,#ff0400 20.0%,#ff0021 21.5%,#fe00ff 31.0%,#0400ff 43.7%,#000eff 44.5%,#00fffc 54.7%,#00ff01 63.8%,#edff00 70.6%,#fffd00 70.9%,#ffd500 71.3%,#ff9b00 71.7%,#ff3e00 72.1%,#ff009a 72.5%,#001aff 72.9%,#00ffae 73.3%,#00ff1c 73.7%,#07ff00 74.1%,#7dff00 82.4%,#96ff00 83.2%,#f6ff00 85.6%,#feff00 86.0%,#fe0 89.5%,#ff0300 98.2%,#ff0037 99.8%)"></i>
<i style="height:2.30px;background:linear-gradient(90deg,#67ff00 0.2%,#fffe00 7.7%,#ff6500 15.6%,#ff0001 20.4%,#ff00fc 31.0%,#8d00ff 37.0%,#0100ff 44.1%,#00fcff 54.7%,#00ffe2 55.9%,#00ff06 63.8%,#07ff00 64.2%,#ebff00 70.6%,#feff00 70.9%,#ffda00 71.3%,#ff9f00 71.7%,#ff4200 72.1%,#ff0092 72.5%,#0013ff 72.9%,#00ffb1 73.3%,#00ff1d 73.7%,#07ff00 74.1%,#7cff00 82.0%,#93ff00 82.8%,#f3ff00 85.2%,#fdff00 85.6%,#fff300 89.5%,#ffe500 90.3%,#ff0002 98.6%,#ff002d 99.8%)"></i>
<i style="height:2.30px;background:linear-gradient(90deg,#63ff00 0.2%,#dbff00 6.1%,#fcff00 7.7%,#ffbe00 11.3%,#ff5000 16.8%,#ff0400 20.4%,#ff0021 21.9%,#fe00ff 31.4%,#0003ff 44.5%,#00fefe 55.1%,#02ff00 64.2%,#e8ff00 70.6%,#fcff00 70.9%,#ffde00 71.3%,#ffa300 71.7%,#ff4700 72.1%,#ff008a 72.5%,#000cff 72.9%,#00ffb5 73.3%,#00ff1d 73.7%,#07ff00 74.1%,#83ff00 82.0%,#f1ff00 84.8%,#fcff00 85.2%,#fff200 89.9%,#ffe500 90.7%,#ff0800 98.6%,#ff0006 99.0%,#f02 99.8%)"></i>
<i style="height:2.30px;background:linear-gradient(90deg,#5fff00 0.2%,#bdff00 4.9%,#fffe00 8.1%,#ff5c00 16.4%,#ff0001 20.8%,#ff00fc 31.4%,#8e00ff 37.4%,#0200ff 44.5%,#00dcff 54.0%,#00fffc 55.5%,#00ff03 64.2%,#27ff00 65.4%,#e6ff00 70.6%,#f8ff00 70.9%,#ffe400 71.3%,#ffa800 71.7%,#ff4c00 72.1%,#ff0082 72.5%,#0005ff 72.9%,#00ffb8 73.3%,#00ff1e 73.7%,#07ff00 74.1%,#85ff00 81.6%,#f2ff00 84.4%,#fcfd00 84.8%,#fff200 90.3%,#ffe500 91.1%,#ff1c00 98.2%,#ff0500 99.0%,#ff0016 99.8%)"></i>
<i style="height:2.30px;background:linear-gradient(90deg,#5bff00 0.2%,#b1ff00 4.5%,#fbff00 8.1%,#ffe400 9.7%,#ff5800 16.8%,#ff0300 20.8%,#ff0021 22.3%,#fe00ff 31.8%,#0001ff 44.9%,#00fbff 55.5%,#00ffe1 56.7%,#00ff08 64.2%,#05ff00 64.6%,#f5ff00 70.9%,#ffe900 71.3%,#ffac00 71.7%,#ff5100 72.1%,#ff0079 72.5%,#0200ff 72.9%,#0fb 73.3%,#00ff1f 73.7%,#08ff00 74.1%,#69ff00 79.6%,#8fff00 81.2%,#f3ff00 83.6%,#fcfa00 84.0%,#ffed00 84.8%,#fff600 88.3%,#fff200 90.7%,#ffe500 91.5%,#ff4900 97.0%,#ff0200 99.4%,#ff000a 99.8%)"></i>
<i style="height:2.30px;background:linear-gradient(90deg,#57ff00 0.2%,#a4ff00 4.2%,#feff00 8.5%,#ff5300 17.2%,#ff0001 21.1%,#ff00fc 31.8%,#7f00ff 38.5%,#0400ff 44.9%,#000dff 45.7%,#00fefe 55.9%,#01ff01 64.6%,#f2ff00 70.9%,#ffef00 71.3%,#ffb100 71.7%,#f50 72.1%,#ff0071 72.5%,#0900ff 72.9%,#00ffbf 73.3%,#00ff1f 73.7%,#08ff00 74.1%,#6f0 79.2%,#91ff00 80.8%,#b5ff00 81.6%,#f2ff00 82.8%,#fef900 83.2%,#ffdc00 84.0%,#ffd600 84.4%,#fff400 87.9%,#fff200 91.1%,#ffe500 91.9%,#ff5f00 96.6%,#ff0900 99.4%,#ff0002 99.8%)"></i>
<i style="height:2.30px;background:linear-gradient(90deg,#54ff00 0.2%,#9fff00 4.2%,#faff00 8.5%,#fff400 9.3%,#ff4600 18.0%,#ff0300 21.1%,#ff0021 22.7%,#fe00ff 32.2%,#0100ff 45.3%,#00f8ff 55.9%,#00fffc 56.3%,#00ff05 64.6%,#09ff00 65.0%,#f0ff00 70.9%,#fff200 71.3%,#ffb400 71.7%,#ff5a00 72.1%,#ff0069 72.5%,#1000ff 72.9%,#00ffc2 73.3%,#00ff20 73.7%,#08ff00 74.1%,#68ff00 79.2%,#96ff00 80.8%,#c0ff00 81.6%,#f0ff00 82.4%,#fff700 82.8%,#ffce00 83.6%,#ffc100 84.0%,#ffbe00 84.4%,#ffd300 86.0%,#fe0 87.9%,#fff400 90.3%,#fff100 91.5%,#ffd700 92.7%,#ff6700 96.6%,#ff0600 99.8%)"></i>
<i style="height:2.30px;background:linear-gradient(90deg,#50ff00 0.2%,#9aff00 4.2%,#feff00 8.9%,#ff4a00 18.0%,#ff0001 21.5%,#ff00fc 32.2%,#0002ff 45.7%,#00fbff 56.3%,#00ffec 57.1%,#00ff0a 64.6%,#03ff00 65.0%,#efff00 70.9%,#fff300 71.3%,#ffb600 71.7%,#ff5d00 72.1%,#ff0061 72.5%,#1700ff 72.9%,#00ffc6 73.3%,#00ff21 73.7%,#08ff00 74.1%,#67ff00 79.2%,#87ff00 80.4%,#abff00 81.2%,#faff00 82.4%,#ffd000 83.2%,#ffba00 83.6%,#fa0 84.0%,#ffa600 84.4%,#ffb400 85.6%,#ffe600 87.9%,#fff200 89.5%,#fff200 91.5%,#ffe600 92.3%,#ff6f00 96.6%,#ff0c00 99.8%)"></i>
<i style="height:2.30px;background:linear-gradient(90deg,#4cff00 0.2%,#96ff00 4.2%,#fffc00 9.3%,#ff2d00 19.6%,#ff0300 21.5%,#ff0021 23.1%,#fd00ff 32.6%,#0300ff 45.7%,#0017ff 46.8%,#00fefe 56.7%,#00ff02 65.0%,#ef0 70.9%,#fff400 71.3%,#ffb700 71.7%,#ff6000 72.1%,#ff005b 72.5%,#1d00ff 72.9%,#00ffc9 73.3%,#00ff21 73.7%,#08ff00 74.1%,#6f0 79.2%,#85ff00 80.4%,#94ff00 80.8%,#c4ff00 81.6%,#ff0 82.4%,#fa0 83.6%,#ff9700 84.0%,#ff9000 84.4%,#ff9300 85.2%,#ffae00 86.4%,#ffda00 87.9%,#ffec00 89.1%,#fff300 91.5%,#ffeb00 92.3%,#ff7600 96.6%,#ff1200 99.8%)"></i>
<i style="height:2.30px;background:linear-gradient(90deg,#49ff00 0.2%,#91ff00 4.2%,#feff00 9.3%,#ff3100 19.6%,#ff0001 21.9%,#ff00fd 32.6%,#0100ff 46.0%,#00f8ff 56.7%,#00fffc 57.1%,#00ff07 65.0%,#07ff00 65.4%,#ef0 70.9%,#fff500 71.3%,#ffb900 71.7%,#ff6200 72.1%,#ff0058 72.5%,#20f 72.9%,#0fc 73.3%,#0f2 73.7%,#07ff00 74.1%,#6dff00 79.6%,#91ff00 80.8%,#a5ff00 81.2%,#fdff00 82.4%,#ffa200 83.6%,#ff8d00 84.0%,#ff7e00 84.8%,#ff8200 85.6%,#ffa200 86.8%,#ffd500 88.3%,#ffea00 89.5%,#fff200 91.5%,#fe0 92.3%,#ff7100 97.0%,#ff1800 99.8%)"></i>
<i style="height:2.30px;background:linear-gradient(90deg,#45ff00 0.2%,#95ff00 4.5%,#fffd00 9.7%,#ff0b00 21.5%,#ff0200 21.9%,#ff00f9 32.6%,#fc00ff 33.0%,#0002ff 46.4%,#00fbff 57.1%,#00ffec 57.9%,#02ff00 65.4%,#edff00 70.9%,#fff600 71.3%,#ffba00 71.7%,#ff6400 72.1%,#f05 72.5%,#2700ff 72.9%,#00ffd0 73.3%,#00ff23 73.7%,#07ff00 74.1%,#6cff00 79.6%,#8cff00 80.8%,#a0ff00 81.2%,#f7ff00 82.4%,#ffe600 82.8%,#ffa500 83.6%,#ff8e00 84.0%,#f70 84.8%,#ff7200 85.6%,#ff8000 86.4%,#ffd200 88.7%,#ffe900 89.9%,#fff200 91.9%,#ffea00 92.7%,#ff7800 97.0%,#ff1f00 99.8%)"></i>
<i style="height:2.30px;background:linear-gradient(90deg,#42ff00 0.2%,#90ff00 4.5%,#fdff00 9.7%,#ff3800 19.6%,#ff0003 22.3%,#ff00fe 33.0%,#0300ff 46.4%,#03f 48.8%,#00fefe 57.5%,#00ff04 65.4%,#1dff00 66.2%,#ecff00 70.9%,#fff600 71.3%,#ffbc00 71.7%,#f60 72.1%,#ff0052 72.5%,#2d00ff 72.9%,#00ffd3 73.3%,#00ff24 73.7%,#07ff00 74.1%,#73ff00 80.0%,#8f0 80.8%,#9bff00 81.2%,#d1ff00 82.0%,#efff00 82.4%,#fe0 82.8%,#ffab00 83.6%,#ff8300 84.4%,#ff6c00 85.2%,#ff6800 86.0%,#f70 86.8%,#ffd000 89.1%,#ffe800 90.3%,#fff100 91.9%,#fe0 92.7%,#ff7300 97.4%,#ff2600 99.8%)"></i>
<i style="height:2.30px;background:linear-gradient(90deg,#3eff00 0.2%,#93ff00 4.9%,#fffd00 10.1%,#ff0100 22.3%,#ff00fa 33.0%,#f400ff 33.8%,#0101ff 46.8%,#00f8ff 57.5%,#00fffc 57.9%,#00ff09 65.4%,#06ff00 65.8%,#ebff00 70.9%,#fff700 71.3%,#ffbd00 71.7%,#ff6800 72.1%,#ff004f 72.5%,#3200ff 72.9%,#00ffd7 73.3%,#00ff25 73.7%,#07ff00 74.1%,#7aff00 80.4%,#85ff00 80.8%,#97ff00 81.2%,#cbff00 82.0%,#e9ff00 82.4%,#fff500 82.8%,#ffb400 83.6%,#ff7a00 84.8%,#ff6200 85.6%,#ff5e00 86.4%,#ff6f00 87.2%,#ffcd00 89.5%,#ffe700 90.7%,#fff100 92.3%,#ffea00 93.1%,#ff7b00 97.4%,#ff2d00 99.8%)"></i>
<i style="height:2.30px;background:linear-gradient(90deg,#3bff00 0.2%,#8fff00 4.9%,#fcff00 10.1%,#ff3600 20.0%,#ff0400 22.3%,#ff0021 23.9%,#ff00fe 33.4%,#0003ff 47.2%,#00fbff 57.9%,#00ffeb 58.7%,#01ff01 65.8%,#eaff00 70.9%,#fff800 71.3%,#ffbf00 71.7%,#ff6a00 72.1%,#ff004c 72.5%,#3700ff 72.9%,#00ffda 73.3%,#00ff26 73.7%,#07ff00 74.1%,#79ff00 80.4%,#83ff00 80.8%,#94ff00 81.2%,#e3ff00 82.4%,#fffc00 82.8%,#ffbf00 83.6%,#ff7000 85.2%,#ff5700 86.0%,#ff5300 86.8%,#f60 87.5%,#ffbd00 89.5%,#ffe000 90.7%,#fe0 91.9%,#ffed00 93.1%,#ff7500 97.8%,#ff3400 99.8%)"></i>
<i style="height:2.30px;background:linear-gradient(90deg,#38ff00 0.2%,#8aff00 4.9%,#fffe00 10.5%,#ff0002 22.7%,#ff00fa 33.4%,#f400ff 34.2%,#0200ff 47.2%,#00fefe 58.3%,#00ff06 65.8%,#0aff00 66.2%,#e9ff00 70.9%,#fff900 71.3%,#ffc000 71.7%,#ff6c00 72.1%,#ff0049 72.5%,#3c00ff 72.9%,#00ffde 73.3%,#00ff26 73.7%,#07ff00 74.1%,#78ff00 80.4%,#81ff00 80.8%,#92ff00 81.2%,#deff00 82.4%,#fcff00 82.8%,#ffca00 83.6%,#f60 85.6%,#ff4c00 86.4%,#ff4800 86.8%,#ff4900 87.2%,#ff5e00 87.9%,#ffba00 89.9%,#ffdf00 91.1%,#ffed00 92.3%,#ffef00 93.1%,#ffcd00 94.7%,#ff7d00 97.8%,#ff3b00 99.8%)"></i>
<i style="height:2.30px;background:linear-gradient(90deg,#34ff00 0.2%,#8eff00 5.3%,#fcff00 10.5%,#ff4500 19.6%,#ff0100 22.7%,#f0f 33.8%,#0001ff 47.6%,#00f8ff 58.3%,#00fffc 58.7%,#00ff0b 65.8%,#04ff00 66.2%,#e7ff00 70.9%,#fffa00 71.3%,#ffc200 71.7%,#ff6e00 72.1%,#ff0046 72.5%,#4100ff 72.9%,#00ffe1 73.3%,#00ff27 73.7%,#07ff00 74.1%,#81ff00 80.8%,#a8ff00 81.6%,#f9ff00 82.8%,#ffe900 83.2%,#ff5c00 86.0%,#ff4200 86.8%,#ff3e00 87.2%,#ff4100 87.5%,#ff5900 88.3%,#ffba00 90.3%,#ffdf00 91.5%,#ffed00 92.7%,#ffec00 93.5%,#ff8300 97.8%,#ff4200 99.8%)"></i>
<i style="height:2.30px;background:linear-gradient(90deg,#30ff00 0.2%,#89ff00 5.3%,#fffe00 10.9%,#ff0500 22.7%,#ff000d 23.5%,#ff00fb 33.8%,#e500ff 35.4%,#0400ff 47.6%,#000cff 48.4%,#00fbff 58.7%,#00ffeb 59.5%,#00ff02 66.2%,#36ff00 67.4%,#e6ff00 70.9%,#fffb00 71.3%,#ffc300 71.7%,#ff7000 72.1%,#ff0043 72.5%,#4700ff 72.9%,#00ffe5 73.3%,#00ff28 73.7%,#07ff00 74.1%,#79ff00 80.4%,#83ff00 80.8%,#acff00 81.6%,#f9ff00 82.8%,#ffeb00 83.2%,#ffa400 84.8%,#ff5100 86.4%,#ff3d00 87.2%,#ff3c00 87.5%,#ff4e00 88.3%,#ffc100 90.7%,#ffe200 91.9%,#fe0 93.1%,#ffea00 93.9%,#ff7a00 98.2%,#ff4600 99.8%)"></i>
<i style="height:2.30px;background:linear-gradient(90deg,#2aff00 0.2%,#8dff00 5.7%,#fbff00 10.9%,#ffda00 12.8%,#ff0001 23.1%,#fe00ff 34.2%,#0200ff 48.0%,#00fefe 59.1%,#00ff08 66.2%,#09ff00 66.6%,#e5ff00 70.9%,#fffc00 71.3%,#ffc500 71.7%,#ff7200 72.1%,#ff0040 72.5%,#4c00ff 72.9%,#00ffe8 73.3%,#00ff29 73.7%,#07ff00 74.1%,#7cff00 80.4%,#8f0 80.8%,#e0ff00 82.4%,#faff00 82.8%,#ffde00 83.6%,#ffac00 84.8%,#ff5700 86.4%,#ff3e00 87.2%,#ff3a00 87.5%,#ff3d00 87.9%,#ff5600 88.7%,#ffb900 90.7%,#ffdf00 91.9%,#ffed00 93.1%,#fe0 93.9%,#ffbe00 95.8%,#ff6f00 98.6%,#ff4900 99.8%)"></i>
<i style="height:2.30px;background:linear-gradient(90deg,#25ff00 0.2%,#90ff00 6.1%,#fffe00 11.3%,#ff0200 23.1%,#ff00fc 34.2%,#7200ff 42.1%,#0001ff 48.4%,#00f7ff 59.1%,#00fffc 59.5%,#02ff00 66.6%,#e4ff00 70.9%,#fffd00 71.3%,#ffc700 71.7%,#ff7300 72.1%,#ff003d 72.5%,#5100ff 72.9%,#00ffec 73.3%,#00ff2a 73.7%,#07ff00 74.1%,#7fff00 80.4%,#a1ff00 81.2%,#fbff00 82.8%,#ffd600 84.0%,#ff9f00 85.2%,#ff5e00 86.4%,#ff4000 87.2%,#ff3a00 87.5%,#ff3a00 87.9%,#ff4e00 88.7%,#ffc200 91.1%,#ffe300 92.3%,#ffef00 93.5%,#ffec00 94.3%,#ff7f00 98.2%,#ff4d00 99.8%)"></i>
<i style="height:2.30px;background:linear-gradient(90deg,#20ff00 0.2%,#94ff00 6.5%,#fbff00 11.3%,#ffea00 12.5%,#ff0500 23.1%,#ff000d 23.9%,#fe00ff 34.6%,#0400ff 48.4%,#000dff 49.2%,#00fbff 59.5%,#00fff8 59.9%,#00ff04 66.6%,#0eff00 67.0%,#e2ff00 70.9%,#ff0 71.3%,#ffc800 71.7%,#ff7500 72.1%,#ff003a 72.5%,#5600ff 72.9%,#00fff0 73.3%,#00ff2b 73.7%,#07ff00 74.1%,#82ff00 80.4%,#d0ff00 82.0%,#fcff00 82.8%,#ffcd00 84.4%,#ff9200 85.6%,#ff5200 86.8%,#ff3a00 87.5%,#ff3800 87.9%,#ff3c00 88.3%,#ff5600 89.1%,#fb0 91.1%,#ffd700 91.9%,#ffeb00 93.1%,#ffef00 94.3%,#ffe000 95.1%,#ff5000 99.8%)"></i>
<i style="height:2.30px;background:linear-gradient(90deg,#1aff00 0.2%,#8fff00 6.5%,#feff00 11.7%,#ff1900 22.3%,#ff0001 23.5%,#ff00fd 34.6%,#0100ff 48.8%,#00fefe 59.9%,#00ff28 65.8%,#00ff0a 66.6%,#07ff00 67.0%,#e1ff00 70.9%,#feff00 71.3%,#ffca00 71.7%,#f70 72.1%,#ff0037 72.5%,#5c00ff 72.9%,#00fff3 73.3%,#00ff2b 73.7%,#07ff00 74.1%,#7bff00 80.0%,#98ff00 80.8%,#fdff00 82.8%,#ffd300 84.4%,#ff9a00 85.6%,#ff5900 86.8%,#ff3c00 87.5%,#ff3700 87.9%,#ff3800 88.3%,#ff4e00 89.1%,#ffb300 91.1%,#ffd200 91.9%,#ffe900 93.1%,#fff000 94.3%,#fe0 94.7%,#ffcf00 95.8%,#ff5300 99.8%)"></i>
<i style="height:2.30px;background:linear-gradient(90deg,#14ff00 0.2%,#93ff00 6.9%,#faff00 11.7%,#fff300 12.5%,#ff0a00 23.1%,#ff0200 23.5%,#fd00ff 35.0%,#0002ff 49.2%,#00f7ff 59.9%,#00fffc 60.3%,#01ff01 67.0%,#dfff00 70.9%,#fdff00 71.3%,#fc0 71.7%,#ff7900 72.1%,#ff0034 72.5%,#6100ff 72.9%,#00fff7 73.3%,#00ff2c 73.7%,#07ff00 74.1%,#7eff00 80.0%,#b1ff00 81.2%,#feff00 82.8%,#ffd800 84.4%,#ffa300 85.6%,#ff4e00 87.2%,#ff3700 87.9%,#ff3600 88.3%,#ff3b00 88.7%,#ff5700 89.5%,#ffbd00 91.5%,#ffd800 92.3%,#ffec00 93.5%,#fff000 94.7%,#ffed00 95.1%,#ff5600 99.8%)"></i>
<i style="height:2.30px;background:linear-gradient(90deg,#0eff00 0.2%,#97ff00 7.3%,#feff00 12.1%,#ff3100 21.5%,#ff0400 23.5%,#ff0016 24.7%,#ff00fd 35.0%,#0300ff 49.2%,#0017ff 50.4%,#00fbff 60.3%,#00fff7 60.7%,#00ff07 67.0%,#0cff00 67.4%,#df0 70.9%,#fcff00 71.3%,#ffcd00 71.7%,#ff7a00 72.1%,#ff0032 72.5%,#60f 72.9%,#00fffb 73.3%,#00ff2d 73.7%,#07ff00 74.1%,#82ff00 80.0%,#ff0 82.8%,#fd0 84.4%,#ffbf00 85.2%,#ff5400 87.2%,#ff3900 87.9%,#ff3400 88.3%,#ff3700 88.7%,#ff4f00 89.5%,#ffb500 91.5%,#ffd300 92.3%,#ffea00 93.5%,#fff000 95.1%,#fd0 95.8%,#ff6300 99.4%,#ff5900 99.8%)"></i>
<i style="height:2.30px;background:linear-gradient(90deg,#08ff00 0.2%,#9aff00 7.7%,#fffc00 12.5%,#f20 22.3%,#ff0002 23.9%,#ff00f9 35.0%,#f500ff 35.8%,#0100ff 49.6%,#00fefe 60.7%,#00ff97 63.4%,#00ff0d 67.0%,#05ff00 67.4%,#dcff00 70.9%,#faff00 71.3%,#ffcf00 71.7%,#ff7c00 72.1%,#ff002f 72.5%,#6c00ff 72.9%,#00fffe 73.3%,#00ff2e 73.7%,#07ff00 74.1%,#7bff00 79.6%,#97ff00 80.4%,#f1ff00 82.4%,#fffe00 82.8%,#ffe200 84.4%,#ffc600 85.2%,#f80 86.4%,#ff4900 87.5%,#ff3b00 87.9%,#ff3400 88.3%,#ff3400 88.7%,#ff3a00 89.1%,#ff5800 89.9%,#ffad00 91.5%,#ffcd00 92.3%,#ffe800 93.5%,#fff100 95.1%,#ffef00 95.5%,#ffd700 96.2%,#ff7100 99.0%,#ff5b00 99.8%)"></i>
<i style="height:2.30px;background:linear-gradient(90deg,#02ff00 0.2%,#96ff00 7.7%,#fdff00 12.5%,#ff4100 21.1%,#ff0100 23.9%,#ff00fe 35.4%,#0002ff 50.0%,#00f7ff 60.7%,#00fffc 61.1%,#00ff03 67.4%,#2bff00 68.2%,#daff00 70.9%,#f9ff00 71.3%,#ffd000 71.7%,#ff7e00 72.1%,#ff002c 72.5%,#7100ff 72.9%,#00fcff 73.3%,#00ff2f 73.7%,#08ff00 74.1%,#7eff00 79.6%,#d0ff00 81.6%,#f3ff00 82.4%,#fffe00 82.8%,#ffe600 84.4%,#fc0 85.2%,#ff9100 86.4%,#ff4f00 87.5%,#ff3500 88.3%,#ff3200 88.7%,#ff3500 89.1%,#ff4f00 89.9%,#ffb700 91.9%,#ffd400 92.7%,#ffea00 93.9%,#fff100 95.5%,#ffec00 95.8%,#ffa000 97.8%,#ff7400 99.0%,#ff5e00 99.8%)"></i>
<i style="height:2.30px;background:linear-gradient(90deg,#0f0 0.2%,#10ff00 1.4%,#b3ff00 9.3%,#fffd00 12.8%,#ff3200 21.9%,#ff0400 23.9%,#ff001f 25.5%,#ff00fa 35.4%,#f500ff 36.2%,#0300ff 50.0%,#0029ff 52.0%,#00fbff 61.1%,#00fff7 61.5%,#00ff09 67.4%,#0bff00 67.8%,#d8ff00 70.9%,#f7ff00 71.3%,#ffd200 71.7%,#ff8000 72.1%,#ff0029 72.5%,#7600ff 72.9%,#00f8ff 73.3%,#00ff30 73.7%,#08ff00 74.1%,#81ff00 79.6%,#f5ff00 82.4%,#fffe00 82.8%,#ffe900 84.4%,#ffd200 85.2%,#ff9a00 86.4%,#ff5600 87.5%,#ff3800 88.3%,#ff3100 88.7%,#ff3200 89.1%,#ff3900 89.5%,#ff5900 90.3%,#ffaf00 91.9%,#ffcf00 92.7%,#ffe900 93.9%,#fff100 95.5%,#fff000 95.8%,#ffe800 96.2%,#ff7600 99.0%,#ff6100 99.8%)"></i>
<i style="height:2.30px;background:linear-gradient(90deg,#0f0 0.2%,#03ff00 1.0%,#afff00 9.3%,#fdff00 12.8%,#ff5100 20.8%,#ff0002 24.3%,#ff00fe 35.8%,#0101ff 50.4%,#00fefe 61.5%,#00ffc2 63.0%,#02ff00 67.8%,#d5ff00 70.9%,#f6ff00 71.3%,#ffd400 71.7%,#ff8100 72.1%,#ff0026 72.5%,#7c00ff 72.9%,#00f4ff 73.3%,#00ff31 73.7%,#08ff00 74.1%,#86ff00 79.6%,#f7ff00 82.4%,#fffe00 82.8%,#ffec00 84.4%,#ffd800 85.2%,#ffb700 86.0%,#ff4a00 87.9%,#ff3200 88.7%,#ff3000 89.1%,#ff3400 89.5%,#ff5000 90.3%,#ffb900 92.3%,#ffd600 93.1%,#ffeb00 94.3%,#fff100 95.8%,#fe0 96.2%,#ffd200 97.0%,#ff8700 98.6%,#ff6300 99.8%)"></i>
<i style="height:0.40px;background:linear-gradient(90deg,#0f0 0.2%,#06ff00 1.4%,#c6ff00 10.5%,#fffc00 13.2%,#ff3700 21.9%,#ff0001 24.3%,#ff00fc 35.8%,#0300ff 50.4%,#0017ff 51.6%,#00faff 61.5%,#00fff9 61.9%,#00ff02 67.8%,#30ff00 68.6%,#d4ff00 70.9%,#f5ff00 71.3%,#ffd500 71.7%,#ff8300 72.1%,#ff0024 72.5%,#7f00ff 72.9%,#00f2ff 73.3%,#00ff31 73.7%,#08ff00 74.1%,#7cff00 79.2%,#daff00 81.6%,#f9ff00 82.4%,#fffe00 82.8%,#ffed00 84.4%,#fc0 85.6%,#ff9000 86.8%,#ff4d00 87.9%,#ff3200 88.7%,#ff2f00 89.1%,#ff3200 89.5%,#ff4c00 90.3%,#ffb600 92.3%,#ffd400 93.1%,#ffea00 94.3%,#fff200 95.8%,#fff000 96.2%,#ffe900 96.6%,#ff7a00 99.0%,#ff6500 99.8%)"></i>
</div>
<svg width="685" height="644" viewBox="0 0 685 644">
<defs><linearGradient id="rb" x1="0" y1="0" x2="0" y2="1"><stop offset="0" stop-color="#f80"/><stop offset="0.2" stop-color="#cf0"/><stop offset="0.4" stop-color="#0e6"/><stop offset="0.6" stop-color="#0cf"/><stop offset="0.8" stop-color="#24f"/><stop offset="1" stop-color="#a0e"/></linearGradient><linearGradient id="gj" x1="0" y1="0" x2="0" y2="1"><stop offset="0.000" stop-color="#d00"/><stop offset="0.021" stop-color="#d00"/><stop offset="0.042" stop-color="#d00"/><stop offset="0.062" stop-color="#d00"/><stop offset="0.083" stop-color="#d00"/><stop offset="0.104" stop-color="#d00"/><stop offset="0.125" stop-color="#de0700"/><stop offset="0.146" stop-color="#e42500"/><stop offset="0.167" stop-color="#ea4200"/><stop offset="0.188" stop-color="#f06000"/><stop offset="0.208" stop-color="#f77f00"/><stop offset="0.229" stop-color="#fd9e00"/><stop offset="0.250" stop-color="#fdb105"/><stop offset="0.271" stop-color="#fac20b"/><stop offset="0.292" stop-color="#f7d211"/><stop offset="0.312" stop-color="#f3e217"/><stop offset="0.333" stop-color="#f0f21d"/><stop offset="0.354" stop-color="#eaff26"/><stop offset="0.375" stop-color="#d4ff39"/><stop offset="0.396" stop-color="#beff4c"/><stop offset="0.417" stop-color="#a8ff5f"/><stop offset="0.438" stop-color="#92ff72"/><stop offset="0.458" stop-color="#7dff85"/><stop offset="0.479" stop-color="#67ff98"/><stop offset="0.500" stop-color="#56fba9"/><stop offset="0.521" stop-color="#45f7ba"/><stop offset="0.542" stop-color="#34f3cb"/><stop offset="0.562" stop-color="#23eedc"/><stop offset="0.583" stop-color="#1ae2e1"/><stop offset="0.604" stop-color="#12d5e5"/><stop offset="0.625" stop-color="#09c9e9"/><stop offset="0.646" stop-color="#00bcee"/><stop offset="0.667" stop-color="#00b8ee"/><stop offset="0.688" stop-color="#00b5ee"/><stop offset="0.708" stop-color="#00b1ee"/><stop offset="0.729" stop-color="#00aeee"/><stop offset="0.750" stop-color="#00abee"/><stop offset="0.771" stop-color="#0097ee"/><stop offset="0.792" stop-color="#007fee"/><stop offset="0.812" stop-color="#0067ee"/><stop offset="0.833" stop-color="#0047ee"/><stop offset="0.854" stop-color="#0027ee"/><stop offset="0.875" stop-color="#0008ee"/><stop offset="0.896" stop-color="#0000e1"/><stop offset="0.917" stop-color="#0000cf"/><stop offset="0.938" stop-color="#0000bd"/><stop offset="0.958" stop-color="#0000ab"/><stop offset="0.979" stop-color="#00009a"/><stop offset="1.000" stop-color="#008"/></linearGradient><linearGradient id="gh" x1="0" y1="0" x2="0" y2="1"><stop offset="0.000" stop-color="#ff0a14"/><stop offset="0.021" stop-color="#ff0730"/><stop offset="0.042" stop-color="#ff054b"/><stop offset="0.062" stop-color="#ff0366"/><stop offset="0.083" stop-color="#ff0082"/><stop offset="0.104" stop-color="#ff0798"/><stop offset="0.125" stop-color="#ff0faf"/><stop offset="0.146" stop-color="#ff17c6"/><stop offset="0.167" stop-color="#ff1edc"/><stop offset="0.188" stop-color="#e51bdc"/><stop offset="0.208" stop-color="#ca19dc"/><stop offset="0.229" stop-color="#b017dc"/><stop offset="0.250" stop-color="#9614dc"/><stop offset="0.271" stop-color="#7715dd"/><stop offset="0.292" stop-color="#5717de"/><stop offset="0.312" stop-color="#3818e0"/><stop offset="0.333" stop-color="#1919e1"/><stop offset="0.354" stop-color="#2233e4"/><stop offset="0.375" stop-color="#2a4ee6"/><stop offset="0.396" stop-color="#3368e8"/><stop offset="0.417" stop-color="#3c82eb"/><stop offset="0.438" stop-color="#41a1f0"/><stop offset="0.458" stop-color="#46c0f5"/><stop offset="0.479" stop-color="#4be0fa"/><stop offset="0.500" stop-color="#50ffff"/><stop offset="0.521" stop-color="#46fbe0"/><stop offset="0.542" stop-color="#3cf8c1"/><stop offset="0.562" stop-color="#32f4a1"/><stop offset="0.583" stop-color="#28f082"/><stop offset="0.604" stop-color="#23f267"/><stop offset="0.625" stop-color="#1ef54b"/><stop offset="0.646" stop-color="#19f82f"/><stop offset="0.667" stop-color="#14fa14"/><stop offset="0.688" stop-color="#34f819"/><stop offset="0.708" stop-color="#55f51e"/><stop offset="0.729" stop-color="#75f223"/><stop offset="0.750" stop-color="#96f028"/><stop offset="0.771" stop-color="#b0ef30"/><stop offset="0.792" stop-color="#caee37"/><stop offset="0.812" stop-color="#e5ec3e"/><stop offset="0.833" stop-color="#ffeb46"/><stop offset="0.854" stop-color="#ffd33f"/><stop offset="0.875" stop-color="#ffbc37"/><stop offset="0.896" stop-color="#ffa42f"/><stop offset="0.917" stop-color="#ff8c28"/><stop offset="0.938" stop-color="#ff6e20"/><stop offset="0.958" stop-color="#ff5019"/><stop offset="0.979" stop-color="#ff3212"/><stop offset="1.000" stop-color="#ff140a"/></linearGradient></defs>
<rect x="46.1" y="1" width="59.3" height="59.8" fill="#7fbdcb"/>
<path d="M57.8 9.5H67.0V26.7H84.3V9.5H93.5V52.5H84.3V36.2H67.0V52.5H57.8z" fill="#7b0000"/>
<path d="M96.8 12.5V49.5" stroke="#000" stroke-width="1.4" fill="none"/><path d="M96.8 9.5l2.6 4.9h-5.2z" fill="#000"/><path d="M96.8 52.5l2.6 -4.9h-5.2z" fill="#000"/>
<text x="48.4" y="12.8" class="tn">1</text>
<text x="98.7" y="33.8" class="ts">90</text>
<rect x="110.9" y="1" width="59.5" height="59.8" fill="#7fbdcb"/>
<path d="M122.8 16.7H132.0V26.7H149.4V16.7H158.6V45.5H149.4V36.2H132.0V45.5H122.8z" fill="#7b0000"/>
<path d="M161.8 19.7V42.5" stroke="#000" stroke-width="1.4" fill="none"/><path d="M161.8 16.7l2.6 4.9h-5.2z" fill="#000"/><path d="M161.8 45.5l2.6 -4.9h-5.2z" fill="#000"/>
<text x="113.2" y="12.8" class="tn">2</text>
<text x="163.7" y="33.8" class="ts">59</text>
<rect x="175.5" y="1" width="59.9" height="59.8" fill="#7fbdcb"/>
<path d="M187.9 20.7H197.2V26.7H214.7V20.7H223.8V41.5H214.7V36.2H197.2V41.5H187.9z" fill="#7b0000"/>
<path d="M227.0 23.7V38.5" stroke="#000" stroke-width="1.4" fill="none"/><path d="M227.0 20.7l2.6 4.9h-5.2z" fill="#000"/><path d="M227.0 41.5l2.6 -4.9h-5.2z" fill="#000"/>
<text x="177.8" y="12.8" class="tn">3</text>
<text x="228.9" y="33.8" class="ts">42</text>
<rect x="240.5" y="1" width="59.5" height="59.8" fill="#7fbdcb"/>
<path d="M252.2 26.0H261.3V27.0H279.0V26.0H288.0V36.8H279.0V36.2H261.3V36.8H252.2z" fill="#7b0000"/>
<path d="M291.4 29.0V33.8" stroke="#000" stroke-width="1.4" fill="none"/><path d="M291.4 26.0l2.6 4.9h-5.2z" fill="#000"/><path d="M291.4 36.8l2.6 -4.9h-5.2z" fill="#000"/>
<text x="242.8" y="12.8" class="tn">4</text>
<text x="293.3" y="33.8" class="ts">21</text>
<rect x="370.1" y="1" width="59.9" height="59.8" fill="#7fbdcb"/>
<rect x="382.4" y="9.4" width="36.1" height="44.1" fill="#ffff00"/>
<rect x="392.3" y="9.2" width="2" height="15.3" fill="#86c1c6"/>
<rect x="392.3" y="37.9" width="2" height="15.8" fill="#86c1c6"/>
<rect x="406.2" y="9.2" width="2" height="15.3" fill="#86c1c6"/>
<rect x="406.2" y="37.9" width="2" height="15.8" fill="#86c1c6"/>
<path d="M421.3 12.4V50.5" stroke="#000" stroke-width="1.4" fill="none"/><path d="M421.3 9.4l2.6 4.9h-5.2z" fill="#000"/><path d="M421.3 53.5l2.6 -4.9h-5.2z" fill="#000"/>
<text x="372.4" y="12.8" class="tn">1</text>
<text x="422.8" y="33.8" class="ts">91</text>
<rect x="436.1" y="1" width="60.7" height="59.8" fill="#7fbdcb"/>
<rect x="447.8" y="13.5" width="36.4" height="35.1" fill="#ffff00"/>
<rect x="457.7" y="13.3" width="2" height="12.0" fill="#86c1c6"/>
<rect x="457.7" y="37.8" width="2" height="11.0" fill="#86c1c6"/>
<rect x="471.6" y="13.3" width="2" height="12.0" fill="#86c1c6"/>
<rect x="471.6" y="37.8" width="2" height="11.0" fill="#86c1c6"/>
<path d="M487.4 16.5V45.6" stroke="#000" stroke-width="1.4" fill="none"/><path d="M487.4 13.5l2.6 4.9h-5.2z" fill="#000"/><path d="M487.4 48.6l2.6 -4.9h-5.2z" fill="#000"/>
<text x="438.4" y="12.8" class="tn">2</text>
<text x="488.9" y="33.8" class="ts">73</text>
<rect x="500.7" y="1" width="60.1" height="59.8" fill="#7fbdcb"/>
<rect x="513.4" y="18.0" width="35.8" height="25.9" fill="#ffff00"/>
<rect x="523.3" y="17.8" width="2" height="7.7" fill="#86c1c6"/>
<rect x="523.3" y="37.4" width="2" height="6.7" fill="#86c1c6"/>
<rect x="537.2" y="17.8" width="2" height="7.7" fill="#86c1c6"/>
<rect x="537.2" y="37.4" width="2" height="6.7" fill="#86c1c6"/>
<path d="M552.0 21.0V40.9" stroke="#000" stroke-width="1.4" fill="none"/><path d="M552.0 18.0l2.6 4.9h-5.2z" fill="#000"/><path d="M552.0 43.9l2.6 -4.9h-5.2z" fill="#000"/>
<text x="503.0" y="12.8" class="tn">3</text>
<text x="553.5" y="33.8" class="ts">53</text>
<rect x="565.9" y="1" width="60.1" height="59.8" fill="#7fbdcb"/>
<rect x="577.6" y="21.0" width="35.9" height="19.9" fill="#ffff00"/>
<rect x="587.5" y="20.8" width="2" height="5.2" fill="#86c1c6"/>
<rect x="587.5" y="37.2" width="2" height="3.9" fill="#86c1c6"/>
<rect x="601.4" y="20.8" width="2" height="5.2" fill="#86c1c6"/>
<rect x="601.4" y="37.2" width="2" height="3.9" fill="#86c1c6"/>
<path d="M616.4 24.0V37.9" stroke="#000" stroke-width="1.4" fill="none"/><path d="M616.4 21.0l2.6 4.9h-5.2z" fill="#000"/><path d="M616.4 40.9l2.6 -4.9h-5.2z" fill="#000"/>
<text x="568.2" y="12.8" class="tn">4</text>
<text x="617.9" y="33.8" class="ts">40</text>
<rect x="46.7" y="68.3" width="253.0" height="243.2" fill="none" stroke="#000" stroke-width="1.6"/>
<line x1="42.1" y1="311.5" x2="46.7" y2="311.5" stroke="#000" stroke-width="1.6"/>
<text x="38.0" y="316.1" text-anchor="end" class="tk">15</text>
<line x1="42.1" y1="281.1" x2="46.7" y2="281.1" stroke="#000" stroke-width="1.6"/>
<text x="38.0" y="285.7" text-anchor="end" class="tk">25</text>
<line x1="42.1" y1="250.7" x2="46.7" y2="250.7" stroke="#000" stroke-width="1.6"/>
<text x="38.0" y="255.3" text-anchor="end" class="tk">35</text>
<line x1="42.1" y1="220.3" x2="46.7" y2="220.3" stroke="#000" stroke-width="1.6"/>
<text x="38.0" y="224.9" text-anchor="end" class="tk">45</text>
<line x1="42.1" y1="189.9" x2="46.7" y2="189.9" stroke="#000" stroke-width="1.6"/>
<text x="38.0" y="194.5" text-anchor="end" class="tk">55</text>
<line x1="42.1" y1="159.5" x2="46.7" y2="159.5" stroke="#000" stroke-width="1.6"/>
<text x="38.0" y="164.1" text-anchor="end" class="tk">65</text>
<line x1="42.1" y1="129.1" x2="46.7" y2="129.1" stroke="#000" stroke-width="1.6"/>
<text x="38.0" y="133.7" text-anchor="end" class="tk">75</text>
<line x1="42.1" y1="98.7" x2="46.7" y2="98.7" stroke="#000" stroke-width="1.6"/>
<text x="38.0" y="103.3" text-anchor="end" class="tk">85</text>
<line x1="42.1" y1="68.3" x2="46.7" y2="68.3" stroke="#000" stroke-width="1.6"/>
<text x="38.0" y="72.9" text-anchor="end" class="tk">95</text>
<line x1="46.7" y1="311.5" x2="46.7" y2="316.1" stroke="#000" stroke-width="1.6"/>
<text x="46.7" y="331.7" text-anchor="middle" class="tk">0.8</text>
<line x1="82.8" y1="311.5" x2="82.8" y2="316.1" stroke="#000" stroke-width="1.6"/>
<text x="82.8" y="331.7" text-anchor="middle" class="tk">0.9</text>
<line x1="119.0" y1="311.5" x2="119.0" y2="316.1" stroke="#000" stroke-width="1.6"/>
<text x="119.0" y="331.7" text-anchor="middle" class="tk">1.0</text>
<line x1="155.1" y1="311.5" x2="155.1" y2="316.1" stroke="#000" stroke-width="1.6"/>
<text x="155.1" y="331.7" text-anchor="middle" class="tk">1.1</text>
<line x1="191.3" y1="311.5" x2="191.3" y2="316.1" stroke="#000" stroke-width="1.6"/>
<text x="191.3" y="331.7" text-anchor="middle" class="tk">1.2</text>
<line x1="227.4" y1="311.5" x2="227.4" y2="316.1" stroke="#000" stroke-width="1.6"/>
<text x="227.4" y="331.7" text-anchor="middle" class="tk">1.3</text>
<line x1="263.6" y1="311.5" x2="263.6" y2="316.1" stroke="#000" stroke-width="1.6"/>
<text x="263.6" y="331.7" text-anchor="middle" class="tk">1.4</text>
<line x1="299.7" y1="311.5" x2="299.7" y2="316.1" stroke="#000" stroke-width="1.6"/>
<text x="299.7" y="331.7" text-anchor="middle" class="tk">1.5</text>
<text transform="translate(14.7,187.5) rotate(-90)" text-anchor="middle" class="yl"><tspan font-style="italic">l</tspan><tspan font-style="italic" font-size="13" dy="3">1</tspan><tspan dy="-3"> (μm)</tspan></text>
<rect x="46.7" y="355.9" width="253.0" height="244.1" fill="none" stroke="#000" stroke-width="1.6"/>
<line x1="42.1" y1="600.0" x2="46.7" y2="600.0" stroke="#000" stroke-width="1.6"/>
<text x="38.0" y="604.6" text-anchor="end" class="tk">15</text>
<line x1="42.1" y1="569.5" x2="46.7" y2="569.5" stroke="#000" stroke-width="1.6"/>
<text x="38.0" y="574.1" text-anchor="end" class="tk">25</text>
<line x1="42.1" y1="539.0" x2="46.7" y2="539.0" stroke="#000" stroke-width="1.6"/>
<text x="38.0" y="543.6" text-anchor="end" class="tk">35</text>
<line x1="42.1" y1="508.5" x2="46.7" y2="508.5" stroke="#000" stroke-width="1.6"/>
<text x="38.0" y="513.1" text-anchor="end" class="tk">45</text>
<line x1="42.1" y1="477.9" x2="46.7" y2="477.9" stroke="#000" stroke-width="1.6"/>
<text x="38.0" y="482.6" text-anchor="end" class="tk">55</text>
<line x1="42.1" y1="447.4" x2="46.7" y2="447.4" stroke="#000" stroke-width="1.6"/>
<text x="38.0" y="452.0" text-anchor="end" class="tk">65</text>
<line x1="42.1" y1="416.9" x2="46.7" y2="416.9" stroke="#000" stroke-width="1.6"/>
<text x="38.0" y="421.5" text-anchor="end" class="tk">75</text>
<line x1="42.1" y1="386.4" x2="46.7" y2="386.4" stroke="#000" stroke-width="1.6"/>
<text x="38.0" y="391.0" text-anchor="end" class="tk">85</text>
<line x1="42.1" y1="355.9" x2="46.7" y2="355.9" stroke="#000" stroke-width="1.6"/>
<text x="38.0" y="360.5" text-anchor="end" class="tk">95</text>
<line x1="46.7" y1="600.0" x2="46.7" y2="604.6" stroke="#000" stroke-width="1.6"/>
<text x="46.7" y="620.2" text-anchor="middle" class="tk">0.8</text>
<line x1="82.8" y1="600.0" x2="82.8" y2="604.6" stroke="#000" stroke-width="1.6"/>
<text x="82.8" y="620.2" text-anchor="middle" class="tk">0.9</text>
<line x1="119.0" y1="600.0" x2="119.0" y2="604.6" stroke="#000" stroke-width="1.6"/>
<text x="119.0" y="620.2" text-anchor="middle" class="tk">1.0</text>
<line x1="155.1" y1="600.0" x2="155.1" y2="604.6" stroke="#000" stroke-width="1.6"/>
<text x="155.1" y="620.2" text-anchor="middle" class="tk">1.1</text>
<line x1="191.3" y1="600.0" x2="191.3" y2="604.6" stroke="#000" stroke-width="1.6"/>
<text x="191.3" y="620.2" text-anchor="middle" class="tk">1.2</text>
<line x1="227.4" y1="600.0" x2="227.4" y2="604.6" stroke="#000" stroke-width="1.6"/>
<text x="227.4" y="620.2" text-anchor="middle" class="tk">1.3</text>
<line x1="263.6" y1="600.0" x2="263.6" y2="604.6" stroke="#000" stroke-width="1.6"/>
<text x="263.6" y="620.2" text-anchor="middle" class="tk">1.4</text>
<line x1="299.7" y1="600.0" x2="299.7" y2="604.6" stroke="#000" stroke-width="1.6"/>
<text x="299.7" y="620.2" text-anchor="middle" class="tk">1.5</text>
<text transform="translate(14.7,475.5) rotate(-90)" text-anchor="middle" class="yl"><tspan font-style="italic">l</tspan><tspan font-style="italic" font-size="13" dy="3">1</tspan><tspan dy="-3"> (μm)</tspan></text>
<text x="173.2" y="638.3" text-anchor="middle" class="xl">Frequency (THz)</text>
<rect x="371.2" y="68.3" width="253.2" height="243.2" fill="none" stroke="#000" stroke-width="1.6"/>
<line x1="366.6" y1="311.5" x2="371.2" y2="311.5" stroke="#000" stroke-width="1.6"/>
<text x="362.5" y="316.1" text-anchor="end" class="tk">35</text>
<line x1="366.6" y1="271.0" x2="371.2" y2="271.0" stroke="#000" stroke-width="1.6"/>
<text x="362.5" y="275.6" text-anchor="end" class="tk">45</text>
<line x1="366.6" y1="230.4" x2="371.2" y2="230.4" stroke="#000" stroke-width="1.6"/>
<text x="362.5" y="235.0" text-anchor="end" class="tk">55</text>
<line x1="366.6" y1="189.9" x2="371.2" y2="189.9" stroke="#000" stroke-width="1.6"/>
<text x="362.5" y="194.5" text-anchor="end" class="tk">65</text>
<line x1="366.6" y1="149.4" x2="371.2" y2="149.4" stroke="#000" stroke-width="1.6"/>
<text x="362.5" y="154.0" text-anchor="end" class="tk">75</text>
<line x1="366.6" y1="108.8" x2="371.2" y2="108.8" stroke="#000" stroke-width="1.6"/>
<text x="362.5" y="113.4" text-anchor="end" class="tk">85</text>
<line x1="366.6" y1="68.3" x2="371.2" y2="68.3" stroke="#000" stroke-width="1.6"/>
<text x="362.5" y="72.9" text-anchor="end" class="tk">95</text>
<line x1="371.2" y1="311.5" x2="371.2" y2="316.1" stroke="#000" stroke-width="1.6"/>
<text x="371.2" y="331.7" text-anchor="middle" class="tk">0.8</text>
<line x1="407.4" y1="311.5" x2="407.4" y2="316.1" stroke="#000" stroke-width="1.6"/>
<text x="407.4" y="331.7" text-anchor="middle" class="tk">0.9</text>
<line x1="443.5" y1="311.5" x2="443.5" y2="316.1" stroke="#000" stroke-width="1.6"/>
<text x="443.5" y="331.7" text-anchor="middle" class="tk">1.0</text>
<line x1="479.7" y1="311.5" x2="479.7" y2="316.1" stroke="#000" stroke-width="1.6"/>
<text x="479.7" y="331.7" text-anchor="middle" class="tk">1.1</text>
<line x1="515.9" y1="311.5" x2="515.9" y2="316.1" stroke="#000" stroke-width="1.6"/>
<text x="515.9" y="331.7" text-anchor="middle" class="tk">1.2</text>
<line x1="552.1" y1="311.5" x2="552.1" y2="316.1" stroke="#000" stroke-width="1.6"/>
<text x="552.1" y="331.7" text-anchor="middle" class="tk">1.3</text>
<line x1="588.2" y1="311.5" x2="588.2" y2="316.1" stroke="#000" stroke-width="1.6"/>
<text x="588.2" y="331.7" text-anchor="middle" class="tk">1.4</text>
<line x1="624.4" y1="311.5" x2="624.4" y2="316.1" stroke="#000" stroke-width="1.6"/>
<text x="624.4" y="331.7" text-anchor="middle" class="tk">1.5</text>
<text transform="translate(339.6,187.5) rotate(-90)" text-anchor="middle" class="yl"><tspan font-style="italic">l</tspan><tspan font-style="italic" font-size="13" dy="3">2</tspan><tspan dy="-3"> (μm)</tspan></text>
<rect x="371.2" y="355.9" width="253.2" height="244.1" fill="none" stroke="#000" stroke-width="1.6"/>
<line x1="366.6" y1="600.0" x2="371.2" y2="600.0" stroke="#000" stroke-width="1.6"/>
<text x="362.5" y="604.6" text-anchor="end" class="tk">35</text>
<line x1="366.6" y1="559.3" x2="371.2" y2="559.3" stroke="#000" stroke-width="1.6"/>
<text x="362.5" y="563.9" text-anchor="end" class="tk">45</text>
<line x1="366.6" y1="518.6" x2="371.2" y2="518.6" stroke="#000" stroke-width="1.6"/>
<text x="362.5" y="523.2" text-anchor="end" class="tk">55</text>
<line x1="366.6" y1="477.9" x2="371.2" y2="477.9" stroke="#000" stroke-width="1.6"/>
<text x="362.5" y="482.6" text-anchor="end" class="tk">65</text>
<line x1="366.6" y1="437.3" x2="371.2" y2="437.3" stroke="#000" stroke-width="1.6"/>
<text x="362.5" y="441.9" text-anchor="end" class="tk">75</text>
<line x1="366.6" y1="396.6" x2="371.2" y2="396.6" stroke="#000" stroke-width="1.6"/>
<text x="362.5" y="401.2" text-anchor="end" class="tk">85</text>
<line x1="366.6" y1="355.9" x2="371.2" y2="355.9" stroke="#000" stroke-width="1.6"/>
<text x="362.5" y="360.5" text-anchor="end" class="tk">95</text>
<line x1="371.2" y1="600.0" x2="371.2" y2="604.6" stroke="#000" stroke-width="1.6"/>
<text x="371.2" y="620.2" text-anchor="middle" class="tk">0.8</text>
<line x1="407.4" y1="600.0" x2="407.4" y2="604.6" stroke="#000" stroke-width="1.6"/>
<text x="407.4" y="620.2" text-anchor="middle" class="tk">0.9</text>
<line x1="443.5" y1="600.0" x2="443.5" y2="604.6" stroke="#000" stroke-width="1.6"/>
<text x="443.5" y="620.2" text-anchor="middle" class="tk">1.0</text>
<line x1="479.7" y1="600.0" x2="479.7" y2="604.6" stroke="#000" stroke-width="1.6"/>
<text x="479.7" y="620.2" text-anchor="middle" class="tk">1.1</text>
<line x1="515.9" y1="600.0" x2="515.9" y2="604.6" stroke="#000" stroke-width="1.6"/>
<text x="515.9" y="620.2" text-anchor="middle" class="tk">1.2</text>
<line x1="552.1" y1="600.0" x2="552.1" y2="604.6" stroke="#000" stroke-width="1.6"/>
<text x="552.1" y="620.2" text-anchor="middle" class="tk">1.3</text>
<line x1="588.2" y1="600.0" x2="588.2" y2="604.6" stroke="#000" stroke-width="1.6"/>
<text x="588.2" y="620.2" text-anchor="middle" class="tk">1.4</text>
<line x1="624.4" y1="600.0" x2="624.4" y2="604.6" stroke="#000" stroke-width="1.6"/>
<text x="624.4" y="620.2" text-anchor="middle" class="tk">1.5</text>
<text transform="translate(339.6,475.5) rotate(-90)" text-anchor="middle" class="yl"><tspan font-style="italic">l</tspan><tspan font-style="italic" font-size="13" dy="3">2</tspan><tspan dy="-3"> (μm)</tspan></text>
<text x="497.8" y="638.3" text-anchor="middle" class="xl">Frequency (THz)</text>
<circle cx="191.3" cy="83.5" r="3.0" fill="none" stroke="#000" stroke-width="1.5"/>
<circle cx="191.3" cy="177.7" r="3.0" fill="none" stroke="#000" stroke-width="1.5"/>
<circle cx="191.3" cy="229.4" r="3.0" fill="none" stroke="#000" stroke-width="1.5"/>
<circle cx="191.3" cy="293.3" r="3.0" fill="none" stroke="#000" stroke-width="1.5"/>
<circle cx="191.3" cy="371.2" r="3.0" fill="none" stroke="#000" stroke-width="1.5"/>
<circle cx="191.3" cy="465.7" r="3.0" fill="none" stroke="#000" stroke-width="1.5"/>
<circle cx="191.3" cy="517.6" r="3.0" fill="none" stroke="#000" stroke-width="1.5"/>
<circle cx="191.3" cy="581.7" r="3.0" fill="none" stroke="#000" stroke-width="1.5"/>
<circle cx="515.9" cy="84.5" r="3.0" fill="none" stroke="#000" stroke-width="1.5"/>
<circle cx="515.9" cy="157.5" r="3.0" fill="none" stroke="#000" stroke-width="1.5"/>
<circle cx="515.9" cy="238.5" r="3.0" fill="none" stroke="#000" stroke-width="1.5"/>
<circle cx="515.9" cy="291.2" r="3.0" fill="none" stroke="#000" stroke-width="1.5"/>
<circle cx="515.9" cy="372.2" r="3.0" fill="none" stroke="#000" stroke-width="1.5"/>
<circle cx="515.9" cy="445.4" r="3.0" fill="none" stroke="#000" stroke-width="1.5"/>
<circle cx="515.9" cy="526.8" r="3.0" fill="none" stroke="#000" stroke-width="1.5"/>
<circle cx="515.9" cy="579.7" r="3.0" fill="none" stroke="#000" stroke-width="1.5"/>
<g fill="url(#rb)"><rect x="174.7" y="357.4" width="1.2" height="1.6"/><rect x="175.3" y="359.8" width="1.2" height="1.7"/><rect x="176.1" y="363.1" width="1.1" height="1.3"/><rect x="176.6" y="365.3" width="1.2" height="1.2"/><rect x="177.2" y="367.8" width="1.3" height="1.4"/><rect x="177.9" y="370.8" width="1.2" height="1.2"/><rect x="178.6" y="373.4" width="1.1" height="1.4"/><rect x="179.1" y="375.8" width="1.3" height="1.5"/><rect x="179.7" y="377.9" width="1.2" height="1.7"/><rect x="180.3" y="380.5" width="1.1" height="1.4"/><rect x="180.9" y="383.6" width="1.4" height="1.6"/><rect x="181.7" y="386.8" width="1.3" height="1.4"/><rect x="182.3" y="389.0" width="1.3" height="1.5"/><rect x="183.0" y="391.5" width="1.1" height="1.4"/><rect x="183.7" y="394.2" width="1.1" height="1.4"/><rect x="184.2" y="396.7" width="1.3" height="1.6"/><rect x="184.9" y="399.1" width="1.1" height="1.5"/><rect x="185.5" y="401.4" width="1.1" height="1.5"/><rect x="186.0" y="403.7" width="1.2" height="1.4"/><rect x="186.8" y="406.5" width="1.3" height="1.6"/><rect x="187.8" y="409.4" width="1.1" height="1.6"/><rect x="188.6" y="412.0" width="1.2" height="1.4"/><rect x="189.5" y="414.6" width="1.0" height="1.3"/><rect x="190.5" y="417.7" width="1.1" height="1.6"/><rect x="191.3" y="420.6" width="1.3" height="1.5"/><rect x="192.3" y="423.5" width="1.0" height="1.2"/><rect x="193.1" y="425.8" width="1.1" height="1.3"/><rect x="193.9" y="428.0" width="1.2" height="1.3"/><rect x="195.1" y="431.1" width="1.3" height="1.5"/><rect x="196.4" y="433.9" width="1.1" height="1.8"/><rect x="197.5" y="437.1" width="1.3" height="1.5"/><rect x="198.7" y="440.1" width="1.3" height="1.6"/><rect x="200.0" y="443.3" width="1.3" height="1.4"/><rect x="201.2" y="446.1" width="1.1" height="1.3"/><rect x="202.4" y="448.8" width="1.3" height="1.8"/><rect x="203.8" y="452.1" width="1.2" height="1.3"/><rect x="204.9" y="454.6" width="1.4" height="1.7"/><rect x="206.1" y="457.4" width="1.2" height="1.3"/><rect x="207.2" y="459.5" width="1.0" height="1.7"/><rect x="208.4" y="462.4" width="1.1" height="1.4"/><rect x="209.3" y="464.5" width="1.1" height="1.6"/><rect x="210.4" y="467.5" width="1.2" height="1.4"/><rect x="211.4" y="470.3" width="1.4" height="1.5"/><rect x="212.5" y="472.5" width="1.0" height="1.2"/><rect x="213.7" y="475.5" width="1.2" height="1.7"/><rect x="214.8" y="477.8" width="1.1" height="1.6"/><rect x="216.3" y="481.1" width="1.1" height="1.2"/><rect x="217.9" y="484.0" width="1.1" height="1.6"/><rect x="218.9" y="486.3" width="1.3" height="1.7"/><rect x="220.5" y="489.2" width="1.1" height="1.6"/><rect x="221.6" y="491.6" width="1.1" height="1.5"/><rect x="223.2" y="494.5" width="1.1" height="1.7"/><rect x="224.6" y="497.7" width="1.4" height="1.4"/><rect x="225.9" y="499.9" width="1.1" height="1.7"/><rect x="227.4" y="503.2" width="1.3" height="1.5"/><rect x="228.6" y="505.5" width="1.3" height="1.7"/><rect x="229.9" y="507.7" width="1.1" height="1.7"/><rect x="231.2" y="510.9" width="1.1" height="1.4"/><rect x="232.3" y="513.6" width="1.2" height="1.3"/><rect x="233.6" y="516.4" width="1.2" height="1.7"/><rect x="234.6" y="518.8" width="1.4" height="1.7"/><rect x="235.6" y="521.3" width="1.4" height="1.6"/><rect x="237.1" y="524.5" width="1.0" height="1.2"/><rect x="238.3" y="527.3" width="1.1" height="1.5"/><rect x="239.0" y="529.6" width="1.4" height="1.5"/><rect x="240.4" y="532.7" width="1.0" height="1.5"/><rect x="241.1" y="534.8" width="1.4" height="1.5"/><rect x="242.1" y="537.0" width="1.0" height="1.5"/><rect x="242.9" y="539.2" width="1.1" height="1.5"/><rect x="243.9" y="541.8" width="1.2" height="1.6"/><rect x="244.8" y="544.4" width="1.2" height="1.3"/><rect x="245.6" y="546.8" width="1.3" height="1.3"/><rect x="246.5" y="549.1" width="1.1" height="1.5"/><rect x="247.3" y="551.2" width="1.0" height="1.5"/><rect x="248.0" y="553.3" width="1.3" height="1.7"/><rect x="248.9" y="556.2" width="1.3" height="1.4"/><rect x="249.6" y="558.3" width="1.2" height="1.4"/><rect x="250.4" y="561.2" width="1.1" height="1.3"/><rect x="251.3" y="564.1" width="1.1" height="1.4"/><rect x="252.2" y="567.4" width="1.1" height="1.3"/><rect x="252.9" y="570.2" width="1.2" height="1.6"/><rect x="253.4" y="572.5" width="1.2" height="1.2"/><rect x="253.8" y="574.8" width="1.3" height="1.2"/><rect x="254.3" y="577.0" width="1.4" height="1.8"/><rect x="254.9" y="579.7" width="1.3" height="1.6"/><rect x="255.4" y="582.5" width="1.3" height="1.3"/><rect x="256.1" y="585.3" width="1.0" height="1.7"/><rect x="256.5" y="588.3" width="1.2" height="1.6"/><rect x="256.9" y="591.0" width="1.3" height="1.3"/><rect x="257.4" y="593.5" width="1.3" height="1.8"/><rect x="257.9" y="595.8" width="1.1" height="1.7"/></g>
<g fill="url(#rb)"><rect x="372.7" y="402.9" width="5.1" height="3.0"/><rect x="375.7" y="410.2" width="2.8" height="2.3"/><rect x="378.6" y="418.7" width="3.8" height="2.5"/><rect x="381.8" y="427.4" width="3.1" height="2.9"/><rect x="384.2" y="434.3" width="4.5" height="3.1"/><rect x="388.0" y="442.6" width="3.1" height="2.7"/><rect x="389.9" y="449.5" width="3.3" height="2.4"/><rect x="392.2" y="455.4" width="5.9" height="3.7"/><rect x="397.7" y="462.7" width="2.1" height="2.5"/><rect x="397.6" y="471.2" width="5.1" height="2.2"/><rect x="401.2" y="478.7" width="2.0" height="3.0"/><rect x="402.7" y="487.1" width="5.9" height="2.6"/><rect x="405.8" y="495.3" width="5.5" height="3.7"/><rect x="408.1" y="501.3" width="3.9" height="3.8"/><rect x="409.4" y="508.9" width="5.3" height="3.1"/><rect x="412.7" y="518.0" width="3.9" height="2.2"/><rect x="415.9" y="524.1" width="2.4" height="2.6"/></g>
<g fill="url(#rb)"><rect x="400.4" y="476.8" width="1.5" height="1.5"/><rect x="402.3" y="480.9" width="1.0" height="1.3"/><rect x="403.7" y="484.4" width="1.3" height="1.6"/><rect x="405.0" y="487.6" width="1.4" height="1.6"/><rect x="406.6" y="491.4" width="1.3" height="1.8"/><rect x="407.4" y="495.0" width="1.6" height="2.0"/><rect x="408.3" y="498.3" width="1.5" height="2.0"/><rect x="409.0" y="501.1" width="1.4" height="2.0"/><rect x="410.0" y="505.1" width="1.4" height="1.7"/><rect x="410.7" y="508.1" width="1.6" height="1.6"/><rect x="411.7" y="510.9" width="1.4" height="2.2"/><rect x="412.7" y="514.2" width="1.4" height="1.8"/><rect x="413.9" y="518.1" width="1.6" height="1.6"/><rect x="415.2" y="521.0" width="1.2" height="1.9"/><rect x="416.7" y="524.7" width="1.2" height="2.2"/><rect x="417.9" y="528.3" width="1.2" height="1.9"/><rect x="418.5" y="531.1" width="1.2" height="2.0"/><rect x="419.3" y="535.3" width="1.2" height="1.4"/><rect x="420.0" y="538.4" width="1.2" height="1.9"/><rect x="420.7" y="541.4" width="1.2" height="2.0"/><rect x="421.4" y="545.0" width="1.5" height="2.2"/><rect x="422.6" y="549.2" width="1.1" height="1.8"/><rect x="423.4" y="552.6" width="1.2" height="1.9"/><rect x="424.4" y="556.8" width="1.4" height="1.3"/><rect x="425.5" y="560.6" width="1.0" height="1.4"/><rect x="426.3" y="564.8" width="1.2" height="1.3"/><rect x="427.1" y="568.3" width="1.1" height="1.8"/><rect x="427.7" y="571.2" width="1.0" height="2.2"/><rect x="428.1" y="574.4" width="1.3" height="1.5"/><rect x="428.7" y="578.0" width="1.5" height="1.8"/><rect x="429.5" y="581.5" width="1.1" height="1.9"/><rect x="429.9" y="584.9" width="1.3" height="1.2"/><rect x="430.3" y="587.8" width="1.5" height="1.8"/><rect x="431.0" y="591.3" width="1.2" height="2.0"/><rect x="431.5" y="594.5" width="1.1" height="1.8"/><rect x="431.8" y="597.9" width="1.5" height="1.4"/></g>
<g fill="url(#rb)"><rect x="576.0" y="358.6" width="1.8" height="3.1"/><rect x="574.3" y="364.9" width="3.3" height="3.4"/><rect x="574.2" y="372.4" width="2.8" height="2.1"/><rect x="575.1" y="377.9" width="2.8" height="3.0"/><rect x="576.4" y="385.9" width="2.5" height="2.1"/><rect x="576.7" y="391.8" width="3.8" height="2.3"/><rect x="577.7" y="398.5" width="3.8" height="2.0"/><rect x="578.9" y="405.3" width="3.9" height="2.3"/><rect x="580.1" y="412.2" width="3.8" height="2.2"/><rect x="581.8" y="418.5" width="3.4" height="2.9"/><rect x="584.1" y="425.2" width="2.1" height="2.7"/><rect x="585.3" y="431.6" width="2.7" height="2.5"/><rect x="586.6" y="439.3" width="3.4" height="2.4"/><rect x="588.7" y="446.1" width="2.3" height="2.6"/><rect x="589.8" y="452.4" width="3.2" height="2.5"/><rect x="591.8" y="458.9" width="3.3" height="2.6"/><rect x="595.0" y="466.5" width="2.0" height="3.0"/><rect x="596.9" y="473.0" width="2.6" height="2.9"/><rect x="598.8" y="480.2" width="2.6" height="2.0"/><rect x="599.7" y="485.3" width="3.3" height="2.7"/><rect x="601.0" y="492.4" width="3.9" height="3.0"/><rect x="603.0" y="497.8" width="2.3" height="2.8"/><rect x="603.9" y="503.5" width="3.9" height="3.3"/><rect x="607.1" y="511.2" width="2.7" height="3.2"/><rect x="609.5" y="517.1" width="2.3" height="2.6"/><rect x="612.4" y="524.7" width="2.8" height="2.2"/><rect x="615.1" y="530.8" width="2.4" height="2.4"/><rect x="616.8" y="536.3" width="2.6" height="2.6"/><rect x="618.2" y="543.7" width="3.5" height="2.7"/></g>
<g fill="url(#rb)"><rect x="582.4" y="416.9" width="1.0" height="1.6"/><rect x="583.3" y="420.7" width="1.1" height="1.3"/><rect x="584.0" y="423.9" width="1.3" height="1.4"/><rect x="584.8" y="427.0" width="1.2" height="1.3"/><rect x="585.7" y="431.3" width="1.6" height="1.2"/><rect x="586.6" y="435.0" width="1.3" height="1.9"/><rect x="587.5" y="439.0" width="1.3" height="1.8"/><rect x="588.2" y="442.5" width="1.4" height="1.9"/><rect x="589.0" y="446.1" width="1.6" height="1.8"/><rect x="590.4" y="450.7" width="1.1" height="1.6"/><rect x="591.3" y="455.0" width="1.4" height="1.9"/><rect x="592.9" y="459.7" width="1.1" height="1.4"/><rect x="594.2" y="463.8" width="1.5" height="1.8"/><rect x="595.4" y="467.3" width="1.3" height="1.7"/><rect x="596.7" y="471.0" width="1.3" height="1.5"/><rect x="598.2" y="475.2" width="1.1" height="1.8"/><rect x="599.1" y="479.5" width="1.6" height="1.2"/><rect x="600.1" y="483.3" width="1.4" height="1.6"/><rect x="600.9" y="486.3" width="1.0" height="1.3"/><rect x="601.8" y="490.5" width="1.1" height="1.3"/><rect x="602.5" y="493.8" width="1.3" height="1.8"/><rect x="603.5" y="497.8" width="1.2" height="1.9"/><rect x="604.1" y="501.0" width="1.2" height="1.4"/><rect x="605.3" y="504.4" width="1.3" height="1.6"/><rect x="606.5" y="508.0" width="1.1" height="1.4"/><rect x="607.4" y="511.2" width="1.4" height="1.5"/><rect x="609.0" y="515.0" width="1.3" height="1.5"/><rect x="610.7" y="519.1" width="1.3" height="1.4"/><rect x="612.6" y="523.7" width="1.1" height="1.3"/><rect x="614.1" y="527.5" width="1.3" height="1.3"/><rect x="615.3" y="530.5" width="1.3" height="1.4"/><rect x="616.5" y="533.4" width="1.3" height="1.7"/><rect x="617.4" y="536.6" width="1.3" height="1.3"/><rect x="618.3" y="540.7" width="1.5" height="1.4"/><rect x="619.0" y="543.6" width="1.6" height="1.6"/><rect x="620.2" y="546.6" width="1.1" height="1.9"/><rect x="621.5" y="550.5" width="1.2" height="1.7"/></g>
<g fill="url(#rb)"><rect x="540.6" y="367.7" width="3.7" height="3.5"/><rect x="543.1" y="376.6" width="2.8" height="2.3"/><rect x="544.9" y="382.1" width="2.6" height="2.6"/><rect x="545.5" y="389.2" width="2.7" height="2.8"/><rect x="545.9" y="396.4" width="3.4" height="3.1"/><rect x="546.3" y="404.3" width="2.6" height="2.4"/><rect x="545.8" y="413.0" width="2.3" height="2.3"/><rect x="546.0" y="418.9" width="4.0" height="2.2"/><rect x="548.5" y="425.4" width="1.7" height="2.3"/><rect x="548.0" y="432.2" width="3.7" height="2.5"/><rect x="549.9" y="440.9" width="1.6" height="2.5"/><rect x="549.8" y="447.2" width="3.4" height="3.4"/><rect x="550.6" y="454.3" width="2.6" height="2.4"/><rect x="550.1" y="462.6" width="3.1" height="2.1"/><rect x="550.6" y="470.1" width="3.5" height="2.0"/><rect x="551.3" y="476.4" width="3.5" height="3.5"/><rect x="552.6" y="484.3" width="1.6" height="2.7"/></g>
<rect x="634.4" y="67.8" width="18.3" height="244.8" fill="url(#gj)" stroke="#402020" stroke-width="0.5"/>
<rect x="634.4" y="355.6" width="18.3" height="245.3" fill="url(#gh)" stroke="#402020" stroke-width="0.5"/>
<text x="655.8" y="77.6" class="cb">0.9</text><text x="655.8" y="313.4" class="cb">0</text>
<text x="656" y="365.6" class="cb">360°</text><text x="656" y="601.2" class="cb">0°</text>
<text x="-0.5" y="55.7" class="pl">(a)</text><text x="0.4" y="342.8" class="pl">(b)</text>
<text x="326.7" y="55.7" class="pl">(c)</text><text x="328.2" y="343" class="pl">(d)</text>
</svg></body></html>
